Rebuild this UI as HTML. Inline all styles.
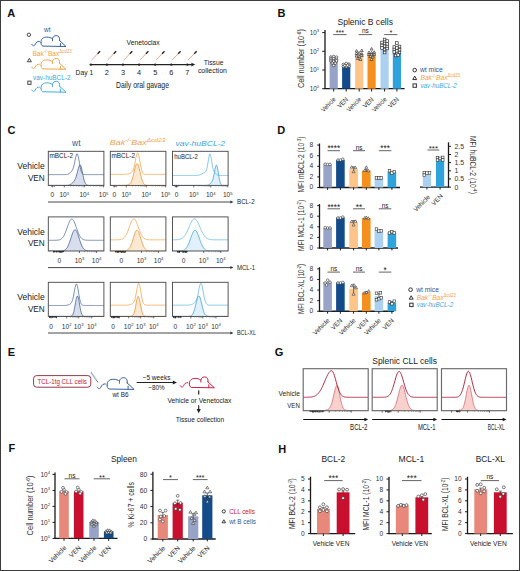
<!DOCTYPE html>
<html><head><meta charset="utf-8"><style>
html,body{margin:0;padding:0;background:#fff;}
svg{display:block;font-family:"Liberation Sans", sans-serif;}
</style></head><body>
<svg width="520" height="571" viewBox="0 0 520 571">
<rect x="0" y="0" width="520" height="571" fill="#fff"/>
<rect x="0.50" y="0.50" width="519.00" height="570.00" fill="none" stroke="#3c3c3c" stroke-width="1" />
<text x="7.20" y="17.20" font-size="11" fill="#111" text-anchor="start" font-weight="bold" >A</text>
<circle cx="28.90" cy="34.80" r="1.70" fill="white" stroke="#333" stroke-width="0.9"/>
<text x="44.00" y="31.80" font-size="6.5" fill="#2a5a9a" text-anchor="start" >wt</text>
<path d="M0,9.6 C0.8,11.2 2.4,11.6 3.4,9.6 C4.3,7.6 5.6,6.2 7.6,6.6 M9.2,7.8 C8.9,4.0 11.5,2.3 15,2.3 C17.6,2.3 19.2,3.0 20.4,3.8 M20.6,6.0 C20.2,2.8 21.8,0.8 24.4,0.8 C27,0.8 28.3,2.8 27.8,5.8 M27.6,5.6 L34.2,11.7 L11,11.3 C9.6,10.8 9.2,9.4 9.2,7.8 M28.6,8.6 L28.6,11.5" transform="translate(31.80,34.80) scale(1.0)" fill="none" stroke="#2a5a9a" stroke-width="0.95" stroke-linecap="round" stroke-linejoin="round"/>
<path d="M29.40,58.35 L31.38,61.77 L27.42,61.77 Z" fill="white" stroke="#333" stroke-width="0.9"/>
<text x="32.50" y="55.60" font-size="6.8" fill="#f0a050" text-anchor="start" textLength="39.2" lengthAdjust="spacingAndGlyphs" >Bak<tspan font-size="4.6" dy="-2.4">-/-</tspan><tspan dy="2.4">Bax</tspan><tspan font-size="4.6" dy="-2.4">Δcd23</tspan></text>
<path d="M0,9.6 C0.8,11.2 2.4,11.6 3.4,9.6 C4.3,7.6 5.6,6.2 7.6,6.6 M9.2,7.8 C8.9,4.0 11.5,2.3 15,2.3 C17.6,2.3 19.2,3.0 20.4,3.8 M20.6,6.0 C20.2,2.8 21.8,0.8 24.4,0.8 C27,0.8 28.3,2.8 27.8,5.8 M27.6,5.6 L34.2,11.7 L11,11.3 C9.6,10.8 9.2,9.4 9.2,7.8 M28.6,8.6 L28.6,11.5" transform="translate(31.80,57.60) scale(1.0)" fill="none" stroke="#f0a040" stroke-width="0.95" stroke-linecap="round" stroke-linejoin="round"/>
<rect x="27.80" y="81.10" width="3.20" height="3.20" fill="white" stroke="#333" stroke-width="0.9"/>
<text x="33.00" y="79.50" font-size="6.5" fill="#40a8dc" text-anchor="start" textLength="37.5" lengthAdjust="spacingAndGlyphs" >vav-huBCL-2</text>
<path d="M0,9.6 C0.8,11.2 2.4,11.6 3.4,9.6 C4.3,7.6 5.6,6.2 7.6,6.6 M9.2,7.8 C8.9,4.0 11.5,2.3 15,2.3 C17.6,2.3 19.2,3.0 20.4,3.8 M20.6,6.0 C20.2,2.8 21.8,0.8 24.4,0.8 C27,0.8 28.3,2.8 27.8,5.8 M27.6,5.6 L34.2,11.7 L11,11.3 C9.6,10.8 9.2,9.4 9.2,7.8 M28.6,8.6 L28.6,11.5" transform="translate(31.80,80.50) scale(1.0)" fill="none" stroke="#3aa6dc" stroke-width="0.95" stroke-linecap="round" stroke-linejoin="round"/>
<line x1="90.50" y1="64.60" x2="191.90" y2="64.60" stroke="#222" stroke-width="1.3" />
<path d="M195.20,64.60 L191.40,62.70 L191.40,66.50 Z" fill="#222"/>
<circle cx="90.80" cy="64.6" r="1.2" fill="#222"/>
<line x1="91.40" y1="60.20" x2="97.70" y2="53.70" stroke="#eaa490" stroke-width="1.0" />
<line x1="97.60" y1="53.80" x2="100.10" y2="51.20" stroke="#1c2430" stroke-width="1.35" />
<text x="75.60" y="75.40" font-size="7.4" fill="#222" text-anchor="start" textLength="17.6" lengthAdjust="spacingAndGlyphs" >Day 1</text>
<circle cx="106.90" cy="64.6" r="1.2" fill="#222"/>
<line x1="107.50" y1="60.20" x2="113.80" y2="53.70" stroke="#eaa490" stroke-width="1.0" />
<line x1="113.70" y1="53.80" x2="116.20" y2="51.20" stroke="#1c2430" stroke-width="1.35" />
<text x="106.90" y="75.40" font-size="7.4" fill="#222" text-anchor="middle" >2</text>
<circle cx="123.00" cy="64.6" r="1.2" fill="#222"/>
<line x1="123.60" y1="60.20" x2="129.90" y2="53.70" stroke="#eaa490" stroke-width="1.0" />
<line x1="129.80" y1="53.80" x2="132.30" y2="51.20" stroke="#1c2430" stroke-width="1.35" />
<text x="123.00" y="75.40" font-size="7.4" fill="#222" text-anchor="middle" >3</text>
<circle cx="139.10" cy="64.6" r="1.2" fill="#222"/>
<line x1="139.70" y1="60.20" x2="146.00" y2="53.70" stroke="#eaa490" stroke-width="1.0" />
<line x1="145.90" y1="53.80" x2="148.40" y2="51.20" stroke="#1c2430" stroke-width="1.35" />
<text x="139.10" y="75.40" font-size="7.4" fill="#222" text-anchor="middle" >4</text>
<circle cx="155.20" cy="64.6" r="1.2" fill="#222"/>
<line x1="155.80" y1="60.20" x2="162.10" y2="53.70" stroke="#eaa490" stroke-width="1.0" />
<line x1="162.00" y1="53.80" x2="164.50" y2="51.20" stroke="#1c2430" stroke-width="1.35" />
<text x="155.20" y="75.40" font-size="7.4" fill="#222" text-anchor="middle" >5</text>
<circle cx="171.30" cy="64.6" r="1.2" fill="#222"/>
<line x1="171.90" y1="60.20" x2="178.20" y2="53.70" stroke="#eaa490" stroke-width="1.0" />
<line x1="178.10" y1="53.80" x2="180.60" y2="51.20" stroke="#1c2430" stroke-width="1.35" />
<text x="171.30" y="75.40" font-size="7.4" fill="#222" text-anchor="middle" >6</text>
<circle cx="187.40" cy="64.6" r="1.2" fill="#222"/>
<line x1="188.00" y1="60.20" x2="194.30" y2="53.70" stroke="#eaa490" stroke-width="1.0" />
<line x1="194.20" y1="53.80" x2="196.70" y2="51.20" stroke="#1c2430" stroke-width="1.35" />
<text x="187.40" y="75.40" font-size="7.4" fill="#222" text-anchor="middle" >7</text>
<text x="126.50" y="45.00" font-size="6.8" fill="#222" text-anchor="start" >Venetoclax</text>
<text x="213.60" y="64.60" font-size="7.3" fill="#222" text-anchor="middle" textLength="19.6" lengthAdjust="spacingAndGlyphs" >Tissue</text>
<text x="212.40" y="73.20" font-size="7.3" fill="#222" text-anchor="middle" textLength="29" lengthAdjust="spacingAndGlyphs" >collection</text>
<text x="116.00" y="87.60" font-size="9.6" fill="#222" text-anchor="start" textLength="53" lengthAdjust="spacingAndGlyphs" >Daily oral gavage</text>
<text x="277.60" y="16.80" font-size="11" fill="#111" text-anchor="start" font-weight="bold" >B</text>
<text x="365.20" y="25.00" font-size="9" fill="#222" text-anchor="middle" textLength="55.5" lengthAdjust="spacingAndGlyphs" >Splenic B cells</text>
<line x1="325.00" y1="30.00" x2="325.00" y2="89.10" stroke="#1a1a1a" stroke-width="1.3" />
<line x1="324.50" y1="88.70" x2="404.60" y2="88.70" stroke="#1a1a1a" stroke-width="1.3" />
<line x1="322.20" y1="32.60" x2="325.00" y2="32.60" stroke="#1a1a1a" stroke-width="1.0" />
<text x="319.20" y="34.80" font-size="6.3" fill="#333" text-anchor="end" >10<tspan font-size="4.2" dy="-2.6">3</tspan></text>
<line x1="322.20" y1="51.30" x2="325.00" y2="51.30" stroke="#1a1a1a" stroke-width="1.0" />
<text x="319.20" y="53.50" font-size="6.3" fill="#333" text-anchor="end" >10<tspan font-size="4.2" dy="-2.6">2</tspan></text>
<line x1="322.20" y1="70.00" x2="325.00" y2="70.00" stroke="#1a1a1a" stroke-width="1.0" />
<text x="319.20" y="72.20" font-size="6.3" fill="#333" text-anchor="end" >10<tspan font-size="4.2" dy="-2.6">1</tspan></text>
<line x1="322.20" y1="88.70" x2="325.00" y2="88.70" stroke="#1a1a1a" stroke-width="1.0" />
<text x="319.20" y="90.90" font-size="6.3" fill="#333" text-anchor="end" >10<tspan font-size="4.2" dy="-2.6">0</tspan></text>
<text x="0" y="0" font-size="8.2" fill="#333" text-anchor="middle" transform="translate(303.80,58.60) rotate(-90)" textLength="59" lengthAdjust="spacingAndGlyphs">Cell number (10<tspan font-size="5.4" dy="-3">-6</tspan><tspan dy="3">)</tspan></text>
<rect x="329.60" y="58.50" width="8.20" height="30.20" fill="#98a3c8" stroke="none" stroke-width="1" />
<circle cx="330.90" cy="57.00" r="1.30" fill="white" stroke="#333" stroke-width="0.7"/>
<circle cx="333.70" cy="56.50" r="1.30" fill="white" stroke="#333" stroke-width="0.7"/>
<circle cx="336.50" cy="57.20" r="1.30" fill="white" stroke="#333" stroke-width="0.7"/>
<circle cx="330.90" cy="59.00" r="1.30" fill="white" stroke="#333" stroke-width="0.7"/>
<circle cx="333.70" cy="58.80" r="1.30" fill="white" stroke="#333" stroke-width="0.7"/>
<circle cx="336.50" cy="59.40" r="1.30" fill="white" stroke="#333" stroke-width="0.7"/>
<circle cx="330.90" cy="61.00" r="1.30" fill="white" stroke="#333" stroke-width="0.7"/>
<circle cx="333.70" cy="61.20" r="1.30" fill="white" stroke="#333" stroke-width="0.7"/>
<circle cx="336.50" cy="60.80" r="1.30" fill="white" stroke="#333" stroke-width="0.7"/>
<circle cx="332.20" cy="63.00" r="1.30" fill="white" stroke="#333" stroke-width="0.7"/>
<circle cx="335.20" cy="63.20" r="1.30" fill="white" stroke="#333" stroke-width="0.7"/>
<circle cx="333.70" cy="65.50" r="1.30" fill="white" stroke="#333" stroke-width="0.7"/>
<rect x="342.10" y="65.20" width="8.20" height="23.50" fill="#124a8a" stroke="none" stroke-width="1" />
<circle cx="343.40" cy="64.50" r="1.30" fill="white" stroke="#333" stroke-width="0.7"/>
<circle cx="346.20" cy="63.50" r="1.30" fill="white" stroke="#333" stroke-width="0.7"/>
<circle cx="349.00" cy="64.20" r="1.30" fill="white" stroke="#333" stroke-width="0.7"/>
<circle cx="343.40" cy="66.50" r="1.30" fill="white" stroke="#333" stroke-width="0.7"/>
<circle cx="346.20" cy="66.80" r="1.30" fill="white" stroke="#333" stroke-width="0.7"/>
<circle cx="349.00" cy="66.20" r="1.30" fill="white" stroke="#333" stroke-width="0.7"/>
<circle cx="344.80" cy="65.50" r="1.30" fill="white" stroke="#333" stroke-width="0.7"/>
<circle cx="347.60" cy="65.30" r="1.30" fill="white" stroke="#333" stroke-width="0.7"/>
<rect x="355.10" y="54.00" width="8.20" height="34.70" fill="#fdc58a" stroke="none" stroke-width="1" />
<path d="M356.60,49.52 L358.03,51.99 L355.17,51.99 Z" fill="white" stroke="#333" stroke-width="0.7"/>
<path d="M361.80,49.02 L363.23,51.49 L360.37,51.49 Z" fill="white" stroke="#333" stroke-width="0.7"/>
<path d="M356.60,52.02 L358.03,54.49 L355.17,54.49 Z" fill="white" stroke="#333" stroke-width="0.7"/>
<path d="M359.20,51.52 L360.63,53.99 L357.77,53.99 Z" fill="white" stroke="#333" stroke-width="0.7"/>
<path d="M361.80,52.52 L363.23,54.99 L360.37,54.99 Z" fill="white" stroke="#333" stroke-width="0.7"/>
<path d="M356.60,54.52 L358.03,56.99 L355.17,56.99 Z" fill="white" stroke="#333" stroke-width="0.7"/>
<path d="M359.20,55.02 L360.63,57.49 L357.77,57.49 Z" fill="white" stroke="#333" stroke-width="0.7"/>
<path d="M361.80,54.02 L363.23,56.49 L360.37,56.49 Z" fill="white" stroke="#333" stroke-width="0.7"/>
<path d="M357.90,57.02 L359.33,59.49 L356.47,59.49 Z" fill="white" stroke="#333" stroke-width="0.7"/>
<path d="M360.50,58.02 L361.93,60.49 L359.07,60.49 Z" fill="white" stroke="#333" stroke-width="0.7"/>
<rect x="367.50" y="53.20" width="8.20" height="35.50" fill="#f5901e" stroke="none" stroke-width="1" />
<path d="M371.60,47.52 L373.03,49.99 L370.17,49.99 Z" fill="white" stroke="#333" stroke-width="0.7"/>
<path d="M369.00,51.02 L370.43,53.49 L367.57,53.49 Z" fill="white" stroke="#333" stroke-width="0.7"/>
<path d="M371.60,51.32 L373.03,53.79 L370.17,53.79 Z" fill="white" stroke="#333" stroke-width="0.7"/>
<path d="M374.20,50.72 L375.63,53.19 L372.77,53.19 Z" fill="white" stroke="#333" stroke-width="0.7"/>
<path d="M369.00,53.02 L370.43,55.49 L367.57,55.49 Z" fill="white" stroke="#333" stroke-width="0.7"/>
<path d="M371.60,53.32 L373.03,55.79 L370.17,55.79 Z" fill="white" stroke="#333" stroke-width="0.7"/>
<path d="M374.20,52.92 L375.63,55.39 L372.77,55.39 Z" fill="white" stroke="#333" stroke-width="0.7"/>
<path d="M370.30,55.02 L371.73,57.49 L368.87,57.49 Z" fill="white" stroke="#333" stroke-width="0.7"/>
<path d="M372.90,55.52 L374.33,57.99 L371.47,57.99 Z" fill="white" stroke="#333" stroke-width="0.7"/>
<path d="M371.60,58.02 L373.03,60.49 L370.17,60.49 Z" fill="white" stroke="#333" stroke-width="0.7"/>
<rect x="380.50" y="47.20" width="8.20" height="41.50" fill="#abd0f0" stroke="none" stroke-width="1" />
<rect x="383.30" y="38.20" width="2.60" height="2.60" fill="white" stroke="#333" stroke-width="0.7"/>
<rect x="385.90" y="39.70" width="2.60" height="2.60" fill="white" stroke="#333" stroke-width="0.7"/>
<rect x="380.70" y="41.20" width="2.60" height="2.60" fill="white" stroke="#333" stroke-width="0.7"/>
<rect x="383.30" y="42.20" width="2.60" height="2.60" fill="white" stroke="#333" stroke-width="0.7"/>
<rect x="385.90" y="42.70" width="2.60" height="2.60" fill="white" stroke="#333" stroke-width="0.7"/>
<rect x="380.70" y="44.20" width="2.60" height="2.60" fill="white" stroke="#333" stroke-width="0.7"/>
<rect x="383.30" y="44.90" width="2.60" height="2.60" fill="white" stroke="#333" stroke-width="0.7"/>
<rect x="385.90" y="45.20" width="2.60" height="2.60" fill="white" stroke="#333" stroke-width="0.7"/>
<rect x="380.70" y="46.70" width="2.60" height="2.60" fill="white" stroke="#333" stroke-width="0.7"/>
<rect x="383.30" y="48.20" width="2.60" height="2.60" fill="white" stroke="#333" stroke-width="0.7"/>
<rect x="383.30" y="51.20" width="2.60" height="2.60" fill="white" stroke="#333" stroke-width="0.7"/>
<rect x="385.90" y="47.20" width="2.60" height="2.60" fill="white" stroke="#333" stroke-width="0.7"/>
<rect x="392.80" y="50.20" width="8.20" height="38.50" fill="#2ea3dc" stroke="none" stroke-width="1" />
<rect x="395.60" y="41.70" width="2.60" height="2.60" fill="white" stroke="#333" stroke-width="0.7"/>
<rect x="393.00" y="45.70" width="2.60" height="2.60" fill="white" stroke="#333" stroke-width="0.7"/>
<rect x="398.20" y="45.20" width="2.60" height="2.60" fill="white" stroke="#333" stroke-width="0.7"/>
<rect x="395.60" y="46.70" width="2.60" height="2.60" fill="white" stroke="#333" stroke-width="0.7"/>
<rect x="393.00" y="48.20" width="2.60" height="2.60" fill="white" stroke="#333" stroke-width="0.7"/>
<rect x="398.20" y="48.50" width="2.60" height="2.60" fill="white" stroke="#333" stroke-width="0.7"/>
<rect x="395.60" y="49.70" width="2.60" height="2.60" fill="white" stroke="#333" stroke-width="0.7"/>
<rect x="393.00" y="50.70" width="2.60" height="2.60" fill="white" stroke="#333" stroke-width="0.7"/>
<rect x="398.20" y="51.20" width="2.60" height="2.60" fill="white" stroke="#333" stroke-width="0.7"/>
<rect x="395.60" y="52.20" width="2.60" height="2.60" fill="white" stroke="#333" stroke-width="0.7"/>
<rect x="394.30" y="54.20" width="2.60" height="2.60" fill="white" stroke="#333" stroke-width="0.7"/>
<rect x="396.90" y="53.70" width="2.60" height="2.60" fill="white" stroke="#333" stroke-width="0.7"/>
<line x1="333.70" y1="88.70" x2="333.70" y2="91.50" stroke="#1a1a1a" stroke-width="1.0" />
<line x1="346.20" y1="88.70" x2="346.20" y2="91.50" stroke="#1a1a1a" stroke-width="1.0" />
<line x1="359.20" y1="88.70" x2="359.20" y2="91.50" stroke="#1a1a1a" stroke-width="1.0" />
<line x1="371.60" y1="88.70" x2="371.60" y2="91.50" stroke="#1a1a1a" stroke-width="1.0" />
<line x1="384.60" y1="88.70" x2="384.60" y2="91.50" stroke="#1a1a1a" stroke-width="1.0" />
<line x1="396.90" y1="88.70" x2="396.90" y2="91.50" stroke="#1a1a1a" stroke-width="1.0" />
<line x1="333.20" y1="34.60" x2="346.60" y2="34.60" stroke="#222" stroke-width="0.7" />
<text x="339.90" y="35.30" font-size="7.3" fill="#222" text-anchor="middle" >***</text>
<line x1="358.60" y1="34.60" x2="372.20" y2="34.60" stroke="#222" stroke-width="0.7" />
<text x="365.40" y="33.40" font-size="6.5" fill="#222" text-anchor="middle" >ns</text>
<line x1="384.20" y1="34.60" x2="397.40" y2="34.60" stroke="#222" stroke-width="0.7" />
<text x="390.80" y="35.30" font-size="7.3" fill="#222" text-anchor="middle" >*</text>
<text x="0" y="0" font-size="6.6" fill="#222" text-anchor="end" transform="translate(336.10,100.00) rotate(-45)" textLength="17.4" lengthAdjust="spacingAndGlyphs">Vehicle</text>
<text x="0" y="0" font-size="6.6" fill="#222" text-anchor="end" transform="translate(348.60,100.00) rotate(-45)" textLength="12.2" lengthAdjust="spacingAndGlyphs">VEN</text>
<text x="0" y="0" font-size="6.6" fill="#222" text-anchor="end" transform="translate(361.60,100.00) rotate(-45)" textLength="17.4" lengthAdjust="spacingAndGlyphs">Vehicle</text>
<text x="0" y="0" font-size="6.6" fill="#222" text-anchor="end" transform="translate(374.00,100.00) rotate(-45)" textLength="12.2" lengthAdjust="spacingAndGlyphs">VEN</text>
<text x="0" y="0" font-size="6.6" fill="#222" text-anchor="end" transform="translate(387.00,100.00) rotate(-45)" textLength="17.4" lengthAdjust="spacingAndGlyphs">Vehicle</text>
<text x="0" y="0" font-size="6.6" fill="#222" text-anchor="end" transform="translate(399.30,100.00) rotate(-45)" textLength="12.2" lengthAdjust="spacingAndGlyphs">VEN</text>
<circle cx="414.70" cy="70.10" r="1.80" fill="white" stroke="#333" stroke-width="1.0"/>
<text x="420.00" y="72.20" font-size="6.8" fill="#2a5a9a" text-anchor="start" textLength="22.7" lengthAdjust="spacingAndGlyphs" >wt mice</text>
<path d="M414.70,76.15 L416.68,79.57 L412.72,79.57 Z" fill="white" stroke="#333" stroke-width="1.0"/>
<text x="420.50" y="80.00" font-size="6.8" fill="#f5a04a" text-anchor="start" textLength="39.6" lengthAdjust="spacingAndGlyphs" ><tspan font-style="italic">Bak</tspan><tspan font-size="4.6" dy="-2.4">-/-</tspan><tspan dy="2.4" font-style="italic">Bax</tspan><tspan font-size="4.6" dy="-2.6">Δcd23</tspan></text>
<rect x="413.00" y="83.90" width="3.40" height="3.40" fill="white" stroke="#333" stroke-width="1.0"/>
<text x="420.50" y="87.70" font-size="6.8" fill="#40a8dc" text-anchor="start" font-style="italic" textLength="36.3" lengthAdjust="spacingAndGlyphs" >vav-huBCL-2</text>
<text x="7.40" y="134.20" font-size="11" fill="#111" text-anchor="start" font-weight="bold" >C</text>
<text x="76.30" y="146.40" font-size="8.4" fill="#2a5a9a" text-anchor="middle" >wt</text>
<text x="109.80" y="144.60" font-size="7.8" fill="#f0a050" text-anchor="start" font-style="italic" textLength="55.6" lengthAdjust="spacingAndGlyphs" >Bak<tspan font-size="5.8" dy="-3">-/-</tspan><tspan dy="3">Bax</tspan><tspan font-size="5.8" dy="-3">Δcd23</tspan></text>
<text x="200.40" y="145.80" font-size="7.8" fill="#3aa6dc" text-anchor="middle" font-style="italic" textLength="49.8" lengthAdjust="spacingAndGlyphs" >vav-huBCL-2</text>
<text x="44.80" y="168.90" font-size="9" fill="#222" text-anchor="end" textLength="27.6" lengthAdjust="spacingAndGlyphs" >Vehicle</text>
<text x="44.80" y="180.50" font-size="9" fill="#222" text-anchor="end" textLength="16.9" lengthAdjust="spacingAndGlyphs" >VEN</text>
<text x="44.80" y="234.50" font-size="9" fill="#222" text-anchor="end" textLength="27.6" lengthAdjust="spacingAndGlyphs" >Vehicle</text>
<text x="44.80" y="246.10" font-size="9" fill="#222" text-anchor="end" textLength="16.9" lengthAdjust="spacingAndGlyphs" >VEN</text>
<text x="44.80" y="299.90" font-size="9" fill="#222" text-anchor="end" textLength="27.6" lengthAdjust="spacingAndGlyphs" >Vehicle</text>
<text x="44.80" y="311.50" font-size="9" fill="#222" text-anchor="end" textLength="16.9" lengthAdjust="spacingAndGlyphs" >VEN</text>
<clipPath id="c162"><rect x="48.30" y="151.30" width="55.60" height="34.10"/></clipPath>
<path d="M48.3,185.40 L48.7,185.40 L49.1,185.40 L49.5,185.40 L49.9,185.40 L50.3,185.40 L50.7,185.40 L51.1,185.40 L51.5,185.40 L51.9,185.40 L52.3,185.40 L52.7,185.40 L53.1,185.40 L53.5,185.40 L53.9,185.40 L54.3,185.40 L54.7,185.40 L55.1,185.40 L55.5,185.40 L55.9,185.40 L56.3,185.40 L56.7,185.40 L57.1,185.40 L57.5,185.40 L57.9,185.40 L58.3,185.40 L58.7,185.40 L59.1,185.40 L59.5,185.40 L59.9,185.40 L60.3,185.40 L60.7,185.40 L61.1,185.40 L61.5,185.40 L61.9,185.40 L62.3,185.40 L62.7,185.40 L63.1,185.40 L63.5,185.40 L63.9,185.40 L64.3,185.40 L64.7,185.39 L65.1,185.39 L65.5,185.39 L65.9,185.38 L66.3,185.36 L66.7,185.35 L67.1,185.32 L67.5,185.29 L67.9,185.24 L68.3,185.18 L68.7,185.10 L69.1,185.00 L69.5,184.88 L69.9,184.72 L70.3,184.53 L70.7,184.31 L71.1,184.06 L71.5,183.78 L71.9,183.46 L72.3,183.10 L72.7,182.72 L73.1,182.30 L73.5,181.85 L73.9,181.34 L74.3,180.77 L74.7,180.11 L75.1,179.35 L75.5,178.47 L75.9,177.43 L76.3,176.23 L76.7,174.87 L77.1,173.37 L77.5,171.78 L77.9,170.15 L78.3,168.59 L78.7,167.19 L79.1,166.05 L79.5,165.26 L79.9,164.90 L80.3,165.02 L80.7,165.61 L81.1,166.66 L81.5,168.09 L81.9,169.81 L82.3,171.72 L82.7,173.70 L83.1,175.65 L83.5,177.49 L83.9,179.14 L84.3,180.58 L84.7,181.79 L85.1,182.76 L85.5,183.52 L85.9,184.10 L86.3,184.52 L86.7,184.82 L87.1,185.03 L87.5,185.17 L87.9,185.26 L88.3,185.32 L88.7,185.35 L89.1,185.37 L89.5,185.39 L89.9,185.39 L90.3,185.40 L90.7,185.40 L91.1,185.40 L91.5,185.40 L91.9,185.40 L92.3,185.40 L92.7,185.40 L93.1,185.40 L93.5,185.40 L93.9,185.40 L94.3,185.40 L94.7,185.40 L95.1,185.40 L95.5,185.40 L95.9,185.40 L96.3,185.40 L96.7,185.40 L97.1,185.40 L97.5,185.40 L97.9,185.40 L98.3,185.40 L98.7,185.40 L99.1,185.40 L99.5,185.40 L99.9,185.40 L100.3,185.40 L100.7,185.40 L101.1,185.40 L101.5,185.40 L101.9,185.40 L102.3,185.40 L102.7,185.40 L103.1,185.40 L103.5,185.40 L103.9,185.40 L103.90,186.40 L48.30,186.40 Z" fill="#d8deed" stroke="none" clip-path="url(#c162)"/>
<path d="M48.3,185.40 L48.7,185.40 L49.1,185.40 L49.5,185.40 L49.9,185.40 L50.3,185.40 L50.7,185.40 L51.1,185.40 L51.5,185.40 L51.9,185.40 L52.3,185.40 L52.7,185.40 L53.1,185.40 L53.5,185.40 L53.9,185.40 L54.3,185.40 L54.7,185.40 L55.1,185.40 L55.5,185.40 L55.9,185.40 L56.3,185.40 L56.7,185.40 L57.1,185.40 L57.5,185.40 L57.9,185.40 L58.3,185.40 L58.7,185.40 L59.1,185.40 L59.5,185.40 L59.9,185.40 L60.3,185.40 L60.7,185.40 L61.1,185.40 L61.5,185.40 L61.9,185.40 L62.3,185.40 L62.7,185.40 L63.1,185.40 L63.5,185.40 L63.9,185.40 L64.3,185.40 L64.7,185.39 L65.1,185.39 L65.5,185.39 L65.9,185.38 L66.3,185.36 L66.7,185.35 L67.1,185.32 L67.5,185.29 L67.9,185.24 L68.3,185.18 L68.7,185.10 L69.1,185.00 L69.5,184.88 L69.9,184.72 L70.3,184.53 L70.7,184.31 L71.1,184.06 L71.5,183.78 L71.9,183.46 L72.3,183.10 L72.7,182.72 L73.1,182.30 L73.5,181.85 L73.9,181.34 L74.3,180.77 L74.7,180.11 L75.1,179.35 L75.5,178.47 L75.9,177.43 L76.3,176.23 L76.7,174.87 L77.1,173.37 L77.5,171.78 L77.9,170.15 L78.3,168.59 L78.7,167.19 L79.1,166.05 L79.5,165.26 L79.9,164.90 L80.3,165.02 L80.7,165.61 L81.1,166.66 L81.5,168.09 L81.9,169.81 L82.3,171.72 L82.7,173.70 L83.1,175.65 L83.5,177.49 L83.9,179.14 L84.3,180.58 L84.7,181.79 L85.1,182.76 L85.5,183.52 L85.9,184.10 L86.3,184.52 L86.7,184.82 L87.1,185.03 L87.5,185.17 L87.9,185.26 L88.3,185.32 L88.7,185.35 L89.1,185.37 L89.5,185.39 L89.9,185.39 L90.3,185.40 L90.7,185.40 L91.1,185.40 L91.5,185.40 L91.9,185.40 L92.3,185.40 L92.7,185.40 L93.1,185.40 L93.5,185.40 L93.9,185.40 L94.3,185.40 L94.7,185.40 L95.1,185.40 L95.5,185.40 L95.9,185.40 L96.3,185.40 L96.7,185.40 L97.1,185.40 L97.5,185.40 L97.9,185.40 L98.3,185.40 L98.7,185.40 L99.1,185.40 L99.5,185.40 L99.9,185.40 L100.3,185.40 L100.7,185.40 L101.1,185.40 L101.5,185.40 L101.9,185.40 L102.3,185.40 L102.7,185.40 L103.1,185.40 L103.5,185.40 L103.9,185.40" fill="none" stroke="#3a5a8c" stroke-width="0.75" clip-path="url(#c162)"/>
<path d="M48.3,174.60 L48.7,174.60 L49.1,174.60 L49.5,174.60 L49.9,174.60 L50.3,174.60 L50.7,174.60 L51.1,174.60 L51.5,174.60 L51.9,174.60 L52.3,174.60 L52.7,174.60 L53.1,174.60 L53.5,174.60 L53.9,174.60 L54.3,174.60 L54.7,174.60 L55.1,174.60 L55.5,174.60 L55.9,174.60 L56.3,174.60 L56.7,174.60 L57.1,174.60 L57.5,174.60 L57.9,174.60 L58.3,174.60 L58.7,174.60 L59.1,174.60 L59.5,174.60 L59.9,174.60 L60.3,174.60 L60.7,174.60 L61.1,174.60 L61.5,174.60 L61.9,174.60 L62.3,174.60 L62.7,174.60 L63.1,174.60 L63.5,174.60 L63.9,174.59 L64.3,174.59 L64.7,174.58 L65.1,174.57 L65.5,174.55 L65.9,174.52 L66.3,174.48 L66.7,174.43 L67.1,174.36 L67.5,174.26 L67.9,174.13 L68.3,173.97 L68.7,173.78 L69.1,173.55 L69.5,173.28 L69.9,172.98 L70.3,172.64 L70.7,172.27 L71.1,171.86 L71.5,171.39 L71.9,170.85 L72.3,170.20 L72.7,169.41 L73.1,168.43 L73.5,167.22 L73.9,165.77 L74.3,164.07 L74.7,162.17 L75.1,160.16 L75.5,158.17 L75.9,156.37 L76.3,154.93 L76.7,154.00 L77.1,153.70 L77.5,154.09 L77.9,155.14 L78.3,156.76 L78.7,158.81 L79.1,161.11 L79.5,163.48 L79.9,165.75 L80.3,167.81 L80.7,169.57 L81.1,171.01 L81.5,172.13 L81.9,172.96 L82.3,173.55 L82.7,173.95 L83.1,174.21 L83.5,174.38 L83.9,174.48 L84.3,174.53 L84.7,174.57 L85.1,174.58 L85.5,174.59 L85.9,174.60 L86.3,174.60 L86.7,174.60 L87.1,174.60 L87.5,174.60 L87.9,174.60 L88.3,174.60 L88.7,174.60 L89.1,174.60 L89.5,174.60 L89.9,174.60 L90.3,174.60 L90.7,174.60 L91.1,174.60 L91.5,174.60 L91.9,174.60 L92.3,174.60 L92.7,174.60 L93.1,174.60 L93.5,174.60 L93.9,174.60 L94.3,174.60 L94.7,174.60 L95.1,174.60 L95.5,174.60 L95.9,174.60 L96.3,174.60 L96.7,174.60 L97.1,174.60 L97.5,174.60 L97.9,174.60 L98.3,174.60 L98.7,174.60 L99.1,174.60 L99.5,174.60 L99.9,174.60 L100.3,174.60 L100.7,174.60 L101.1,174.60 L101.5,174.60 L101.9,174.60 L102.3,174.60 L102.7,174.60 L103.1,174.60 L103.5,174.60 L103.9,174.60" fill="none" stroke="#4a6898" stroke-width="0.75" clip-path="url(#c162)"/>
<rect x="48.30" y="151.30" width="55.60" height="34.10" fill="none" stroke="#444" stroke-width="0.9" />
<rect x="51.30" y="185.40" width="0.8" height="1.53" fill="#777"/>
<rect x="52.37" y="185.40" width="0.8" height="1.31" fill="#777"/>
<rect x="52.92" y="185.40" width="0.8" height="1.04" fill="#777"/>
<rect x="54.11" y="185.40" width="0.8" height="1.61" fill="#777"/>
<line x1="52.30" y1="185.40" x2="52.30" y2="187.40" stroke="#333" stroke-width="0.7" />
<line x1="64.30" y1="185.40" x2="64.30" y2="187.40" stroke="#333" stroke-width="0.7" />
<line x1="84.30" y1="185.40" x2="84.30" y2="187.40" stroke="#333" stroke-width="0.7" />
<line x1="103.60" y1="185.40" x2="103.60" y2="187.40" stroke="#333" stroke-width="0.7" />
<rect x="70.07" y="185.40" width="0.5" height="1.2" fill="#666"/>
<rect x="73.59" y="185.40" width="0.5" height="1.2" fill="#666"/>
<rect x="76.09" y="185.40" width="0.5" height="1.2" fill="#666"/>
<rect x="78.03" y="185.40" width="0.5" height="1.2" fill="#666"/>
<rect x="79.61" y="185.40" width="0.5" height="1.2" fill="#666"/>
<rect x="80.95" y="185.40" width="0.5" height="1.2" fill="#666"/>
<rect x="82.11" y="185.40" width="0.5" height="1.2" fill="#666"/>
<rect x="83.13" y="185.40" width="0.5" height="1.2" fill="#666"/>
<rect x="89.86" y="185.40" width="0.5" height="1.2" fill="#666"/>
<rect x="93.26" y="185.40" width="0.5" height="1.2" fill="#666"/>
<rect x="95.67" y="185.40" width="0.5" height="1.2" fill="#666"/>
<rect x="97.54" y="185.40" width="0.5" height="1.2" fill="#666"/>
<rect x="99.07" y="185.40" width="0.5" height="1.2" fill="#666"/>
<rect x="100.36" y="185.40" width="0.5" height="1.2" fill="#666"/>
<rect x="101.48" y="185.40" width="0.5" height="1.2" fill="#666"/>
<rect x="102.47" y="185.40" width="0.5" height="1.2" fill="#666"/>
<clipPath id="c191"><rect x="110.30" y="151.30" width="55.60" height="34.10"/></clipPath>
<path d="M110.3,185.40 L110.7,185.40 L111.1,185.40 L111.5,185.40 L111.9,185.40 L112.3,185.40 L112.7,185.40 L113.1,185.40 L113.5,185.40 L113.9,185.40 L114.3,185.40 L114.7,185.40 L115.1,185.40 L115.5,185.40 L115.9,185.40 L116.3,185.40 L116.7,185.40 L117.1,185.40 L117.5,185.40 L117.9,185.40 L118.3,185.40 L118.7,185.40 L119.1,185.40 L119.5,185.40 L119.9,185.40 L120.3,185.40 L120.7,185.40 L121.1,185.40 L121.5,185.39 L121.9,185.39 L122.3,185.39 L122.7,185.38 L123.1,185.38 L123.5,185.37 L123.9,185.36 L124.3,185.34 L124.7,185.33 L125.1,185.30 L125.5,185.27 L125.9,185.24 L126.3,185.19 L126.7,185.14 L127.1,185.07 L127.5,184.98 L127.9,184.87 L128.3,184.73 L128.7,184.55 L129.1,184.32 L129.5,184.03 L129.9,183.67 L130.3,183.21 L130.7,182.65 L131.1,181.96 L131.5,181.12 L131.9,180.14 L132.3,178.99 L132.7,177.68 L133.1,176.22 L133.5,174.64 L133.9,172.97 L134.3,171.25 L134.7,169.56 L135.1,167.96 L135.5,166.51 L135.9,165.30 L136.3,164.38 L136.7,163.80 L137.1,163.60 L137.5,163.79 L137.9,164.37 L138.3,165.30 L138.7,166.54 L139.1,168.03 L139.5,169.68 L139.9,171.45 L140.3,173.23 L140.7,174.99 L141.1,176.65 L141.5,178.18 L141.9,179.55 L142.3,180.75 L142.7,181.76 L143.1,182.61 L143.5,183.30 L143.9,183.84 L144.3,184.26 L144.7,184.59 L145.1,184.83 L145.5,185.00 L145.9,185.13 L146.3,185.22 L146.7,185.28 L147.1,185.32 L147.5,185.35 L147.9,185.37 L148.3,185.38 L148.7,185.39 L149.1,185.39 L149.5,185.39 L149.9,185.40 L150.3,185.40 L150.7,185.40 L151.1,185.40 L151.5,185.40 L151.9,185.40 L152.3,185.40 L152.7,185.40 L153.1,185.40 L153.5,185.40 L153.9,185.40 L154.3,185.40 L154.7,185.40 L155.1,185.40 L155.5,185.40 L155.9,185.40 L156.3,185.40 L156.7,185.40 L157.1,185.40 L157.5,185.40 L157.9,185.40 L158.3,185.40 L158.7,185.40 L159.1,185.40 L159.5,185.40 L159.9,185.40 L160.3,185.40 L160.7,185.40 L161.1,185.40 L161.5,185.40 L161.9,185.40 L162.3,185.40 L162.7,185.40 L163.1,185.40 L163.5,185.40 L163.9,185.40 L164.3,185.40 L164.7,185.40 L165.1,185.40 L165.5,185.40 L165.9,185.40 L165.90,186.40 L110.30,186.40 Z" fill="#fde8d2" stroke="none" clip-path="url(#c191)"/>
<path d="M110.3,185.40 L110.7,185.40 L111.1,185.40 L111.5,185.40 L111.9,185.40 L112.3,185.40 L112.7,185.40 L113.1,185.40 L113.5,185.40 L113.9,185.40 L114.3,185.40 L114.7,185.40 L115.1,185.40 L115.5,185.40 L115.9,185.40 L116.3,185.40 L116.7,185.40 L117.1,185.40 L117.5,185.40 L117.9,185.40 L118.3,185.40 L118.7,185.40 L119.1,185.40 L119.5,185.40 L119.9,185.40 L120.3,185.40 L120.7,185.40 L121.1,185.40 L121.5,185.39 L121.9,185.39 L122.3,185.39 L122.7,185.38 L123.1,185.38 L123.5,185.37 L123.9,185.36 L124.3,185.34 L124.7,185.33 L125.1,185.30 L125.5,185.27 L125.9,185.24 L126.3,185.19 L126.7,185.14 L127.1,185.07 L127.5,184.98 L127.9,184.87 L128.3,184.73 L128.7,184.55 L129.1,184.32 L129.5,184.03 L129.9,183.67 L130.3,183.21 L130.7,182.65 L131.1,181.96 L131.5,181.12 L131.9,180.14 L132.3,178.99 L132.7,177.68 L133.1,176.22 L133.5,174.64 L133.9,172.97 L134.3,171.25 L134.7,169.56 L135.1,167.96 L135.5,166.51 L135.9,165.30 L136.3,164.38 L136.7,163.80 L137.1,163.60 L137.5,163.79 L137.9,164.37 L138.3,165.30 L138.7,166.54 L139.1,168.03 L139.5,169.68 L139.9,171.45 L140.3,173.23 L140.7,174.99 L141.1,176.65 L141.5,178.18 L141.9,179.55 L142.3,180.75 L142.7,181.76 L143.1,182.61 L143.5,183.30 L143.9,183.84 L144.3,184.26 L144.7,184.59 L145.1,184.83 L145.5,185.00 L145.9,185.13 L146.3,185.22 L146.7,185.28 L147.1,185.32 L147.5,185.35 L147.9,185.37 L148.3,185.38 L148.7,185.39 L149.1,185.39 L149.5,185.39 L149.9,185.40 L150.3,185.40 L150.7,185.40 L151.1,185.40 L151.5,185.40 L151.9,185.40 L152.3,185.40 L152.7,185.40 L153.1,185.40 L153.5,185.40 L153.9,185.40 L154.3,185.40 L154.7,185.40 L155.1,185.40 L155.5,185.40 L155.9,185.40 L156.3,185.40 L156.7,185.40 L157.1,185.40 L157.5,185.40 L157.9,185.40 L158.3,185.40 L158.7,185.40 L159.1,185.40 L159.5,185.40 L159.9,185.40 L160.3,185.40 L160.7,185.40 L161.1,185.40 L161.5,185.40 L161.9,185.40 L162.3,185.40 L162.7,185.40 L163.1,185.40 L163.5,185.40 L163.9,185.40 L164.3,185.40 L164.7,185.40 L165.1,185.40 L165.5,185.40 L165.9,185.40" fill="none" stroke="#e88e2c" stroke-width="0.75" clip-path="url(#c191)"/>
<path d="M110.3,174.40 L110.7,174.40 L111.1,174.40 L111.5,174.40 L111.9,174.40 L112.3,174.40 L112.7,174.40 L113.1,174.40 L113.5,174.40 L113.9,174.40 L114.3,174.40 L114.7,174.40 L115.1,174.40 L115.5,174.40 L115.9,174.40 L116.3,174.40 L116.7,174.40 L117.1,174.40 L117.5,174.40 L117.9,174.40 L118.3,174.40 L118.7,174.40 L119.1,174.40 L119.5,174.40 L119.9,174.40 L120.3,174.40 L120.7,174.40 L121.1,174.40 L121.5,174.40 L121.9,174.40 L122.3,174.40 L122.7,174.40 L123.1,174.39 L123.5,174.39 L123.9,174.39 L124.3,174.38 L124.7,174.37 L125.1,174.36 L125.5,174.34 L125.9,174.32 L126.3,174.28 L126.7,174.24 L127.1,174.19 L127.5,174.12 L127.9,174.04 L128.3,173.94 L128.7,173.82 L129.1,173.68 L129.5,173.53 L129.9,173.35 L130.3,173.15 L130.7,172.93 L131.1,172.66 L131.5,172.35 L131.9,171.96 L132.3,171.47 L132.7,170.83 L133.1,170.02 L133.5,168.98 L133.9,167.68 L134.3,166.12 L134.7,164.30 L135.1,162.29 L135.5,160.16 L135.9,158.06 L136.3,156.13 L136.7,154.53 L137.1,153.41 L137.5,152.90 L137.9,153.05 L138.3,153.85 L138.7,155.24 L139.1,157.10 L139.5,159.28 L139.9,161.61 L140.3,163.93 L140.7,166.10 L141.1,168.04 L141.5,169.68 L141.9,171.01 L142.3,172.04 L142.7,172.81 L143.1,173.37 L143.5,173.75 L143.9,174.00 L144.3,174.17 L144.7,174.27 L145.1,174.33 L145.5,174.36 L145.9,174.38 L146.3,174.39 L146.7,174.40 L147.1,174.40 L147.5,174.40 L147.9,174.40 L148.3,174.40 L148.7,174.40 L149.1,174.40 L149.5,174.40 L149.9,174.40 L150.3,174.40 L150.7,174.40 L151.1,174.40 L151.5,174.40 L151.9,174.40 L152.3,174.40 L152.7,174.40 L153.1,174.40 L153.5,174.40 L153.9,174.40 L154.3,174.40 L154.7,174.40 L155.1,174.40 L155.5,174.40 L155.9,174.40 L156.3,174.40 L156.7,174.40 L157.1,174.40 L157.5,174.40 L157.9,174.40 L158.3,174.40 L158.7,174.40 L159.1,174.40 L159.5,174.40 L159.9,174.40 L160.3,174.40 L160.7,174.40 L161.1,174.40 L161.5,174.40 L161.9,174.40 L162.3,174.40 L162.7,174.40 L163.1,174.40 L163.5,174.40 L163.9,174.40 L164.3,174.40 L164.7,174.40 L165.1,174.40 L165.5,174.40 L165.9,174.40" fill="none" stroke="#f0a040" stroke-width="0.75" clip-path="url(#c191)"/>
<rect x="110.30" y="151.30" width="55.60" height="34.10" fill="none" stroke="#444" stroke-width="0.9" />
<rect x="113.30" y="185.40" width="0.8" height="1.40" fill="#777"/>
<rect x="114.13" y="185.40" width="0.8" height="1.47" fill="#777"/>
<rect x="115.30" y="185.40" width="0.8" height="1.64" fill="#777"/>
<rect x="115.94" y="185.40" width="0.8" height="1.80" fill="#777"/>
<line x1="114.30" y1="185.40" x2="114.30" y2="187.40" stroke="#333" stroke-width="0.7" />
<line x1="126.30" y1="185.40" x2="126.30" y2="187.40" stroke="#333" stroke-width="0.7" />
<line x1="146.30" y1="185.40" x2="146.30" y2="187.40" stroke="#333" stroke-width="0.7" />
<line x1="165.60" y1="185.40" x2="165.60" y2="187.40" stroke="#333" stroke-width="0.7" />
<rect x="132.07" y="185.40" width="0.5" height="1.2" fill="#666"/>
<rect x="135.59" y="185.40" width="0.5" height="1.2" fill="#666"/>
<rect x="138.09" y="185.40" width="0.5" height="1.2" fill="#666"/>
<rect x="140.03" y="185.40" width="0.5" height="1.2" fill="#666"/>
<rect x="141.61" y="185.40" width="0.5" height="1.2" fill="#666"/>
<rect x="142.95" y="185.40" width="0.5" height="1.2" fill="#666"/>
<rect x="144.11" y="185.40" width="0.5" height="1.2" fill="#666"/>
<rect x="145.13" y="185.40" width="0.5" height="1.2" fill="#666"/>
<rect x="151.86" y="185.40" width="0.5" height="1.2" fill="#666"/>
<rect x="155.26" y="185.40" width="0.5" height="1.2" fill="#666"/>
<rect x="157.67" y="185.40" width="0.5" height="1.2" fill="#666"/>
<rect x="159.54" y="185.40" width="0.5" height="1.2" fill="#666"/>
<rect x="161.07" y="185.40" width="0.5" height="1.2" fill="#666"/>
<rect x="162.36" y="185.40" width="0.5" height="1.2" fill="#666"/>
<rect x="163.48" y="185.40" width="0.5" height="1.2" fill="#666"/>
<rect x="164.47" y="185.40" width="0.5" height="1.2" fill="#666"/>
<clipPath id="c220"><rect x="172.50" y="151.30" width="55.60" height="34.10"/></clipPath>
<path d="M172.5,185.40 L172.9,185.40 L173.3,185.40 L173.7,185.40 L174.1,185.40 L174.5,185.40 L174.9,185.40 L175.3,185.40 L175.7,185.40 L176.1,185.40 L176.5,185.40 L176.9,185.40 L177.3,185.40 L177.7,185.40 L178.1,185.40 L178.5,185.40 L178.9,185.40 L179.3,185.40 L179.7,185.40 L180.1,185.40 L180.5,185.40 L180.9,185.40 L181.3,185.40 L181.7,185.40 L182.1,185.40 L182.5,185.40 L182.9,185.40 L183.3,185.40 L183.7,185.40 L184.1,185.40 L184.5,185.40 L184.9,185.40 L185.3,185.40 L185.7,185.40 L186.1,185.40 L186.5,185.40 L186.9,185.40 L187.3,185.40 L187.7,185.40 L188.1,185.40 L188.5,185.40 L188.9,185.40 L189.3,185.40 L189.7,185.40 L190.1,185.40 L190.5,185.40 L190.9,185.40 L191.3,185.40 L191.7,185.40 L192.1,185.40 L192.5,185.40 L192.9,185.40 L193.3,185.40 L193.7,185.40 L194.1,185.40 L194.5,185.40 L194.9,185.40 L195.3,185.40 L195.7,185.40 L196.1,185.40 L196.5,185.40 L196.9,185.40 L197.3,185.40 L197.7,185.40 L198.1,185.40 L198.5,185.40 L198.9,185.40 L199.3,185.40 L199.7,185.40 L200.1,185.40 L200.5,185.40 L200.9,185.40 L201.3,185.40 L201.7,185.40 L202.1,185.40 L202.5,185.40 L202.9,185.40 L203.3,185.40 L203.7,185.40 L204.1,185.39 L204.5,185.39 L204.9,185.38 L205.3,185.37 L205.7,185.36 L206.1,185.34 L206.5,185.30 L206.9,185.25 L207.3,185.19 L207.7,185.09 L208.1,184.98 L208.5,184.83 L208.9,184.64 L209.3,184.42 L209.7,184.16 L210.1,183.86 L210.5,183.52 L210.9,183.12 L211.3,182.66 L211.7,182.09 L212.1,181.38 L212.5,180.48 L212.9,179.33 L213.3,177.88 L213.7,176.14 L214.1,174.13 L214.5,171.95 L214.9,169.76 L215.3,167.77 L215.7,166.20 L216.1,165.27 L216.5,165.10 L216.9,165.75 L217.3,167.16 L217.7,169.16 L218.1,171.56 L218.5,174.10 L218.9,176.57 L219.3,178.79 L219.7,180.67 L220.1,182.16 L220.5,183.27 L220.9,184.06 L221.3,184.60 L221.7,184.94 L222.1,185.15 L222.5,185.27 L222.9,185.33 L223.3,185.37 L223.7,185.39 L224.1,185.39 L224.5,185.40 L224.9,185.40 L225.3,185.40 L225.7,185.40 L226.1,185.40 L226.5,185.40 L226.9,185.40 L227.3,185.40 L227.7,185.40 L228.1,185.40 L228.10,186.40 L172.50,186.40 Z" fill="#e0f1fb" stroke="none" clip-path="url(#c220)"/>
<path d="M172.5,185.40 L172.9,185.40 L173.3,185.40 L173.7,185.40 L174.1,185.40 L174.5,185.40 L174.9,185.40 L175.3,185.40 L175.7,185.40 L176.1,185.40 L176.5,185.40 L176.9,185.40 L177.3,185.40 L177.7,185.40 L178.1,185.40 L178.5,185.40 L178.9,185.40 L179.3,185.40 L179.7,185.40 L180.1,185.40 L180.5,185.40 L180.9,185.40 L181.3,185.40 L181.7,185.40 L182.1,185.40 L182.5,185.40 L182.9,185.40 L183.3,185.40 L183.7,185.40 L184.1,185.40 L184.5,185.40 L184.9,185.40 L185.3,185.40 L185.7,185.40 L186.1,185.40 L186.5,185.40 L186.9,185.40 L187.3,185.40 L187.7,185.40 L188.1,185.40 L188.5,185.40 L188.9,185.40 L189.3,185.40 L189.7,185.40 L190.1,185.40 L190.5,185.40 L190.9,185.40 L191.3,185.40 L191.7,185.40 L192.1,185.40 L192.5,185.40 L192.9,185.40 L193.3,185.40 L193.7,185.40 L194.1,185.40 L194.5,185.40 L194.9,185.40 L195.3,185.40 L195.7,185.40 L196.1,185.40 L196.5,185.40 L196.9,185.40 L197.3,185.40 L197.7,185.40 L198.1,185.40 L198.5,185.40 L198.9,185.40 L199.3,185.40 L199.7,185.40 L200.1,185.40 L200.5,185.40 L200.9,185.40 L201.3,185.40 L201.7,185.40 L202.1,185.40 L202.5,185.40 L202.9,185.40 L203.3,185.40 L203.7,185.40 L204.1,185.39 L204.5,185.39 L204.9,185.38 L205.3,185.37 L205.7,185.36 L206.1,185.34 L206.5,185.30 L206.9,185.25 L207.3,185.19 L207.7,185.09 L208.1,184.98 L208.5,184.83 L208.9,184.64 L209.3,184.42 L209.7,184.16 L210.1,183.86 L210.5,183.52 L210.9,183.12 L211.3,182.66 L211.7,182.09 L212.1,181.38 L212.5,180.48 L212.9,179.33 L213.3,177.88 L213.7,176.14 L214.1,174.13 L214.5,171.95 L214.9,169.76 L215.3,167.77 L215.7,166.20 L216.1,165.27 L216.5,165.10 L216.9,165.75 L217.3,167.16 L217.7,169.16 L218.1,171.56 L218.5,174.10 L218.9,176.57 L219.3,178.79 L219.7,180.67 L220.1,182.16 L220.5,183.27 L220.9,184.06 L221.3,184.60 L221.7,184.94 L222.1,185.15 L222.5,185.27 L222.9,185.33 L223.3,185.37 L223.7,185.39 L224.1,185.39 L224.5,185.40 L224.9,185.40 L225.3,185.40 L225.7,185.40 L226.1,185.40 L226.5,185.40 L226.9,185.40 L227.3,185.40 L227.7,185.40 L228.1,185.40" fill="none" stroke="#3e9ad6" stroke-width="0.75" clip-path="url(#c220)"/>
<path d="M172.5,175.50 L172.9,175.50 L173.3,175.50 L173.7,175.50 L174.1,175.50 L174.5,175.50 L174.9,175.50 L175.3,175.50 L175.7,175.50 L176.1,175.50 L176.5,175.50 L176.9,175.50 L177.3,175.50 L177.7,175.50 L178.1,175.50 L178.5,175.50 L178.9,175.50 L179.3,175.50 L179.7,175.50 L180.1,175.50 L180.5,175.50 L180.9,175.50 L181.3,175.50 L181.7,175.50 L182.1,175.50 L182.5,175.50 L182.9,175.50 L183.3,175.50 L183.7,175.50 L184.1,175.50 L184.5,175.50 L184.9,175.50 L185.3,175.50 L185.7,175.50 L186.1,175.50 L186.5,175.50 L186.9,175.50 L187.3,175.50 L187.7,175.50 L188.1,175.50 L188.5,175.50 L188.9,175.50 L189.3,175.50 L189.7,175.50 L190.1,175.50 L190.5,175.50 L190.9,175.50 L191.3,175.50 L191.7,175.50 L192.1,175.50 L192.5,175.50 L192.9,175.50 L193.3,175.50 L193.7,175.49 L194.1,175.49 L194.5,175.49 L194.9,175.48 L195.3,175.47 L195.7,175.46 L196.1,175.44 L196.5,175.42 L196.9,175.39 L197.3,175.35 L197.7,175.30 L198.1,175.24 L198.5,175.16 L198.9,175.06 L199.3,174.95 L199.7,174.81 L200.1,174.66 L200.5,174.49 L200.9,174.31 L201.3,174.11 L201.7,173.91 L202.1,173.70 L202.5,173.50 L202.9,173.31 L203.3,173.13 L203.7,172.96 L204.1,172.80 L204.5,172.63 L204.9,172.42 L205.3,172.12 L205.7,171.66 L206.1,170.96 L206.5,169.93 L206.9,168.51 L207.3,166.65 L207.7,164.40 L208.1,161.88 L208.5,159.30 L208.9,156.94 L209.3,155.09 L209.7,154.02 L210.1,153.90 L210.5,154.74 L210.9,156.44 L211.3,158.74 L211.7,161.33 L212.1,163.92 L212.5,166.25 L212.9,168.17 L213.3,169.64 L213.7,170.71 L214.1,171.48 L214.5,172.05 L214.9,172.54 L215.3,173.01 L215.7,173.47 L216.1,173.91 L216.5,174.32 L216.9,174.67 L217.3,174.95 L217.7,175.16 L218.1,175.30 L218.5,175.39 L218.9,175.44 L219.3,175.47 L219.7,175.49 L220.1,175.49 L220.5,175.50 L220.9,175.50 L221.3,175.50 L221.7,175.50 L222.1,175.50 L222.5,175.50 L222.9,175.50 L223.3,175.50 L223.7,175.50 L224.1,175.50 L224.5,175.50 L224.9,175.50 L225.3,175.50 L225.7,175.50 L226.1,175.50 L226.5,175.50 L226.9,175.50 L227.3,175.50 L227.7,175.50 L228.1,175.50" fill="none" stroke="#5cb6e2" stroke-width="0.75" clip-path="url(#c220)"/>
<rect x="172.50" y="151.30" width="55.60" height="34.10" fill="none" stroke="#444" stroke-width="0.9" />
<rect x="174.50" y="185.40" width="0.8" height="1.29" fill="#555"/>
<rect x="175.07" y="185.40" width="0.8" height="1.83" fill="#555"/>
<rect x="176.11" y="185.40" width="0.8" height="1.72" fill="#555"/>
<rect x="176.61" y="185.40" width="0.8" height="1.69" fill="#555"/>
<rect x="177.17" y="185.40" width="0.8" height="1.02" fill="#555"/>
<rect x="178.19" y="185.40" width="0.8" height="1.03" fill="#555"/>
<line x1="176.50" y1="185.40" x2="176.50" y2="187.40" stroke="#333" stroke-width="0.7" />
<line x1="193.80" y1="185.40" x2="193.80" y2="187.40" stroke="#333" stroke-width="0.7" />
<line x1="210.80" y1="185.40" x2="210.80" y2="187.40" stroke="#333" stroke-width="0.7" />
<line x1="227.80" y1="185.40" x2="227.80" y2="187.40" stroke="#333" stroke-width="0.7" />
<rect x="198.67" y="185.40" width="0.5" height="1.2" fill="#666"/>
<rect x="201.66" y="185.40" width="0.5" height="1.2" fill="#666"/>
<rect x="203.79" y="185.40" width="0.5" height="1.2" fill="#666"/>
<rect x="205.43" y="185.40" width="0.5" height="1.2" fill="#666"/>
<rect x="206.78" y="185.40" width="0.5" height="1.2" fill="#666"/>
<rect x="207.92" y="185.40" width="0.5" height="1.2" fill="#666"/>
<rect x="208.90" y="185.40" width="0.5" height="1.2" fill="#666"/>
<rect x="209.77" y="185.40" width="0.5" height="1.2" fill="#666"/>
<rect x="215.67" y="185.40" width="0.5" height="1.2" fill="#666"/>
<rect x="218.66" y="185.40" width="0.5" height="1.2" fill="#666"/>
<rect x="220.79" y="185.40" width="0.5" height="1.2" fill="#666"/>
<rect x="222.43" y="185.40" width="0.5" height="1.2" fill="#666"/>
<rect x="223.78" y="185.40" width="0.5" height="1.2" fill="#666"/>
<rect x="224.92" y="185.40" width="0.5" height="1.2" fill="#666"/>
<rect x="225.90" y="185.40" width="0.5" height="1.2" fill="#666"/>
<rect x="226.77" y="185.40" width="0.5" height="1.2" fill="#666"/>
<text x="49.50" y="158.40" font-size="6.4" fill="#222" text-anchor="start" textLength="23.5" lengthAdjust="spacingAndGlyphs" >mBCL-2</text>
<text x="111.50" y="158.40" font-size="6.4" fill="#222" text-anchor="start" textLength="23.5" lengthAdjust="spacingAndGlyphs" >mBCL-2</text>
<text x="174.20" y="159.20" font-size="6.4" fill="#222" text-anchor="start" textLength="23.8" lengthAdjust="spacingAndGlyphs" >huBCL-2</text>
<text x="52.30" y="197.10" font-size="6.6" fill="#333" text-anchor="middle" >0</text>
<text x="64.30" y="197.10" font-size="6.6" fill="#333" text-anchor="middle" >10<tspan font-size="4.2" dy="-2.6">3</tspan></text>
<text x="84.30" y="197.10" font-size="6.6" fill="#333" text-anchor="middle" >10<tspan font-size="4.2" dy="-2.6">4</tspan></text>
<text x="103.60" y="197.10" font-size="6.6" fill="#333" text-anchor="middle" >10<tspan font-size="4.2" dy="-2.6">5</tspan></text>
<text x="114.30" y="197.10" font-size="6.6" fill="#333" text-anchor="middle" >0</text>
<text x="126.30" y="197.10" font-size="6.6" fill="#333" text-anchor="middle" >10<tspan font-size="4.2" dy="-2.6">3</tspan></text>
<text x="146.30" y="197.10" font-size="6.6" fill="#333" text-anchor="middle" >10<tspan font-size="4.2" dy="-2.6">4</tspan></text>
<text x="165.60" y="197.10" font-size="6.6" fill="#333" text-anchor="middle" >10<tspan font-size="4.2" dy="-2.6">5</tspan></text>
<text x="176.50" y="197.10" font-size="6.6" fill="#333" text-anchor="middle" >0</text>
<text x="193.80" y="197.10" font-size="6.6" fill="#333" text-anchor="middle" >10<tspan font-size="4.2" dy="-2.6">3</tspan></text>
<text x="210.80" y="197.10" font-size="6.6" fill="#333" text-anchor="middle" >10<tspan font-size="4.2" dy="-2.6">4</tspan></text>
<text x="227.80" y="197.10" font-size="6.6" fill="#333" text-anchor="middle" >10<tspan font-size="4.2" dy="-2.6">5</tspan></text>
<line x1="48.00" y1="202.00" x2="230.80" y2="202.00" stroke="#333" stroke-width="0.9" />
<path d="M233.50,202.00 L230.30,200.50 L230.30,203.50 Z" fill="#333"/>
<text x="237.00" y="204.30" font-size="6.4" fill="#222" text-anchor="start" textLength="17.6" lengthAdjust="spacingAndGlyphs" >BCL-2</text>
<clipPath id="c269"><rect x="48.30" y="216.90" width="55.60" height="34.10"/></clipPath>
<path d="M48.3,251.00 L48.7,251.00 L49.1,251.00 L49.5,251.00 L49.9,251.00 L50.3,251.00 L50.7,251.00 L51.1,251.00 L51.5,251.00 L51.9,251.00 L52.3,251.00 L52.7,251.00 L53.1,251.00 L53.5,251.00 L53.9,251.00 L54.3,251.00 L54.7,251.00 L55.1,251.00 L55.5,251.00 L55.9,251.00 L56.3,251.00 L56.7,251.00 L57.1,251.00 L57.5,251.00 L57.9,251.00 L58.3,250.99 L58.7,250.99 L59.1,250.99 L59.5,250.98 L59.9,250.98 L60.3,250.97 L60.7,250.95 L61.1,250.93 L61.5,250.91 L61.9,250.87 L62.3,250.83 L62.7,250.76 L63.1,250.69 L63.5,250.58 L63.9,250.46 L64.3,250.30 L64.7,250.10 L65.1,249.85 L65.5,249.55 L65.9,249.19 L66.3,248.77 L66.7,248.27 L67.1,247.69 L67.5,247.02 L67.9,246.27 L68.3,245.42 L68.7,244.49 L69.1,243.47 L69.5,242.38 L69.9,241.22 L70.3,240.01 L70.7,238.76 L71.1,237.51 L71.5,236.27 L71.9,235.07 L72.3,233.93 L72.7,232.88 L73.1,231.95 L73.5,231.17 L73.9,230.54 L74.3,230.10 L74.7,229.85 L75.1,229.80 L75.5,229.95 L75.9,230.30 L76.3,230.83 L76.7,231.54 L77.1,232.40 L77.5,233.39 L77.9,234.49 L78.3,235.66 L78.7,236.89 L79.1,238.14 L79.5,239.39 L79.9,240.62 L80.3,241.80 L80.7,242.93 L81.1,243.99 L81.5,244.96 L81.9,245.85 L82.3,246.65 L82.7,247.36 L83.1,247.99 L83.5,248.53 L83.9,248.99 L84.3,249.38 L84.7,249.71 L85.1,249.98 L85.5,250.20 L85.9,250.38 L86.3,250.52 L86.7,250.64 L87.1,250.73 L87.5,250.80 L87.9,250.85 L88.3,250.89 L88.7,250.92 L89.1,250.94 L89.5,250.96 L89.9,250.97 L90.3,250.98 L90.7,250.99 L91.1,250.99 L91.5,250.99 L91.9,251.00 L92.3,251.00 L92.7,251.00 L93.1,251.00 L93.5,251.00 L93.9,251.00 L94.3,251.00 L94.7,251.00 L95.1,251.00 L95.5,251.00 L95.9,251.00 L96.3,251.00 L96.7,251.00 L97.1,251.00 L97.5,251.00 L97.9,251.00 L98.3,251.00 L98.7,251.00 L99.1,251.00 L99.5,251.00 L99.9,251.00 L100.3,251.00 L100.7,251.00 L101.1,251.00 L101.5,251.00 L101.9,251.00 L102.3,251.00 L102.7,251.00 L103.1,251.00 L103.5,251.00 L103.9,251.00 L103.90,252.00 L48.30,252.00 Z" fill="#d8deed" stroke="none" clip-path="url(#c269)"/>
<path d="M48.3,251.00 L48.7,251.00 L49.1,251.00 L49.5,251.00 L49.9,251.00 L50.3,251.00 L50.7,251.00 L51.1,251.00 L51.5,251.00 L51.9,251.00 L52.3,251.00 L52.7,251.00 L53.1,251.00 L53.5,251.00 L53.9,251.00 L54.3,251.00 L54.7,251.00 L55.1,251.00 L55.5,251.00 L55.9,251.00 L56.3,251.00 L56.7,251.00 L57.1,251.00 L57.5,251.00 L57.9,251.00 L58.3,250.99 L58.7,250.99 L59.1,250.99 L59.5,250.98 L59.9,250.98 L60.3,250.97 L60.7,250.95 L61.1,250.93 L61.5,250.91 L61.9,250.87 L62.3,250.83 L62.7,250.76 L63.1,250.69 L63.5,250.58 L63.9,250.46 L64.3,250.30 L64.7,250.10 L65.1,249.85 L65.5,249.55 L65.9,249.19 L66.3,248.77 L66.7,248.27 L67.1,247.69 L67.5,247.02 L67.9,246.27 L68.3,245.42 L68.7,244.49 L69.1,243.47 L69.5,242.38 L69.9,241.22 L70.3,240.01 L70.7,238.76 L71.1,237.51 L71.5,236.27 L71.9,235.07 L72.3,233.93 L72.7,232.88 L73.1,231.95 L73.5,231.17 L73.9,230.54 L74.3,230.10 L74.7,229.85 L75.1,229.80 L75.5,229.95 L75.9,230.30 L76.3,230.83 L76.7,231.54 L77.1,232.40 L77.5,233.39 L77.9,234.49 L78.3,235.66 L78.7,236.89 L79.1,238.14 L79.5,239.39 L79.9,240.62 L80.3,241.80 L80.7,242.93 L81.1,243.99 L81.5,244.96 L81.9,245.85 L82.3,246.65 L82.7,247.36 L83.1,247.99 L83.5,248.53 L83.9,248.99 L84.3,249.38 L84.7,249.71 L85.1,249.98 L85.5,250.20 L85.9,250.38 L86.3,250.52 L86.7,250.64 L87.1,250.73 L87.5,250.80 L87.9,250.85 L88.3,250.89 L88.7,250.92 L89.1,250.94 L89.5,250.96 L89.9,250.97 L90.3,250.98 L90.7,250.99 L91.1,250.99 L91.5,250.99 L91.9,251.00 L92.3,251.00 L92.7,251.00 L93.1,251.00 L93.5,251.00 L93.9,251.00 L94.3,251.00 L94.7,251.00 L95.1,251.00 L95.5,251.00 L95.9,251.00 L96.3,251.00 L96.7,251.00 L97.1,251.00 L97.5,251.00 L97.9,251.00 L98.3,251.00 L98.7,251.00 L99.1,251.00 L99.5,251.00 L99.9,251.00 L100.3,251.00 L100.7,251.00 L101.1,251.00 L101.5,251.00 L101.9,251.00 L102.3,251.00 L102.7,251.00 L103.1,251.00 L103.5,251.00 L103.9,251.00" fill="none" stroke="#3a5a8c" stroke-width="0.75" clip-path="url(#c269)"/>
<path d="M48.3,240.30 L48.7,240.30 L49.1,240.30 L49.5,240.30 L49.9,240.30 L50.3,240.30 L50.7,240.30 L51.1,240.30 L51.5,240.30 L51.9,240.30 L52.3,240.30 L52.7,240.30 L53.1,240.30 L53.5,240.29 L53.9,240.29 L54.3,240.29 L54.7,240.28 L55.1,240.28 L55.5,240.27 L55.9,240.26 L56.3,240.24 L56.7,240.22 L57.1,240.20 L57.5,240.16 L57.9,240.12 L58.3,240.06 L58.7,239.99 L59.1,239.90 L59.5,239.79 L59.9,239.65 L60.3,239.49 L60.7,239.28 L61.1,239.04 L61.5,238.75 L61.9,238.41 L62.3,238.01 L62.7,237.54 L63.1,237.01 L63.5,236.41 L63.9,235.74 L64.3,234.99 L64.7,234.16 L65.1,233.27 L65.5,232.30 L65.9,231.28 L66.3,230.20 L66.7,229.09 L67.1,227.95 L67.5,226.80 L67.9,225.67 L68.3,224.56 L68.7,223.50 L69.1,222.50 L69.5,221.60 L69.9,220.81 L70.3,220.15 L70.7,219.62 L71.1,219.25 L71.5,219.04 L71.9,219.00 L72.3,219.13 L72.7,219.42 L73.1,219.87 L73.5,220.46 L73.9,221.19 L74.3,222.04 L74.7,222.99 L75.1,224.02 L75.5,225.11 L75.9,226.23 L76.3,227.38 L76.7,228.52 L77.1,229.65 L77.5,230.75 L77.9,231.80 L78.3,232.79 L78.7,233.72 L79.1,234.58 L79.5,235.37 L79.9,236.08 L80.3,236.72 L80.7,237.29 L81.1,237.78 L81.5,238.21 L81.9,238.58 L82.3,238.90 L82.7,239.17 L83.1,239.39 L83.5,239.57 L83.9,239.73 L84.3,239.85 L84.7,239.95 L85.1,240.03 L85.5,240.09 L85.9,240.14 L86.3,240.18 L86.7,240.21 L87.1,240.23 L87.5,240.25 L87.9,240.26 L88.3,240.27 L88.7,240.28 L89.1,240.29 L89.5,240.29 L89.9,240.29 L90.3,240.30 L90.7,240.30 L91.1,240.30 L91.5,240.30 L91.9,240.30 L92.3,240.30 L92.7,240.30 L93.1,240.30 L93.5,240.30 L93.9,240.30 L94.3,240.30 L94.7,240.30 L95.1,240.30 L95.5,240.30 L95.9,240.30 L96.3,240.30 L96.7,240.30 L97.1,240.30 L97.5,240.30 L97.9,240.30 L98.3,240.30 L98.7,240.30 L99.1,240.30 L99.5,240.30 L99.9,240.30 L100.3,240.30 L100.7,240.30 L101.1,240.30 L101.5,240.30 L101.9,240.30 L102.3,240.30 L102.7,240.30 L103.1,240.30 L103.5,240.30 L103.9,240.30" fill="none" stroke="#4a6898" stroke-width="0.75" clip-path="url(#c269)"/>
<rect x="48.30" y="216.90" width="55.60" height="34.10" fill="none" stroke="#444" stroke-width="0.9" />
<rect x="53.00" y="251.00" width="0.8" height="1.53" fill="#111"/>
<rect x="54.07" y="251.00" width="0.8" height="1.31" fill="#111"/>
<rect x="54.62" y="251.00" width="0.8" height="1.04" fill="#111"/>
<rect x="55.81" y="251.00" width="0.8" height="1.61" fill="#111"/>
<rect x="56.56" y="251.00" width="0.8" height="1.22" fill="#111"/>
<rect x="57.53" y="251.00" width="0.8" height="1.12" fill="#111"/>
<rect x="58.39" y="251.00" width="0.8" height="1.12" fill="#111"/>
<rect x="58.98" y="251.00" width="0.8" height="1.25" fill="#111"/>
<rect x="60.03" y="251.00" width="0.8" height="1.76" fill="#111"/>
<rect x="61.10" y="251.00" width="0.8" height="1.79" fill="#111"/>
<rect x="62.13" y="251.00" width="0.8" height="1.42" fill="#111"/>
<rect x="63.22" y="251.00" width="0.8" height="1.10" fill="#111"/>
<line x1="59.30" y1="251.00" x2="59.30" y2="253.00" stroke="#333" stroke-width="0.7" />
<line x1="79.50" y1="251.00" x2="79.50" y2="253.00" stroke="#333" stroke-width="0.7" />
<line x1="96.60" y1="251.00" x2="96.60" y2="253.00" stroke="#333" stroke-width="0.7" />
<rect x="84.40" y="251.00" width="0.5" height="1.2" fill="#666"/>
<rect x="87.41" y="251.00" width="0.5" height="1.2" fill="#666"/>
<rect x="89.55" y="251.00" width="0.5" height="1.2" fill="#666"/>
<rect x="91.20" y="251.00" width="0.5" height="1.2" fill="#666"/>
<rect x="92.56" y="251.00" width="0.5" height="1.2" fill="#666"/>
<rect x="93.70" y="251.00" width="0.5" height="1.2" fill="#666"/>
<rect x="94.69" y="251.00" width="0.5" height="1.2" fill="#666"/>
<rect x="95.57" y="251.00" width="0.5" height="1.2" fill="#666"/>
<clipPath id="c297"><rect x="110.30" y="216.90" width="55.60" height="34.10"/></clipPath>
<path d="M110.3,251.00 L110.7,251.00 L111.1,251.00 L111.5,251.00 L111.9,251.00 L112.3,251.00 L112.7,251.00 L113.1,251.00 L113.5,251.00 L113.9,251.00 L114.3,251.00 L114.7,251.00 L115.1,251.00 L115.5,251.00 L115.9,251.00 L116.3,251.00 L116.7,251.00 L117.1,251.00 L117.5,251.00 L117.9,251.00 L118.3,251.00 L118.7,251.00 L119.1,251.00 L119.5,251.00 L119.9,251.00 L120.3,251.00 L120.7,251.00 L121.1,251.00 L121.5,250.99 L121.9,250.99 L122.3,250.99 L122.7,250.98 L123.1,250.97 L123.5,250.96 L123.9,250.95 L124.3,250.92 L124.7,250.89 L125.1,250.85 L125.5,250.79 L125.9,250.71 L126.3,250.61 L126.7,250.47 L127.1,250.30 L127.5,250.09 L127.9,249.82 L128.3,249.49 L128.7,249.09 L129.1,248.61 L129.5,248.05 L129.9,247.39 L130.3,246.62 L130.7,245.76 L131.1,244.80 L131.5,243.74 L131.9,242.59 L132.3,241.36 L132.7,240.08 L133.1,238.77 L133.5,237.45 L133.9,236.15 L134.3,234.91 L134.7,233.76 L135.1,232.73 L135.5,231.84 L135.9,231.14 L136.3,230.64 L136.7,230.36 L137.1,230.30 L137.5,230.47 L137.9,230.87 L138.3,231.47 L138.7,232.26 L139.1,233.23 L139.5,234.32 L139.9,235.52 L140.3,236.80 L140.7,238.11 L141.1,239.43 L141.5,240.73 L141.9,241.98 L142.3,243.17 L142.7,244.28 L143.1,245.29 L143.5,246.21 L143.9,247.02 L144.3,247.73 L144.7,248.34 L145.1,248.86 L145.5,249.30 L145.9,249.67 L146.3,249.96 L146.7,250.20 L147.1,250.39 L147.5,250.54 L147.9,250.66 L148.3,250.75 L148.7,250.82 L149.1,250.87 L149.5,250.91 L149.9,250.93 L150.3,250.95 L150.7,250.97 L151.1,250.98 L151.5,250.99 L151.9,250.99 L152.3,250.99 L152.7,251.00 L153.1,251.00 L153.5,251.00 L153.9,251.00 L154.3,251.00 L154.7,251.00 L155.1,251.00 L155.5,251.00 L155.9,251.00 L156.3,251.00 L156.7,251.00 L157.1,251.00 L157.5,251.00 L157.9,251.00 L158.3,251.00 L158.7,251.00 L159.1,251.00 L159.5,251.00 L159.9,251.00 L160.3,251.00 L160.7,251.00 L161.1,251.00 L161.5,251.00 L161.9,251.00 L162.3,251.00 L162.7,251.00 L163.1,251.00 L163.5,251.00 L163.9,251.00 L164.3,251.00 L164.7,251.00 L165.1,251.00 L165.5,251.00 L165.9,251.00 L165.90,252.00 L110.30,252.00 Z" fill="#fde8d2" stroke="none" clip-path="url(#c297)"/>
<path d="M110.3,251.00 L110.7,251.00 L111.1,251.00 L111.5,251.00 L111.9,251.00 L112.3,251.00 L112.7,251.00 L113.1,251.00 L113.5,251.00 L113.9,251.00 L114.3,251.00 L114.7,251.00 L115.1,251.00 L115.5,251.00 L115.9,251.00 L116.3,251.00 L116.7,251.00 L117.1,251.00 L117.5,251.00 L117.9,251.00 L118.3,251.00 L118.7,251.00 L119.1,251.00 L119.5,251.00 L119.9,251.00 L120.3,251.00 L120.7,251.00 L121.1,251.00 L121.5,250.99 L121.9,250.99 L122.3,250.99 L122.7,250.98 L123.1,250.97 L123.5,250.96 L123.9,250.95 L124.3,250.92 L124.7,250.89 L125.1,250.85 L125.5,250.79 L125.9,250.71 L126.3,250.61 L126.7,250.47 L127.1,250.30 L127.5,250.09 L127.9,249.82 L128.3,249.49 L128.7,249.09 L129.1,248.61 L129.5,248.05 L129.9,247.39 L130.3,246.62 L130.7,245.76 L131.1,244.80 L131.5,243.74 L131.9,242.59 L132.3,241.36 L132.7,240.08 L133.1,238.77 L133.5,237.45 L133.9,236.15 L134.3,234.91 L134.7,233.76 L135.1,232.73 L135.5,231.84 L135.9,231.14 L136.3,230.64 L136.7,230.36 L137.1,230.30 L137.5,230.47 L137.9,230.87 L138.3,231.47 L138.7,232.26 L139.1,233.23 L139.5,234.32 L139.9,235.52 L140.3,236.80 L140.7,238.11 L141.1,239.43 L141.5,240.73 L141.9,241.98 L142.3,243.17 L142.7,244.28 L143.1,245.29 L143.5,246.21 L143.9,247.02 L144.3,247.73 L144.7,248.34 L145.1,248.86 L145.5,249.30 L145.9,249.67 L146.3,249.96 L146.7,250.20 L147.1,250.39 L147.5,250.54 L147.9,250.66 L148.3,250.75 L148.7,250.82 L149.1,250.87 L149.5,250.91 L149.9,250.93 L150.3,250.95 L150.7,250.97 L151.1,250.98 L151.5,250.99 L151.9,250.99 L152.3,250.99 L152.7,251.00 L153.1,251.00 L153.5,251.00 L153.9,251.00 L154.3,251.00 L154.7,251.00 L155.1,251.00 L155.5,251.00 L155.9,251.00 L156.3,251.00 L156.7,251.00 L157.1,251.00 L157.5,251.00 L157.9,251.00 L158.3,251.00 L158.7,251.00 L159.1,251.00 L159.5,251.00 L159.9,251.00 L160.3,251.00 L160.7,251.00 L161.1,251.00 L161.5,251.00 L161.9,251.00 L162.3,251.00 L162.7,251.00 L163.1,251.00 L163.5,251.00 L163.9,251.00 L164.3,251.00 L164.7,251.00 L165.1,251.00 L165.5,251.00 L165.9,251.00" fill="none" stroke="#e88e2c" stroke-width="0.75" clip-path="url(#c297)"/>
<path d="M110.3,239.80 L110.7,239.80 L111.1,239.80 L111.5,239.80 L111.9,239.80 L112.3,239.80 L112.7,239.80 L113.1,239.80 L113.5,239.80 L113.9,239.80 L114.3,239.80 L114.7,239.80 L115.1,239.80 L115.5,239.79 L115.9,239.79 L116.3,239.79 L116.7,239.78 L117.1,239.78 L117.5,239.77 L117.9,239.76 L118.3,239.74 L118.7,239.72 L119.1,239.70 L119.5,239.67 L119.9,239.62 L120.3,239.57 L120.7,239.50 L121.1,239.41 L121.5,239.30 L121.9,239.16 L122.3,239.00 L122.7,238.80 L123.1,238.56 L123.5,238.27 L123.9,237.93 L124.3,237.54 L124.7,237.08 L125.1,236.56 L125.5,235.97 L125.9,235.30 L126.3,234.56 L126.7,233.75 L127.1,232.87 L127.5,231.92 L127.9,230.91 L128.3,229.85 L128.7,228.75 L129.1,227.63 L129.5,226.49 L129.9,225.37 L130.3,224.28 L130.7,223.23 L131.1,222.25 L131.5,221.37 L131.9,220.59 L132.3,219.93 L132.7,219.41 L133.1,219.05 L133.5,218.84 L133.9,218.80 L134.3,218.92 L134.7,219.21 L135.1,219.65 L135.5,220.24 L135.9,220.96 L136.3,221.80 L136.7,222.73 L137.1,223.75 L137.5,224.82 L137.9,225.93 L138.3,227.06 L138.7,228.19 L139.1,229.30 L139.5,230.38 L139.9,231.42 L140.3,232.40 L140.7,233.32 L141.1,234.17 L141.5,234.94 L141.9,235.64 L142.3,236.27 L142.7,236.83 L143.1,237.32 L143.5,237.74 L143.9,238.11 L144.3,238.42 L144.7,238.68 L145.1,238.90 L145.5,239.08 L145.9,239.23 L146.3,239.36 L146.7,239.45 L147.1,239.53 L147.5,239.60 L147.9,239.64 L148.3,239.68 L148.7,239.71 L149.1,239.74 L149.5,239.75 L149.9,239.77 L150.3,239.77 L150.7,239.78 L151.1,239.79 L151.5,239.79 L151.9,239.79 L152.3,239.80 L152.7,239.80 L153.1,239.80 L153.5,239.80 L153.9,239.80 L154.3,239.80 L154.7,239.80 L155.1,239.80 L155.5,239.80 L155.9,239.80 L156.3,239.80 L156.7,239.80 L157.1,239.80 L157.5,239.80 L157.9,239.80 L158.3,239.80 L158.7,239.80 L159.1,239.80 L159.5,239.80 L159.9,239.80 L160.3,239.80 L160.7,239.80 L161.1,239.80 L161.5,239.80 L161.9,239.80 L162.3,239.80 L162.7,239.80 L163.1,239.80 L163.5,239.80 L163.9,239.80 L164.3,239.80 L164.7,239.80 L165.1,239.80 L165.5,239.80 L165.9,239.80" fill="none" stroke="#f0a040" stroke-width="0.75" clip-path="url(#c297)"/>
<rect x="110.30" y="216.90" width="55.60" height="34.10" fill="none" stroke="#444" stroke-width="0.9" />
<rect x="115.00" y="251.00" width="0.8" height="1.40" fill="#111"/>
<rect x="115.83" y="251.00" width="0.8" height="1.47" fill="#111"/>
<rect x="117.00" y="251.00" width="0.8" height="1.64" fill="#111"/>
<rect x="117.64" y="251.00" width="0.8" height="1.80" fill="#111"/>
<rect x="118.24" y="251.00" width="0.8" height="1.39" fill="#111"/>
<rect x="119.31" y="251.00" width="0.8" height="1.41" fill="#111"/>
<rect x="120.05" y="251.00" width="0.8" height="1.15" fill="#111"/>
<rect x="120.95" y="251.00" width="0.8" height="1.68" fill="#111"/>
<rect x="122.08" y="251.00" width="0.8" height="1.44" fill="#111"/>
<rect x="122.81" y="251.00" width="0.8" height="1.91" fill="#111"/>
<rect x="123.89" y="251.00" width="0.8" height="1.92" fill="#111"/>
<rect x="124.89" y="251.00" width="0.8" height="1.66" fill="#111"/>
<line x1="121.30" y1="251.00" x2="121.30" y2="253.00" stroke="#333" stroke-width="0.7" />
<line x1="141.50" y1="251.00" x2="141.50" y2="253.00" stroke="#333" stroke-width="0.7" />
<line x1="158.60" y1="251.00" x2="158.60" y2="253.00" stroke="#333" stroke-width="0.7" />
<rect x="146.40" y="251.00" width="0.5" height="1.2" fill="#666"/>
<rect x="149.41" y="251.00" width="0.5" height="1.2" fill="#666"/>
<rect x="151.55" y="251.00" width="0.5" height="1.2" fill="#666"/>
<rect x="153.20" y="251.00" width="0.5" height="1.2" fill="#666"/>
<rect x="154.56" y="251.00" width="0.5" height="1.2" fill="#666"/>
<rect x="155.70" y="251.00" width="0.5" height="1.2" fill="#666"/>
<rect x="156.69" y="251.00" width="0.5" height="1.2" fill="#666"/>
<rect x="157.57" y="251.00" width="0.5" height="1.2" fill="#666"/>
<clipPath id="c325"><rect x="172.50" y="216.90" width="55.60" height="34.10"/></clipPath>
<path d="M172.5,251.00 L172.9,251.00 L173.3,251.00 L173.7,251.00 L174.1,251.00 L174.5,251.00 L174.9,251.00 L175.3,251.00 L175.7,251.00 L176.1,251.00 L176.5,251.00 L176.9,251.00 L177.3,250.99 L177.7,250.99 L178.1,250.99 L178.5,250.98 L178.9,250.97 L179.3,250.96 L179.7,250.95 L180.1,250.93 L180.5,250.91 L180.9,250.88 L181.3,250.84 L181.7,250.79 L182.1,250.72 L182.5,250.63 L182.9,250.53 L183.3,250.40 L183.7,250.23 L184.1,250.04 L184.5,249.80 L184.9,249.51 L185.3,249.18 L185.7,248.78 L186.1,248.32 L186.5,247.80 L186.9,247.20 L187.3,246.52 L187.7,245.77 L188.1,244.95 L188.5,244.05 L188.9,243.08 L189.3,242.05 L189.7,240.98 L190.1,239.86 L190.5,238.73 L190.9,237.59 L191.3,236.46 L191.7,235.37 L192.1,234.34 L192.5,233.38 L192.9,232.52 L193.3,231.78 L193.7,231.18 L194.1,230.72 L194.5,230.43 L194.9,230.30 L195.3,230.34 L195.7,230.56 L196.1,230.93 L196.5,231.46 L196.9,232.14 L197.3,232.94 L197.7,233.85 L198.1,234.85 L198.5,235.91 L198.9,237.02 L199.3,238.16 L199.7,239.30 L200.1,240.42 L200.5,241.52 L200.9,242.57 L201.3,243.57 L201.7,244.50 L202.1,245.37 L202.5,246.16 L202.9,246.87 L203.3,247.51 L203.7,248.07 L204.1,248.56 L204.5,248.99 L204.9,249.35 L205.3,249.66 L205.7,249.92 L206.1,250.14 L206.5,250.32 L206.9,250.47 L207.3,250.58 L207.7,250.68 L208.1,250.75 L208.5,250.81 L208.9,250.86 L209.3,250.89 L209.7,250.92 L210.1,250.94 L210.5,250.96 L210.9,250.97 L211.3,250.98 L211.7,250.98 L212.1,250.99 L212.5,250.99 L212.9,250.99 L213.3,251.00 L213.7,251.00 L214.1,251.00 L214.5,251.00 L214.9,251.00 L215.3,251.00 L215.7,251.00 L216.1,251.00 L216.5,251.00 L216.9,251.00 L217.3,251.00 L217.7,251.00 L218.1,251.00 L218.5,251.00 L218.9,251.00 L219.3,251.00 L219.7,251.00 L220.1,251.00 L220.5,251.00 L220.9,251.00 L221.3,251.00 L221.7,251.00 L222.1,251.00 L222.5,251.00 L222.9,251.00 L223.3,251.00 L223.7,251.00 L224.1,251.00 L224.5,251.00 L224.9,251.00 L225.3,251.00 L225.7,251.00 L226.1,251.00 L226.5,251.00 L226.9,251.00 L227.3,251.00 L227.7,251.00 L228.1,251.00 L228.10,252.00 L172.50,252.00 Z" fill="#e0f1fb" stroke="none" clip-path="url(#c325)"/>
<path d="M172.5,251.00 L172.9,251.00 L173.3,251.00 L173.7,251.00 L174.1,251.00 L174.5,251.00 L174.9,251.00 L175.3,251.00 L175.7,251.00 L176.1,251.00 L176.5,251.00 L176.9,251.00 L177.3,250.99 L177.7,250.99 L178.1,250.99 L178.5,250.98 L178.9,250.97 L179.3,250.96 L179.7,250.95 L180.1,250.93 L180.5,250.91 L180.9,250.88 L181.3,250.84 L181.7,250.79 L182.1,250.72 L182.5,250.63 L182.9,250.53 L183.3,250.40 L183.7,250.23 L184.1,250.04 L184.5,249.80 L184.9,249.51 L185.3,249.18 L185.7,248.78 L186.1,248.32 L186.5,247.80 L186.9,247.20 L187.3,246.52 L187.7,245.77 L188.1,244.95 L188.5,244.05 L188.9,243.08 L189.3,242.05 L189.7,240.98 L190.1,239.86 L190.5,238.73 L190.9,237.59 L191.3,236.46 L191.7,235.37 L192.1,234.34 L192.5,233.38 L192.9,232.52 L193.3,231.78 L193.7,231.18 L194.1,230.72 L194.5,230.43 L194.9,230.30 L195.3,230.34 L195.7,230.56 L196.1,230.93 L196.5,231.46 L196.9,232.14 L197.3,232.94 L197.7,233.85 L198.1,234.85 L198.5,235.91 L198.9,237.02 L199.3,238.16 L199.7,239.30 L200.1,240.42 L200.5,241.52 L200.9,242.57 L201.3,243.57 L201.7,244.50 L202.1,245.37 L202.5,246.16 L202.9,246.87 L203.3,247.51 L203.7,248.07 L204.1,248.56 L204.5,248.99 L204.9,249.35 L205.3,249.66 L205.7,249.92 L206.1,250.14 L206.5,250.32 L206.9,250.47 L207.3,250.58 L207.7,250.68 L208.1,250.75 L208.5,250.81 L208.9,250.86 L209.3,250.89 L209.7,250.92 L210.1,250.94 L210.5,250.96 L210.9,250.97 L211.3,250.98 L211.7,250.98 L212.1,250.99 L212.5,250.99 L212.9,250.99 L213.3,251.00 L213.7,251.00 L214.1,251.00 L214.5,251.00 L214.9,251.00 L215.3,251.00 L215.7,251.00 L216.1,251.00 L216.5,251.00 L216.9,251.00 L217.3,251.00 L217.7,251.00 L218.1,251.00 L218.5,251.00 L218.9,251.00 L219.3,251.00 L219.7,251.00 L220.1,251.00 L220.5,251.00 L220.9,251.00 L221.3,251.00 L221.7,251.00 L222.1,251.00 L222.5,251.00 L222.9,251.00 L223.3,251.00 L223.7,251.00 L224.1,251.00 L224.5,251.00 L224.9,251.00 L225.3,251.00 L225.7,251.00 L226.1,251.00 L226.5,251.00 L226.9,251.00 L227.3,251.00 L227.7,251.00 L228.1,251.00" fill="none" stroke="#3e9ad6" stroke-width="0.75" clip-path="url(#c325)"/>
<path d="M172.5,239.79 L172.9,239.79 L173.3,239.79 L173.7,239.79 L174.1,239.78 L174.5,239.78 L174.9,239.77 L175.3,239.76 L175.7,239.75 L176.1,239.74 L176.5,239.72 L176.9,239.70 L177.3,239.67 L177.7,239.63 L178.1,239.59 L178.5,239.54 L178.9,239.48 L179.3,239.40 L179.7,239.31 L180.1,239.20 L180.5,239.07 L180.9,238.92 L181.3,238.74 L181.7,238.53 L182.1,238.30 L182.5,238.02 L182.9,237.71 L183.3,237.36 L183.7,236.96 L184.1,236.51 L184.5,236.02 L184.9,235.48 L185.3,234.88 L185.7,234.23 L186.1,233.54 L186.5,232.79 L186.9,232.00 L187.3,231.17 L187.7,230.30 L188.1,229.40 L188.5,228.47 L188.9,227.53 L189.3,226.59 L189.7,225.65 L190.1,224.73 L190.5,223.84 L190.9,222.98 L191.3,222.18 L191.7,221.44 L192.1,220.77 L192.5,220.19 L192.9,219.70 L193.3,219.31 L193.7,219.03 L194.1,218.86 L194.5,218.80 L194.9,218.86 L195.3,219.03 L195.7,219.31 L196.1,219.70 L196.5,220.19 L196.9,220.77 L197.3,221.44 L197.7,222.18 L198.1,222.98 L198.5,223.84 L198.9,224.73 L199.3,225.65 L199.7,226.59 L200.1,227.53 L200.5,228.47 L200.9,229.40 L201.3,230.30 L201.7,231.17 L202.1,232.00 L202.5,232.79 L202.9,233.54 L203.3,234.23 L203.7,234.88 L204.1,235.48 L204.5,236.02 L204.9,236.51 L205.3,236.96 L205.7,237.36 L206.1,237.71 L206.5,238.02 L206.9,238.30 L207.3,238.53 L207.7,238.74 L208.1,238.92 L208.5,239.07 L208.9,239.20 L209.3,239.31 L209.7,239.40 L210.1,239.48 L210.5,239.54 L210.9,239.59 L211.3,239.63 L211.7,239.67 L212.1,239.70 L212.5,239.72 L212.9,239.74 L213.3,239.75 L213.7,239.76 L214.1,239.77 L214.5,239.78 L214.9,239.78 L215.3,239.79 L215.7,239.79 L216.1,239.79 L216.5,239.79 L216.9,239.80 L217.3,239.80 L217.7,239.80 L218.1,239.80 L218.5,239.80 L218.9,239.80 L219.3,239.80 L219.7,239.80 L220.1,239.80 L220.5,239.80 L220.9,239.80 L221.3,239.80 L221.7,239.80 L222.1,239.80 L222.5,239.80 L222.9,239.80 L223.3,239.80 L223.7,239.80 L224.1,239.80 L224.5,239.80 L224.9,239.80 L225.3,239.80 L225.7,239.80 L226.1,239.80 L226.5,239.80 L226.9,239.80 L227.3,239.80 L227.7,239.80 L228.1,239.80" fill="none" stroke="#5cb6e2" stroke-width="0.75" clip-path="url(#c325)"/>
<rect x="172.50" y="216.90" width="55.60" height="34.10" fill="none" stroke="#444" stroke-width="0.9" />
<rect x="177.00" y="251.00" width="0.8" height="1.29" fill="#111"/>
<rect x="177.57" y="251.00" width="0.8" height="1.83" fill="#111"/>
<rect x="178.61" y="251.00" width="0.8" height="1.72" fill="#111"/>
<rect x="179.11" y="251.00" width="0.8" height="1.69" fill="#111"/>
<rect x="179.67" y="251.00" width="0.8" height="1.02" fill="#111"/>
<rect x="180.69" y="251.00" width="0.8" height="1.03" fill="#111"/>
<rect x="181.86" y="251.00" width="0.8" height="1.50" fill="#111"/>
<rect x="182.83" y="251.00" width="0.8" height="1.21" fill="#111"/>
<rect x="183.78" y="251.00" width="0.8" height="1.13" fill="#111"/>
<rect x="184.53" y="251.00" width="0.8" height="1.65" fill="#111"/>
<rect x="185.10" y="251.00" width="0.8" height="1.70" fill="#111"/>
<rect x="185.89" y="251.00" width="0.8" height="1.88" fill="#111"/>
<rect x="186.69" y="251.00" width="0.8" height="1.15" fill="#111"/>
<line x1="183.50" y1="251.00" x2="183.50" y2="253.00" stroke="#333" stroke-width="0.7" />
<line x1="203.70" y1="251.00" x2="203.70" y2="253.00" stroke="#333" stroke-width="0.7" />
<line x1="220.80" y1="251.00" x2="220.80" y2="253.00" stroke="#333" stroke-width="0.7" />
<rect x="208.60" y="251.00" width="0.5" height="1.2" fill="#666"/>
<rect x="211.61" y="251.00" width="0.5" height="1.2" fill="#666"/>
<rect x="213.75" y="251.00" width="0.5" height="1.2" fill="#666"/>
<rect x="215.40" y="251.00" width="0.5" height="1.2" fill="#666"/>
<rect x="216.76" y="251.00" width="0.5" height="1.2" fill="#666"/>
<rect x="217.90" y="251.00" width="0.5" height="1.2" fill="#666"/>
<rect x="218.89" y="251.00" width="0.5" height="1.2" fill="#666"/>
<rect x="219.77" y="251.00" width="0.5" height="1.2" fill="#666"/>
<text x="59.30" y="262.50" font-size="6.6" fill="#333" text-anchor="middle" >0</text>
<text x="79.50" y="262.50" font-size="6.6" fill="#333" text-anchor="middle" >10<tspan font-size="4.2" dy="-2.6">3</tspan></text>
<text x="96.60" y="262.50" font-size="6.6" fill="#333" text-anchor="middle" >10<tspan font-size="4.2" dy="-2.6">4</tspan></text>
<text x="121.30" y="262.50" font-size="6.6" fill="#333" text-anchor="middle" >0</text>
<text x="141.50" y="262.50" font-size="6.6" fill="#333" text-anchor="middle" >10<tspan font-size="4.2" dy="-2.6">3</tspan></text>
<text x="158.60" y="262.50" font-size="6.6" fill="#333" text-anchor="middle" >10<tspan font-size="4.2" dy="-2.6">4</tspan></text>
<text x="183.50" y="262.50" font-size="6.6" fill="#333" text-anchor="middle" >0</text>
<text x="203.70" y="262.50" font-size="6.6" fill="#333" text-anchor="middle" >10<tspan font-size="4.2" dy="-2.6">3</tspan></text>
<text x="220.80" y="262.50" font-size="6.6" fill="#333" text-anchor="middle" >10<tspan font-size="4.2" dy="-2.6">4</tspan></text>
<line x1="48.00" y1="267.60" x2="230.80" y2="267.60" stroke="#333" stroke-width="0.9" />
<path d="M233.50,267.60 L230.30,266.10 L230.30,269.10 Z" fill="#333"/>
<text x="237.00" y="270.00" font-size="6.4" fill="#222" text-anchor="start" textLength="18" lengthAdjust="spacingAndGlyphs" >MCL-1</text>
<clipPath id="c366"><rect x="48.30" y="282.30" width="55.60" height="34.10"/></clipPath>
<path d="M48.3,316.40 L48.7,316.40 L49.1,316.40 L49.5,316.40 L49.9,316.40 L50.3,316.40 L50.7,316.40 L51.1,316.40 L51.5,316.40 L51.9,316.40 L52.3,316.40 L52.7,316.40 L53.1,316.40 L53.5,316.40 L53.9,316.40 L54.3,316.40 L54.7,316.40 L55.1,316.40 L55.5,316.40 L55.9,316.40 L56.3,316.40 L56.7,316.40 L57.1,316.40 L57.5,316.40 L57.9,316.40 L58.3,316.40 L58.7,316.40 L59.1,316.40 L59.5,316.40 L59.9,316.40 L60.3,316.40 L60.7,316.40 L61.1,316.40 L61.5,316.40 L61.9,316.40 L62.3,316.40 L62.7,316.40 L63.1,316.40 L63.5,316.40 L63.9,316.40 L64.3,316.40 L64.7,316.40 L65.1,316.40 L65.5,316.40 L65.9,316.40 L66.3,316.40 L66.7,316.40 L67.1,316.40 L67.5,316.40 L67.9,316.40 L68.3,316.40 L68.7,316.40 L69.1,316.39 L69.5,316.38 L69.9,316.37 L70.3,316.33 L70.7,316.27 L71.1,316.17 L71.5,316.01 L71.9,315.74 L72.3,315.33 L72.7,314.73 L73.1,313.89 L73.5,312.76 L73.9,311.31 L74.3,309.53 L74.7,307.46 L75.1,305.19 L75.5,302.84 L75.9,300.58 L76.3,298.59 L76.7,297.08 L77.1,296.18 L77.5,296.00 L77.9,296.55 L78.3,297.77 L78.7,299.54 L79.1,301.68 L79.5,304.01 L79.9,306.35 L80.3,308.53 L80.7,310.46 L81.1,312.07 L81.5,313.36 L81.9,314.34 L82.3,315.06 L82.7,315.55 L83.1,315.89 L83.5,316.10 L83.9,316.23 L84.3,316.31 L84.7,316.35 L85.1,316.38 L85.5,316.39 L85.9,316.39 L86.3,316.40 L86.7,316.40 L87.1,316.40 L87.5,316.40 L87.9,316.40 L88.3,316.40 L88.7,316.40 L89.1,316.40 L89.5,316.40 L89.9,316.40 L90.3,316.40 L90.7,316.40 L91.1,316.40 L91.5,316.40 L91.9,316.40 L92.3,316.40 L92.7,316.40 L93.1,316.40 L93.5,316.40 L93.9,316.40 L94.3,316.40 L94.7,316.40 L95.1,316.40 L95.5,316.40 L95.9,316.40 L96.3,316.40 L96.7,316.40 L97.1,316.40 L97.5,316.40 L97.9,316.40 L98.3,316.40 L98.7,316.40 L99.1,316.40 L99.5,316.40 L99.9,316.40 L100.3,316.40 L100.7,316.40 L101.1,316.40 L101.5,316.40 L101.9,316.40 L102.3,316.40 L102.7,316.40 L103.1,316.40 L103.5,316.40 L103.9,316.40 L103.90,317.40 L48.30,317.40 Z" fill="#d8deed" stroke="none" clip-path="url(#c366)"/>
<path d="M48.3,316.40 L48.7,316.40 L49.1,316.40 L49.5,316.40 L49.9,316.40 L50.3,316.40 L50.7,316.40 L51.1,316.40 L51.5,316.40 L51.9,316.40 L52.3,316.40 L52.7,316.40 L53.1,316.40 L53.5,316.40 L53.9,316.40 L54.3,316.40 L54.7,316.40 L55.1,316.40 L55.5,316.40 L55.9,316.40 L56.3,316.40 L56.7,316.40 L57.1,316.40 L57.5,316.40 L57.9,316.40 L58.3,316.40 L58.7,316.40 L59.1,316.40 L59.5,316.40 L59.9,316.40 L60.3,316.40 L60.7,316.40 L61.1,316.40 L61.5,316.40 L61.9,316.40 L62.3,316.40 L62.7,316.40 L63.1,316.40 L63.5,316.40 L63.9,316.40 L64.3,316.40 L64.7,316.40 L65.1,316.40 L65.5,316.40 L65.9,316.40 L66.3,316.40 L66.7,316.40 L67.1,316.40 L67.5,316.40 L67.9,316.40 L68.3,316.40 L68.7,316.40 L69.1,316.39 L69.5,316.38 L69.9,316.37 L70.3,316.33 L70.7,316.27 L71.1,316.17 L71.5,316.01 L71.9,315.74 L72.3,315.33 L72.7,314.73 L73.1,313.89 L73.5,312.76 L73.9,311.31 L74.3,309.53 L74.7,307.46 L75.1,305.19 L75.5,302.84 L75.9,300.58 L76.3,298.59 L76.7,297.08 L77.1,296.18 L77.5,296.00 L77.9,296.55 L78.3,297.77 L78.7,299.54 L79.1,301.68 L79.5,304.01 L79.9,306.35 L80.3,308.53 L80.7,310.46 L81.1,312.07 L81.5,313.36 L81.9,314.34 L82.3,315.06 L82.7,315.55 L83.1,315.89 L83.5,316.10 L83.9,316.23 L84.3,316.31 L84.7,316.35 L85.1,316.38 L85.5,316.39 L85.9,316.39 L86.3,316.40 L86.7,316.40 L87.1,316.40 L87.5,316.40 L87.9,316.40 L88.3,316.40 L88.7,316.40 L89.1,316.40 L89.5,316.40 L89.9,316.40 L90.3,316.40 L90.7,316.40 L91.1,316.40 L91.5,316.40 L91.9,316.40 L92.3,316.40 L92.7,316.40 L93.1,316.40 L93.5,316.40 L93.9,316.40 L94.3,316.40 L94.7,316.40 L95.1,316.40 L95.5,316.40 L95.9,316.40 L96.3,316.40 L96.7,316.40 L97.1,316.40 L97.5,316.40 L97.9,316.40 L98.3,316.40 L98.7,316.40 L99.1,316.40 L99.5,316.40 L99.9,316.40 L100.3,316.40 L100.7,316.40 L101.1,316.40 L101.5,316.40 L101.9,316.40 L102.3,316.40 L102.7,316.40 L103.1,316.40 L103.5,316.40 L103.9,316.40" fill="none" stroke="#3a5a8c" stroke-width="0.75" clip-path="url(#c366)"/>
<path d="M48.3,305.50 L48.7,305.50 L49.1,305.50 L49.5,305.50 L49.9,305.50 L50.3,305.50 L50.7,305.50 L51.1,305.50 L51.5,305.50 L51.9,305.50 L52.3,305.50 L52.7,305.50 L53.1,305.50 L53.5,305.50 L53.9,305.50 L54.3,305.50 L54.7,305.50 L55.1,305.50 L55.5,305.50 L55.9,305.50 L56.3,305.50 L56.7,305.50 L57.1,305.50 L57.5,305.50 L57.9,305.50 L58.3,305.50 L58.7,305.50 L59.1,305.50 L59.5,305.50 L59.9,305.50 L60.3,305.50 L60.7,305.50 L61.1,305.50 L61.5,305.50 L61.9,305.50 L62.3,305.50 L62.7,305.49 L63.1,305.49 L63.5,305.49 L63.9,305.48 L64.3,305.47 L64.7,305.46 L65.1,305.44 L65.5,305.41 L65.9,305.38 L66.3,305.33 L66.7,305.27 L67.1,305.20 L67.5,305.12 L67.9,305.01 L68.3,304.89 L68.7,304.75 L69.1,304.58 L69.5,304.38 L69.9,304.15 L70.3,303.87 L70.7,303.52 L71.1,303.07 L71.5,302.49 L71.9,301.73 L72.3,300.74 L72.7,299.48 L73.1,297.93 L73.5,296.10 L73.9,294.03 L74.3,291.81 L74.7,289.58 L75.1,287.50 L75.5,285.77 L75.9,284.56 L76.3,284.00 L76.7,284.16 L77.1,285.04 L77.5,286.56 L77.9,288.57 L78.3,290.89 L78.7,293.34 L79.1,295.73 L79.5,297.92 L79.9,299.83 L80.3,301.41 L80.7,302.65 L81.1,303.59 L81.5,304.26 L81.9,304.72 L82.3,305.03 L82.7,305.23 L83.1,305.35 L83.5,305.42 L83.9,305.46 L84.3,305.48 L84.7,305.49 L85.1,305.49 L85.5,305.50 L85.9,305.50 L86.3,305.50 L86.7,305.50 L87.1,305.50 L87.5,305.50 L87.9,305.50 L88.3,305.50 L88.7,305.50 L89.1,305.50 L89.5,305.50 L89.9,305.50 L90.3,305.50 L90.7,305.50 L91.1,305.50 L91.5,305.50 L91.9,305.50 L92.3,305.50 L92.7,305.50 L93.1,305.50 L93.5,305.50 L93.9,305.50 L94.3,305.50 L94.7,305.50 L95.1,305.50 L95.5,305.50 L95.9,305.50 L96.3,305.50 L96.7,305.50 L97.1,305.50 L97.5,305.50 L97.9,305.50 L98.3,305.50 L98.7,305.50 L99.1,305.50 L99.5,305.50 L99.9,305.50 L100.3,305.50 L100.7,305.50 L101.1,305.50 L101.5,305.50 L101.9,305.50 L102.3,305.50 L102.7,305.50 L103.1,305.50 L103.5,305.50 L103.9,305.50" fill="none" stroke="#4a6898" stroke-width="0.75" clip-path="url(#c366)"/>
<rect x="48.30" y="282.30" width="55.60" height="34.10" fill="none" stroke="#444" stroke-width="0.9" />
<rect x="49.00" y="316.40" width="0.8" height="1.53" fill="#111"/>
<rect x="50.07" y="316.40" width="0.8" height="1.31" fill="#111"/>
<rect x="50.62" y="316.40" width="0.8" height="1.04" fill="#111"/>
<rect x="51.81" y="316.40" width="0.8" height="1.61" fill="#111"/>
<rect x="52.56" y="316.40" width="0.8" height="1.22" fill="#111"/>
<rect x="53.53" y="316.40" width="0.8" height="1.12" fill="#111"/>
<rect x="54.39" y="316.40" width="0.8" height="1.12" fill="#111"/>
<rect x="54.98" y="316.40" width="0.8" height="1.25" fill="#111"/>
<rect x="56.03" y="316.40" width="0.8" height="1.76" fill="#111"/>
<line x1="51.20" y1="316.40" x2="51.20" y2="318.40" stroke="#333" stroke-width="0.7" />
<line x1="66.70" y1="316.40" x2="66.70" y2="318.40" stroke="#333" stroke-width="0.7" />
<line x1="78.70" y1="316.40" x2="78.70" y2="318.40" stroke="#333" stroke-width="0.7" />
<line x1="91.80" y1="316.40" x2="91.80" y2="318.40" stroke="#333" stroke-width="0.7" />
<rect x="70.06" y="316.40" width="0.5" height="1.2" fill="#666"/>
<rect x="72.18" y="316.40" width="0.5" height="1.2" fill="#666"/>
<rect x="73.67" y="316.40" width="0.5" height="1.2" fill="#666"/>
<rect x="74.84" y="316.40" width="0.5" height="1.2" fill="#666"/>
<rect x="75.79" y="316.40" width="0.5" height="1.2" fill="#666"/>
<rect x="76.59" y="316.40" width="0.5" height="1.2" fill="#666"/>
<rect x="77.29" y="316.40" width="0.5" height="1.2" fill="#666"/>
<rect x="77.90" y="316.40" width="0.5" height="1.2" fill="#666"/>
<rect x="82.39" y="316.40" width="0.5" height="1.2" fill="#666"/>
<rect x="84.70" y="316.40" width="0.5" height="1.2" fill="#666"/>
<rect x="86.34" y="316.40" width="0.5" height="1.2" fill="#666"/>
<rect x="87.61" y="316.40" width="0.5" height="1.2" fill="#666"/>
<rect x="88.64" y="316.40" width="0.5" height="1.2" fill="#666"/>
<rect x="89.52" y="316.40" width="0.5" height="1.2" fill="#666"/>
<rect x="90.28" y="316.40" width="0.5" height="1.2" fill="#666"/>
<rect x="90.95" y="316.40" width="0.5" height="1.2" fill="#666"/>
<clipPath id="c400"><rect x="110.30" y="282.30" width="55.60" height="34.10"/></clipPath>
<path d="M110.3,316.40 L110.7,316.40 L111.1,316.40 L111.5,316.40 L111.9,316.40 L112.3,316.40 L112.7,316.40 L113.1,316.40 L113.5,316.40 L113.9,316.40 L114.3,316.40 L114.7,316.40 L115.1,316.40 L115.5,316.40 L115.9,316.40 L116.3,316.40 L116.7,316.40 L117.1,316.40 L117.5,316.40 L117.9,316.40 L118.3,316.40 L118.7,316.40 L119.1,316.40 L119.5,316.40 L119.9,316.40 L120.3,316.40 L120.7,316.40 L121.1,316.40 L121.5,316.40 L121.9,316.40 L122.3,316.40 L122.7,316.40 L123.1,316.40 L123.5,316.40 L123.9,316.40 L124.3,316.40 L124.7,316.40 L125.1,316.40 L125.5,316.40 L125.9,316.40 L126.3,316.40 L126.7,316.40 L127.1,316.40 L127.5,316.40 L127.9,316.40 L128.3,316.40 L128.7,316.40 L129.1,316.40 L129.5,316.39 L129.9,316.38 L130.3,316.37 L130.7,316.34 L131.1,316.29 L131.5,316.21 L131.9,316.07 L132.3,315.85 L132.7,315.52 L133.1,315.04 L133.5,314.36 L133.9,313.44 L134.3,312.24 L134.7,310.75 L135.1,308.98 L135.5,306.97 L135.9,304.81 L136.3,302.61 L136.7,300.53 L137.1,298.73 L137.5,297.37 L137.9,296.56 L138.3,296.40 L138.7,296.89 L139.1,297.99 L139.5,299.59 L139.9,301.55 L140.3,303.71 L140.7,305.90 L141.1,308.00 L141.5,309.90 L141.9,311.53 L142.3,312.87 L142.7,313.93 L143.1,314.72 L143.5,315.30 L143.9,315.70 L144.3,315.97 L144.7,316.15 L145.1,316.25 L145.5,316.32 L145.9,316.36 L146.3,316.38 L146.7,316.39 L147.1,316.39 L147.5,316.40 L147.9,316.40 L148.3,316.40 L148.7,316.40 L149.1,316.40 L149.5,316.40 L149.9,316.40 L150.3,316.40 L150.7,316.40 L151.1,316.40 L151.5,316.40 L151.9,316.40 L152.3,316.40 L152.7,316.40 L153.1,316.40 L153.5,316.40 L153.9,316.40 L154.3,316.40 L154.7,316.40 L155.1,316.40 L155.5,316.40 L155.9,316.40 L156.3,316.40 L156.7,316.40 L157.1,316.40 L157.5,316.40 L157.9,316.40 L158.3,316.40 L158.7,316.40 L159.1,316.40 L159.5,316.40 L159.9,316.40 L160.3,316.40 L160.7,316.40 L161.1,316.40 L161.5,316.40 L161.9,316.40 L162.3,316.40 L162.7,316.40 L163.1,316.40 L163.5,316.40 L163.9,316.40 L164.3,316.40 L164.7,316.40 L165.1,316.40 L165.5,316.40 L165.9,316.40 L165.90,317.40 L110.30,317.40 Z" fill="#fde8d2" stroke="none" clip-path="url(#c400)"/>
<path d="M110.3,316.40 L110.7,316.40 L111.1,316.40 L111.5,316.40 L111.9,316.40 L112.3,316.40 L112.7,316.40 L113.1,316.40 L113.5,316.40 L113.9,316.40 L114.3,316.40 L114.7,316.40 L115.1,316.40 L115.5,316.40 L115.9,316.40 L116.3,316.40 L116.7,316.40 L117.1,316.40 L117.5,316.40 L117.9,316.40 L118.3,316.40 L118.7,316.40 L119.1,316.40 L119.5,316.40 L119.9,316.40 L120.3,316.40 L120.7,316.40 L121.1,316.40 L121.5,316.40 L121.9,316.40 L122.3,316.40 L122.7,316.40 L123.1,316.40 L123.5,316.40 L123.9,316.40 L124.3,316.40 L124.7,316.40 L125.1,316.40 L125.5,316.40 L125.9,316.40 L126.3,316.40 L126.7,316.40 L127.1,316.40 L127.5,316.40 L127.9,316.40 L128.3,316.40 L128.7,316.40 L129.1,316.40 L129.5,316.39 L129.9,316.38 L130.3,316.37 L130.7,316.34 L131.1,316.29 L131.5,316.21 L131.9,316.07 L132.3,315.85 L132.7,315.52 L133.1,315.04 L133.5,314.36 L133.9,313.44 L134.3,312.24 L134.7,310.75 L135.1,308.98 L135.5,306.97 L135.9,304.81 L136.3,302.61 L136.7,300.53 L137.1,298.73 L137.5,297.37 L137.9,296.56 L138.3,296.40 L138.7,296.89 L139.1,297.99 L139.5,299.59 L139.9,301.55 L140.3,303.71 L140.7,305.90 L141.1,308.00 L141.5,309.90 L141.9,311.53 L142.3,312.87 L142.7,313.93 L143.1,314.72 L143.5,315.30 L143.9,315.70 L144.3,315.97 L144.7,316.15 L145.1,316.25 L145.5,316.32 L145.9,316.36 L146.3,316.38 L146.7,316.39 L147.1,316.39 L147.5,316.40 L147.9,316.40 L148.3,316.40 L148.7,316.40 L149.1,316.40 L149.5,316.40 L149.9,316.40 L150.3,316.40 L150.7,316.40 L151.1,316.40 L151.5,316.40 L151.9,316.40 L152.3,316.40 L152.7,316.40 L153.1,316.40 L153.5,316.40 L153.9,316.40 L154.3,316.40 L154.7,316.40 L155.1,316.40 L155.5,316.40 L155.9,316.40 L156.3,316.40 L156.7,316.40 L157.1,316.40 L157.5,316.40 L157.9,316.40 L158.3,316.40 L158.7,316.40 L159.1,316.40 L159.5,316.40 L159.9,316.40 L160.3,316.40 L160.7,316.40 L161.1,316.40 L161.5,316.40 L161.9,316.40 L162.3,316.40 L162.7,316.40 L163.1,316.40 L163.5,316.40 L163.9,316.40 L164.3,316.40 L164.7,316.40 L165.1,316.40 L165.5,316.40 L165.9,316.40" fill="none" stroke="#e88e2c" stroke-width="0.75" clip-path="url(#c400)"/>
<path d="M110.3,305.20 L110.7,305.20 L111.1,305.20 L111.5,305.20 L111.9,305.20 L112.3,305.20 L112.7,305.20 L113.1,305.20 L113.5,305.20 L113.9,305.20 L114.3,305.20 L114.7,305.20 L115.1,305.20 L115.5,305.20 L115.9,305.20 L116.3,305.20 L116.7,305.20 L117.1,305.20 L117.5,305.20 L117.9,305.20 L118.3,305.20 L118.7,305.20 L119.1,305.20 L119.5,305.20 L119.9,305.20 L120.3,305.20 L120.7,305.20 L121.1,305.20 L121.5,305.20 L121.9,305.20 L122.3,305.20 L122.7,305.20 L123.1,305.20 L123.5,305.20 L123.9,305.20 L124.3,305.20 L124.7,305.19 L125.1,305.19 L125.5,305.19 L125.9,305.18 L126.3,305.17 L126.7,305.15 L127.1,305.13 L127.5,305.11 L127.9,305.07 L128.3,305.03 L128.7,304.97 L129.1,304.90 L129.5,304.81 L129.9,304.70 L130.3,304.58 L130.7,304.43 L131.1,304.27 L131.5,304.08 L131.9,303.87 L132.3,303.62 L132.7,303.32 L133.1,302.95 L133.5,302.47 L133.9,301.85 L134.3,301.03 L134.7,299.98 L135.1,298.64 L135.5,297.00 L135.9,295.08 L136.3,292.93 L136.7,290.65 L137.1,288.39 L137.5,286.34 L137.9,284.69 L138.3,283.60 L138.7,283.20 L139.1,283.55 L139.5,284.61 L139.9,286.30 L140.3,288.46 L140.7,290.88 L141.1,293.38 L141.5,295.79 L141.9,297.97 L142.3,299.84 L142.7,301.37 L143.1,302.56 L143.5,303.44 L143.9,304.07 L144.3,304.50 L144.7,304.78 L145.1,304.96 L145.5,305.07 L145.9,305.13 L146.3,305.16 L146.7,305.18 L147.1,305.19 L147.5,305.20 L147.9,305.20 L148.3,305.20 L148.7,305.20 L149.1,305.20 L149.5,305.20 L149.9,305.20 L150.3,305.20 L150.7,305.20 L151.1,305.20 L151.5,305.20 L151.9,305.20 L152.3,305.20 L152.7,305.20 L153.1,305.20 L153.5,305.20 L153.9,305.20 L154.3,305.20 L154.7,305.20 L155.1,305.20 L155.5,305.20 L155.9,305.20 L156.3,305.20 L156.7,305.20 L157.1,305.20 L157.5,305.20 L157.9,305.20 L158.3,305.20 L158.7,305.20 L159.1,305.20 L159.5,305.20 L159.9,305.20 L160.3,305.20 L160.7,305.20 L161.1,305.20 L161.5,305.20 L161.9,305.20 L162.3,305.20 L162.7,305.20 L163.1,305.20 L163.5,305.20 L163.9,305.20 L164.3,305.20 L164.7,305.20 L165.1,305.20 L165.5,305.20 L165.9,305.20" fill="none" stroke="#f0a040" stroke-width="0.75" clip-path="url(#c400)"/>
<rect x="110.30" y="282.30" width="55.60" height="34.10" fill="none" stroke="#444" stroke-width="0.9" />
<rect x="111.00" y="316.40" width="0.8" height="1.40" fill="#111"/>
<rect x="111.83" y="316.40" width="0.8" height="1.47" fill="#111"/>
<rect x="113.00" y="316.40" width="0.8" height="1.64" fill="#111"/>
<rect x="113.64" y="316.40" width="0.8" height="1.80" fill="#111"/>
<rect x="114.24" y="316.40" width="0.8" height="1.39" fill="#111"/>
<rect x="115.31" y="316.40" width="0.8" height="1.41" fill="#111"/>
<rect x="116.05" y="316.40" width="0.8" height="1.15" fill="#111"/>
<rect x="116.95" y="316.40" width="0.8" height="1.68" fill="#111"/>
<rect x="118.08" y="316.40" width="0.8" height="1.44" fill="#111"/>
<rect x="118.81" y="316.40" width="0.8" height="1.91" fill="#111"/>
<line x1="113.20" y1="316.40" x2="113.20" y2="318.40" stroke="#333" stroke-width="0.7" />
<line x1="128.70" y1="316.40" x2="128.70" y2="318.40" stroke="#333" stroke-width="0.7" />
<line x1="140.70" y1="316.40" x2="140.70" y2="318.40" stroke="#333" stroke-width="0.7" />
<line x1="153.80" y1="316.40" x2="153.80" y2="318.40" stroke="#333" stroke-width="0.7" />
<rect x="132.06" y="316.40" width="0.5" height="1.2" fill="#666"/>
<rect x="134.18" y="316.40" width="0.5" height="1.2" fill="#666"/>
<rect x="135.67" y="316.40" width="0.5" height="1.2" fill="#666"/>
<rect x="136.84" y="316.40" width="0.5" height="1.2" fill="#666"/>
<rect x="137.79" y="316.40" width="0.5" height="1.2" fill="#666"/>
<rect x="138.59" y="316.40" width="0.5" height="1.2" fill="#666"/>
<rect x="139.29" y="316.40" width="0.5" height="1.2" fill="#666"/>
<rect x="139.90" y="316.40" width="0.5" height="1.2" fill="#666"/>
<rect x="144.39" y="316.40" width="0.5" height="1.2" fill="#666"/>
<rect x="146.70" y="316.40" width="0.5" height="1.2" fill="#666"/>
<rect x="148.34" y="316.40" width="0.5" height="1.2" fill="#666"/>
<rect x="149.61" y="316.40" width="0.5" height="1.2" fill="#666"/>
<rect x="150.64" y="316.40" width="0.5" height="1.2" fill="#666"/>
<rect x="151.52" y="316.40" width="0.5" height="1.2" fill="#666"/>
<rect x="152.28" y="316.40" width="0.5" height="1.2" fill="#666"/>
<rect x="152.95" y="316.40" width="0.5" height="1.2" fill="#666"/>
<clipPath id="c435"><rect x="172.50" y="282.30" width="55.60" height="34.10"/></clipPath>
<path d="M172.5,316.40 L172.9,316.40 L173.3,316.40 L173.7,316.40 L174.1,316.40 L174.5,316.40 L174.9,316.40 L175.3,316.40 L175.7,316.40 L176.1,316.40 L176.5,316.40 L176.9,316.40 L177.3,316.40 L177.7,316.40 L178.1,316.40 L178.5,316.40 L178.9,316.40 L179.3,316.40 L179.7,316.40 L180.1,316.40 L180.5,316.40 L180.9,316.40 L181.3,316.40 L181.7,316.40 L182.1,316.40 L182.5,316.40 L182.9,316.40 L183.3,316.40 L183.7,316.40 L184.1,316.40 L184.5,316.40 L184.9,316.40 L185.3,316.40 L185.7,316.40 L186.1,316.40 L186.5,316.40 L186.9,316.40 L187.3,316.39 L187.7,316.39 L188.1,316.38 L188.5,316.36 L188.9,316.34 L189.3,316.30 L189.7,316.25 L190.1,316.17 L190.5,316.06 L190.9,315.90 L191.3,315.68 L191.7,315.38 L192.1,314.98 L192.5,314.46 L192.9,313.81 L193.3,313.00 L193.7,312.03 L194.1,310.88 L194.5,309.57 L194.9,308.10 L195.3,306.50 L195.7,304.82 L196.1,303.10 L196.5,301.42 L196.9,299.85 L197.3,298.46 L197.7,297.31 L198.1,296.48 L198.5,296.00 L198.9,295.90 L199.3,296.19 L199.7,296.85 L200.1,297.85 L200.5,299.13 L200.9,300.62 L201.3,302.25 L201.7,303.96 L202.1,305.66 L202.5,307.31 L202.9,308.85 L203.3,310.25 L203.7,311.48 L204.1,312.54 L204.5,313.43 L204.9,314.15 L205.3,314.74 L205.7,315.19 L206.1,315.54 L206.5,315.80 L206.9,315.99 L207.3,316.12 L207.7,316.22 L208.1,316.28 L208.5,316.32 L208.9,316.35 L209.3,316.37 L209.7,316.38 L210.1,316.39 L210.5,316.39 L210.9,316.40 L211.3,316.40 L211.7,316.40 L212.1,316.40 L212.5,316.40 L212.9,316.40 L213.3,316.40 L213.7,316.40 L214.1,316.40 L214.5,316.40 L214.9,316.40 L215.3,316.40 L215.7,316.40 L216.1,316.40 L216.5,316.40 L216.9,316.40 L217.3,316.40 L217.7,316.40 L218.1,316.40 L218.5,316.40 L218.9,316.40 L219.3,316.40 L219.7,316.40 L220.1,316.40 L220.5,316.40 L220.9,316.40 L221.3,316.40 L221.7,316.40 L222.1,316.40 L222.5,316.40 L222.9,316.40 L223.3,316.40 L223.7,316.40 L224.1,316.40 L224.5,316.40 L224.9,316.40 L225.3,316.40 L225.7,316.40 L226.1,316.40 L226.5,316.40 L226.9,316.40 L227.3,316.40 L227.7,316.40 L228.1,316.40 L228.10,317.40 L172.50,317.40 Z" fill="#e0f1fb" stroke="none" clip-path="url(#c435)"/>
<path d="M172.5,316.40 L172.9,316.40 L173.3,316.40 L173.7,316.40 L174.1,316.40 L174.5,316.40 L174.9,316.40 L175.3,316.40 L175.7,316.40 L176.1,316.40 L176.5,316.40 L176.9,316.40 L177.3,316.40 L177.7,316.40 L178.1,316.40 L178.5,316.40 L178.9,316.40 L179.3,316.40 L179.7,316.40 L180.1,316.40 L180.5,316.40 L180.9,316.40 L181.3,316.40 L181.7,316.40 L182.1,316.40 L182.5,316.40 L182.9,316.40 L183.3,316.40 L183.7,316.40 L184.1,316.40 L184.5,316.40 L184.9,316.40 L185.3,316.40 L185.7,316.40 L186.1,316.40 L186.5,316.40 L186.9,316.40 L187.3,316.39 L187.7,316.39 L188.1,316.38 L188.5,316.36 L188.9,316.34 L189.3,316.30 L189.7,316.25 L190.1,316.17 L190.5,316.06 L190.9,315.90 L191.3,315.68 L191.7,315.38 L192.1,314.98 L192.5,314.46 L192.9,313.81 L193.3,313.00 L193.7,312.03 L194.1,310.88 L194.5,309.57 L194.9,308.10 L195.3,306.50 L195.7,304.82 L196.1,303.10 L196.5,301.42 L196.9,299.85 L197.3,298.46 L197.7,297.31 L198.1,296.48 L198.5,296.00 L198.9,295.90 L199.3,296.19 L199.7,296.85 L200.1,297.85 L200.5,299.13 L200.9,300.62 L201.3,302.25 L201.7,303.96 L202.1,305.66 L202.5,307.31 L202.9,308.85 L203.3,310.25 L203.7,311.48 L204.1,312.54 L204.5,313.43 L204.9,314.15 L205.3,314.74 L205.7,315.19 L206.1,315.54 L206.5,315.80 L206.9,315.99 L207.3,316.12 L207.7,316.22 L208.1,316.28 L208.5,316.32 L208.9,316.35 L209.3,316.37 L209.7,316.38 L210.1,316.39 L210.5,316.39 L210.9,316.40 L211.3,316.40 L211.7,316.40 L212.1,316.40 L212.5,316.40 L212.9,316.40 L213.3,316.40 L213.7,316.40 L214.1,316.40 L214.5,316.40 L214.9,316.40 L215.3,316.40 L215.7,316.40 L216.1,316.40 L216.5,316.40 L216.9,316.40 L217.3,316.40 L217.7,316.40 L218.1,316.40 L218.5,316.40 L218.9,316.40 L219.3,316.40 L219.7,316.40 L220.1,316.40 L220.5,316.40 L220.9,316.40 L221.3,316.40 L221.7,316.40 L222.1,316.40 L222.5,316.40 L222.9,316.40 L223.3,316.40 L223.7,316.40 L224.1,316.40 L224.5,316.40 L224.9,316.40 L225.3,316.40 L225.7,316.40 L226.1,316.40 L226.5,316.40 L226.9,316.40 L227.3,316.40 L227.7,316.40 L228.1,316.40" fill="none" stroke="#3e9ad6" stroke-width="0.75" clip-path="url(#c435)"/>
<path d="M172.5,305.20 L172.9,305.20 L173.3,305.20 L173.7,305.20 L174.1,305.20 L174.5,305.20 L174.9,305.20 L175.3,305.20 L175.7,305.20 L176.1,305.20 L176.5,305.20 L176.9,305.20 L177.3,305.20 L177.7,305.20 L178.1,305.20 L178.5,305.20 L178.9,305.20 L179.3,305.20 L179.7,305.20 L180.1,305.20 L180.5,305.20 L180.9,305.20 L181.3,305.20 L181.7,305.20 L182.1,305.20 L182.5,305.20 L182.9,305.20 L183.3,305.20 L183.7,305.20 L184.1,305.20 L184.5,305.20 L184.9,305.19 L185.3,305.19 L185.7,305.19 L186.1,305.18 L186.5,305.17 L186.9,305.16 L187.3,305.15 L187.7,305.13 L188.1,305.10 L188.5,305.07 L188.9,305.03 L189.3,304.98 L189.7,304.92 L190.1,304.84 L190.5,304.76 L190.9,304.66 L191.3,304.54 L191.7,304.41 L192.1,304.26 L192.5,304.09 L192.9,303.91 L193.3,303.70 L193.7,303.47 L194.1,303.21 L194.5,302.90 L194.9,302.51 L195.3,302.03 L195.7,301.43 L196.1,300.66 L196.5,299.69 L196.9,298.50 L197.3,297.06 L197.7,295.38 L198.1,293.50 L198.5,291.48 L198.9,289.42 L199.3,287.46 L199.7,285.73 L200.1,284.36 L200.5,283.49 L200.9,283.20 L201.3,283.52 L201.7,284.44 L202.1,285.89 L202.5,287.76 L202.9,289.90 L203.3,292.16 L203.7,294.42 L204.1,296.54 L204.5,298.45 L204.9,300.09 L205.3,301.45 L205.7,302.52 L206.1,303.35 L206.5,303.95 L206.9,304.38 L207.3,304.68 L207.7,304.88 L208.1,305.01 L208.5,305.09 L208.9,305.14 L209.3,305.16 L209.7,305.18 L210.1,305.19 L210.5,305.19 L210.9,305.20 L211.3,305.20 L211.7,305.20 L212.1,305.20 L212.5,305.20 L212.9,305.20 L213.3,305.20 L213.7,305.20 L214.1,305.20 L214.5,305.20 L214.9,305.20 L215.3,305.20 L215.7,305.20 L216.1,305.20 L216.5,305.20 L216.9,305.20 L217.3,305.20 L217.7,305.20 L218.1,305.20 L218.5,305.20 L218.9,305.20 L219.3,305.20 L219.7,305.20 L220.1,305.20 L220.5,305.20 L220.9,305.20 L221.3,305.20 L221.7,305.20 L222.1,305.20 L222.5,305.20 L222.9,305.20 L223.3,305.20 L223.7,305.20 L224.1,305.20 L224.5,305.20 L224.9,305.20 L225.3,305.20 L225.7,305.20 L226.1,305.20 L226.5,305.20 L226.9,305.20 L227.3,305.20 L227.7,305.20 L228.1,305.20" fill="none" stroke="#5cb6e2" stroke-width="0.75" clip-path="url(#c435)"/>
<rect x="172.50" y="282.30" width="55.60" height="34.10" fill="none" stroke="#444" stroke-width="0.9" />
<rect x="173.00" y="316.40" width="0.8" height="1.29" fill="#111"/>
<rect x="173.57" y="316.40" width="0.8" height="1.83" fill="#111"/>
<rect x="174.61" y="316.40" width="0.8" height="1.72" fill="#111"/>
<rect x="175.11" y="316.40" width="0.8" height="1.69" fill="#111"/>
<rect x="175.67" y="316.40" width="0.8" height="1.02" fill="#111"/>
<rect x="176.69" y="316.40" width="0.8" height="1.03" fill="#111"/>
<rect x="177.86" y="316.40" width="0.8" height="1.50" fill="#111"/>
<rect x="178.83" y="316.40" width="0.8" height="1.21" fill="#111"/>
<rect x="179.78" y="316.40" width="0.8" height="1.13" fill="#111"/>
<rect x="180.53" y="316.40" width="0.8" height="1.65" fill="#111"/>
<line x1="175.40" y1="316.40" x2="175.40" y2="318.40" stroke="#333" stroke-width="0.7" />
<line x1="190.90" y1="316.40" x2="190.90" y2="318.40" stroke="#333" stroke-width="0.7" />
<line x1="202.90" y1="316.40" x2="202.90" y2="318.40" stroke="#333" stroke-width="0.7" />
<line x1="216.00" y1="316.40" x2="216.00" y2="318.40" stroke="#333" stroke-width="0.7" />
<rect x="194.26" y="316.40" width="0.5" height="1.2" fill="#666"/>
<rect x="196.38" y="316.40" width="0.5" height="1.2" fill="#666"/>
<rect x="197.87" y="316.40" width="0.5" height="1.2" fill="#666"/>
<rect x="199.04" y="316.40" width="0.5" height="1.2" fill="#666"/>
<rect x="199.99" y="316.40" width="0.5" height="1.2" fill="#666"/>
<rect x="200.79" y="316.40" width="0.5" height="1.2" fill="#666"/>
<rect x="201.49" y="316.40" width="0.5" height="1.2" fill="#666"/>
<rect x="202.10" y="316.40" width="0.5" height="1.2" fill="#666"/>
<rect x="206.59" y="316.40" width="0.5" height="1.2" fill="#666"/>
<rect x="208.90" y="316.40" width="0.5" height="1.2" fill="#666"/>
<rect x="210.54" y="316.40" width="0.5" height="1.2" fill="#666"/>
<rect x="211.81" y="316.40" width="0.5" height="1.2" fill="#666"/>
<rect x="212.84" y="316.40" width="0.5" height="1.2" fill="#666"/>
<rect x="213.72" y="316.40" width="0.5" height="1.2" fill="#666"/>
<rect x="214.48" y="316.40" width="0.5" height="1.2" fill="#666"/>
<rect x="215.15" y="316.40" width="0.5" height="1.2" fill="#666"/>
<text x="51.20" y="328.60" font-size="6.6" fill="#333" text-anchor="middle" >0</text>
<text x="66.70" y="328.60" font-size="6.6" fill="#333" text-anchor="middle" >10<tspan font-size="4.2" dy="-2.6">2</tspan></text>
<text x="78.70" y="328.60" font-size="6.6" fill="#333" text-anchor="middle" >10<tspan font-size="4.2" dy="-2.6">3</tspan></text>
<text x="91.80" y="328.60" font-size="6.6" fill="#333" text-anchor="middle" >10<tspan font-size="4.2" dy="-2.6">4</tspan></text>
<text x="113.20" y="328.60" font-size="6.6" fill="#333" text-anchor="middle" >0</text>
<text x="128.70" y="328.60" font-size="6.6" fill="#333" text-anchor="middle" >10<tspan font-size="4.2" dy="-2.6">2</tspan></text>
<text x="140.70" y="328.60" font-size="6.6" fill="#333" text-anchor="middle" >10<tspan font-size="4.2" dy="-2.6">3</tspan></text>
<text x="153.80" y="328.60" font-size="6.6" fill="#333" text-anchor="middle" >10<tspan font-size="4.2" dy="-2.6">4</tspan></text>
<text x="175.40" y="328.60" font-size="6.6" fill="#333" text-anchor="middle" >0</text>
<text x="190.90" y="328.60" font-size="6.6" fill="#333" text-anchor="middle" >10<tspan font-size="4.2" dy="-2.6">2</tspan></text>
<text x="202.90" y="328.60" font-size="6.6" fill="#333" text-anchor="middle" >10<tspan font-size="4.2" dy="-2.6">3</tspan></text>
<text x="216.00" y="328.60" font-size="6.6" fill="#333" text-anchor="middle" >10<tspan font-size="4.2" dy="-2.6">4</tspan></text>
<line x1="48.00" y1="333.00" x2="230.80" y2="333.00" stroke="#333" stroke-width="0.9" />
<path d="M233.50,333.00 L230.30,331.50 L230.30,334.50 Z" fill="#333"/>
<text x="237.00" y="335.20" font-size="6.4" fill="#222" text-anchor="start" textLength="19" lengthAdjust="spacingAndGlyphs" >BCL-XL</text>
<text x="277.30" y="134.00" font-size="11" fill="#111" text-anchor="start" font-weight="bold" >D</text>
<line x1="319.50" y1="143.50" x2="319.50" y2="187.90" stroke="#1a1a1a" stroke-width="1.3" />
<line x1="319.00" y1="187.50" x2="400.00" y2="187.50" stroke="#1a1a1a" stroke-width="1.3" />
<line x1="317.20" y1="187.50" x2="319.50" y2="187.50" stroke="#1a1a1a" stroke-width="1.0" />
<text x="313.20" y="189.40" font-size="6.7" fill="#333" text-anchor="end" >0</text>
<line x1="317.20" y1="176.90" x2="319.50" y2="176.90" stroke="#1a1a1a" stroke-width="1.0" />
<text x="313.20" y="178.80" font-size="6.7" fill="#333" text-anchor="end" >2</text>
<line x1="317.20" y1="166.30" x2="319.50" y2="166.30" stroke="#1a1a1a" stroke-width="1.0" />
<text x="313.20" y="168.20" font-size="6.7" fill="#333" text-anchor="end" >4</text>
<line x1="317.20" y1="155.70" x2="319.50" y2="155.70" stroke="#1a1a1a" stroke-width="1.0" />
<text x="313.20" y="157.60" font-size="6.7" fill="#333" text-anchor="end" >6</text>
<line x1="317.20" y1="145.10" x2="319.50" y2="145.10" stroke="#1a1a1a" stroke-width="1.0" />
<text x="313.20" y="147.00" font-size="6.7" fill="#333" text-anchor="end" >8</text>
<rect x="323.30" y="164.50" width="8.60" height="23.00" fill="#98a3c8" stroke="none" stroke-width="1" />
<circle cx="325.20" cy="164.15" r="1.30" fill="white" stroke="#333" stroke-width="0.6"/>
<circle cx="327.60" cy="164.44" r="1.30" fill="white" stroke="#333" stroke-width="0.6"/>
<circle cx="330.00" cy="164.41" r="1.30" fill="white" stroke="#333" stroke-width="0.6"/>
<rect x="336.10" y="160.00" width="8.60" height="27.50" fill="#124a8a" stroke="none" stroke-width="1" />
<circle cx="338.00" cy="160.06" r="1.30" fill="white" stroke="#333" stroke-width="0.6"/>
<circle cx="340.40" cy="160.05" r="1.30" fill="white" stroke="#333" stroke-width="0.6"/>
<circle cx="342.80" cy="159.16" r="1.30" fill="white" stroke="#333" stroke-width="0.6"/>
<rect x="349.30" y="169.20" width="8.60" height="18.30" fill="#fdc58a" stroke="none" stroke-width="1" />
<line x1="353.60" y1="166.80" x2="353.60" y2="171.60" stroke="#222" stroke-width="0.6" />
<line x1="352.10" y1="166.80" x2="355.10" y2="166.80" stroke="#222" stroke-width="0.6" />
<path d="M351.60,165.72 L353.03,168.19 L350.17,168.19 Z" fill="white" stroke="#333" stroke-width="0.6"/>
<path d="M353.60,170.22 L355.03,172.69 L352.17,172.69 Z" fill="white" stroke="#333" stroke-width="0.6"/>
<path d="M355.40,166.22 L356.83,168.69 L353.97,168.69 Z" fill="white" stroke="#333" stroke-width="0.6"/>
<rect x="362.00" y="170.50" width="8.60" height="17.00" fill="#f5901e" stroke="none" stroke-width="1" />
<line x1="366.30" y1="169.30" x2="366.30" y2="171.70" stroke="#222" stroke-width="0.6" />
<line x1="364.80" y1="169.30" x2="367.80" y2="169.30" stroke="#222" stroke-width="0.6" />
<path d="M364.80,169.02 L366.23,171.49 L363.37,171.49 Z" fill="white" stroke="#333" stroke-width="0.6"/>
<path d="M366.30,165.82 L367.73,168.29 L364.87,168.29 Z" fill="white" stroke="#333" stroke-width="0.6"/>
<path d="M368.30,169.32 L369.73,171.79 L366.87,171.79 Z" fill="white" stroke="#333" stroke-width="0.6"/>
<rect x="374.60" y="177.50" width="8.60" height="10.00" fill="#abd0f0" stroke="none" stroke-width="1" />
<rect x="375.20" y="176.57" width="2.60" height="2.60" fill="white" stroke="#333" stroke-width="0.6"/>
<rect x="377.60" y="176.65" width="2.60" height="2.60" fill="white" stroke="#333" stroke-width="0.6"/>
<rect x="380.00" y="176.68" width="2.60" height="2.60" fill="white" stroke="#333" stroke-width="0.6"/>
<rect x="387.60" y="172.00" width="8.60" height="15.50" fill="#2ea3dc" stroke="none" stroke-width="1" />
<rect x="388.20" y="169.40" width="2.60" height="2.60" fill="white" stroke="#333" stroke-width="0.6"/>
<rect x="390.60" y="171.70" width="2.60" height="2.60" fill="white" stroke="#333" stroke-width="0.6"/>
<rect x="393.00" y="170.40" width="2.60" height="2.60" fill="white" stroke="#333" stroke-width="0.6"/>
<line x1="327.60" y1="187.50" x2="327.60" y2="189.90" stroke="#1a1a1a" stroke-width="1.0" />
<line x1="340.40" y1="187.50" x2="340.40" y2="189.90" stroke="#1a1a1a" stroke-width="1.0" />
<line x1="353.60" y1="187.50" x2="353.60" y2="189.90" stroke="#1a1a1a" stroke-width="1.0" />
<line x1="366.30" y1="187.50" x2="366.30" y2="189.90" stroke="#1a1a1a" stroke-width="1.0" />
<line x1="378.90" y1="187.50" x2="378.90" y2="189.90" stroke="#1a1a1a" stroke-width="1.0" />
<line x1="391.90" y1="187.50" x2="391.90" y2="189.90" stroke="#1a1a1a" stroke-width="1.0" />
<line x1="327.50" y1="150.70" x2="340.00" y2="150.70" stroke="#222" stroke-width="0.7" />
<text x="333.75" y="151.40" font-size="8.200000000000001" fill="#222" text-anchor="middle" >****</text>
<line x1="353.00" y1="150.70" x2="365.00" y2="150.70" stroke="#222" stroke-width="0.7" />
<text x="359.00" y="149.50" font-size="6.4" fill="#222" text-anchor="middle" >ns</text>
<line x1="378.80" y1="150.70" x2="391.30" y2="150.70" stroke="#222" stroke-width="0.7" />
<text x="385.05" y="151.40" font-size="8.200000000000001" fill="#222" text-anchor="middle" >***</text>
<text x="0" y="0" font-size="8.6" fill="#333" text-anchor="middle" transform="translate(303.60,164.50) rotate(-90)" textLength="56" lengthAdjust="spacingAndGlyphs">MFI mBCL-2 (10<tspan font-size="5.6" dy="-3">-3</tspan><tspan dy="3">)</tspan></text>
<line x1="319.50" y1="204.00" x2="319.50" y2="248.40" stroke="#1a1a1a" stroke-width="1.3" />
<line x1="319.00" y1="248.00" x2="398.00" y2="248.00" stroke="#1a1a1a" stroke-width="1.3" />
<line x1="317.20" y1="248.00" x2="319.50" y2="248.00" stroke="#1a1a1a" stroke-width="1.0" />
<text x="313.20" y="249.90" font-size="6.7" fill="#333" text-anchor="end" >0</text>
<line x1="317.20" y1="237.40" x2="319.50" y2="237.40" stroke="#1a1a1a" stroke-width="1.0" />
<text x="313.20" y="239.30" font-size="6.7" fill="#333" text-anchor="end" >2</text>
<line x1="317.20" y1="226.80" x2="319.50" y2="226.80" stroke="#1a1a1a" stroke-width="1.0" />
<text x="313.20" y="228.70" font-size="6.7" fill="#333" text-anchor="end" >4</text>
<line x1="317.20" y1="216.20" x2="319.50" y2="216.20" stroke="#1a1a1a" stroke-width="1.0" />
<text x="313.20" y="218.10" font-size="6.7" fill="#333" text-anchor="end" >6</text>
<line x1="317.20" y1="205.60" x2="319.50" y2="205.60" stroke="#1a1a1a" stroke-width="1.0" />
<text x="313.20" y="207.50" font-size="6.7" fill="#333" text-anchor="end" >8</text>
<rect x="323.30" y="228.00" width="8.60" height="20.00" fill="#98a3c8" stroke="none" stroke-width="1" />
<circle cx="325.20" cy="227.58" r="1.30" fill="white" stroke="#333" stroke-width="0.6"/>
<circle cx="327.60" cy="228.01" r="1.30" fill="white" stroke="#333" stroke-width="0.6"/>
<circle cx="330.00" cy="227.96" r="1.30" fill="white" stroke="#333" stroke-width="0.6"/>
<rect x="336.10" y="217.50" width="8.60" height="30.50" fill="#124a8a" stroke="none" stroke-width="1" />
<circle cx="338.00" cy="217.96" r="1.30" fill="white" stroke="#333" stroke-width="0.6"/>
<circle cx="340.40" cy="217.95" r="1.30" fill="white" stroke="#333" stroke-width="0.6"/>
<circle cx="342.80" cy="217.06" r="1.30" fill="white" stroke="#333" stroke-width="0.6"/>
<rect x="349.30" y="222.50" width="8.60" height="25.50" fill="#fdc58a" stroke="none" stroke-width="1" />
<line x1="353.60" y1="220.50" x2="353.60" y2="224.50" stroke="#222" stroke-width="0.6" />
<line x1="352.10" y1="220.50" x2="355.10" y2="220.50" stroke="#222" stroke-width="0.6" />
<path d="M351.60,220.02 L353.03,222.49 L350.17,222.49 Z" fill="white" stroke="#333" stroke-width="0.6"/>
<path d="M353.60,223.52 L355.03,225.99 L352.17,225.99 Z" fill="white" stroke="#333" stroke-width="0.6"/>
<path d="M355.60,219.82 L357.03,222.29 L354.17,222.29 Z" fill="white" stroke="#333" stroke-width="0.6"/>
<rect x="362.00" y="218.00" width="8.60" height="30.00" fill="#f5901e" stroke="none" stroke-width="1" />
<path d="M364.80,216.52 L366.23,218.99 L363.37,218.99 Z" fill="white" stroke="#333" stroke-width="0.6"/>
<path d="M366.30,216.02 L367.73,218.49 L364.87,218.49 Z" fill="white" stroke="#333" stroke-width="0.6"/>
<path d="M368.30,216.72 L369.73,219.19 L366.87,219.19 Z" fill="white" stroke="#333" stroke-width="0.6"/>
<rect x="374.60" y="230.50" width="8.60" height="17.50" fill="#abd0f0" stroke="none" stroke-width="1" />
<rect x="375.20" y="227.80" width="2.60" height="2.60" fill="white" stroke="#333" stroke-width="0.6"/>
<rect x="377.60" y="229.80" width="2.60" height="2.60" fill="white" stroke="#333" stroke-width="0.6"/>
<rect x="380.00" y="229.50" width="2.60" height="2.60" fill="white" stroke="#333" stroke-width="0.6"/>
<rect x="387.60" y="232.50" width="8.60" height="15.50" fill="#2ea3dc" stroke="none" stroke-width="1" />
<rect x="388.20" y="231.80" width="2.60" height="2.60" fill="white" stroke="#333" stroke-width="0.6"/>
<rect x="390.60" y="230.40" width="2.60" height="2.60" fill="white" stroke="#333" stroke-width="0.6"/>
<rect x="393.00" y="231.60" width="2.60" height="2.60" fill="white" stroke="#333" stroke-width="0.6"/>
<line x1="327.60" y1="248.00" x2="327.60" y2="250.40" stroke="#1a1a1a" stroke-width="1.0" />
<line x1="340.40" y1="248.00" x2="340.40" y2="250.40" stroke="#1a1a1a" stroke-width="1.0" />
<line x1="353.60" y1="248.00" x2="353.60" y2="250.40" stroke="#1a1a1a" stroke-width="1.0" />
<line x1="366.30" y1="248.00" x2="366.30" y2="250.40" stroke="#1a1a1a" stroke-width="1.0" />
<line x1="378.90" y1="248.00" x2="378.90" y2="250.40" stroke="#1a1a1a" stroke-width="1.0" />
<line x1="391.90" y1="248.00" x2="391.90" y2="250.40" stroke="#1a1a1a" stroke-width="1.0" />
<line x1="327.50" y1="208.80" x2="340.00" y2="208.80" stroke="#222" stroke-width="0.7" />
<text x="333.75" y="209.50" font-size="8.200000000000001" fill="#222" text-anchor="middle" >****</text>
<line x1="353.00" y1="208.80" x2="365.00" y2="208.80" stroke="#222" stroke-width="0.7" />
<text x="359.00" y="209.50" font-size="8.200000000000001" fill="#222" text-anchor="middle" >**</text>
<line x1="378.80" y1="208.80" x2="391.30" y2="208.80" stroke="#222" stroke-width="0.7" />
<text x="385.05" y="207.60" font-size="6.4" fill="#222" text-anchor="middle" >ns</text>
<text x="0" y="0" font-size="8.6" fill="#333" text-anchor="middle" transform="translate(303.60,225.30) rotate(-90)" textLength="51.2" lengthAdjust="spacingAndGlyphs">MFI MCL-1 (10<tspan font-size="5.6" dy="-3">-2</tspan><tspan dy="3">)</tspan></text>
<line x1="319.50" y1="267.20" x2="319.50" y2="311.65" stroke="#1a1a1a" stroke-width="1.3" />
<line x1="319.00" y1="311.25" x2="394.00" y2="311.25" stroke="#1a1a1a" stroke-width="1.3" />
<line x1="317.20" y1="311.25" x2="319.50" y2="311.25" stroke="#1a1a1a" stroke-width="1.0" />
<text x="313.20" y="313.15" font-size="6.7" fill="#333" text-anchor="end" >0</text>
<line x1="317.20" y1="300.65" x2="319.50" y2="300.65" stroke="#1a1a1a" stroke-width="1.0" />
<text x="313.20" y="302.55" font-size="6.7" fill="#333" text-anchor="end" >2</text>
<line x1="317.20" y1="290.05" x2="319.50" y2="290.05" stroke="#1a1a1a" stroke-width="1.0" />
<text x="313.20" y="291.95" font-size="6.7" fill="#333" text-anchor="end" >4</text>
<line x1="317.20" y1="279.45" x2="319.50" y2="279.45" stroke="#1a1a1a" stroke-width="1.0" />
<text x="313.20" y="281.35" font-size="6.7" fill="#333" text-anchor="end" >6</text>
<line x1="317.20" y1="268.85" x2="319.50" y2="268.85" stroke="#1a1a1a" stroke-width="1.0" />
<text x="313.20" y="270.75" font-size="6.7" fill="#333" text-anchor="end" >8</text>
<rect x="323.30" y="282.00" width="8.60" height="29.25" fill="#98a3c8" stroke="none" stroke-width="1" />
<circle cx="325.20" cy="283.00" r="1.30" fill="white" stroke="#333" stroke-width="0.6"/>
<circle cx="327.60" cy="280.20" r="1.30" fill="white" stroke="#333" stroke-width="0.6"/>
<circle cx="330.00" cy="282.20" r="1.30" fill="white" stroke="#333" stroke-width="0.6"/>
<circle cx="326.60" cy="285.00" r="1.30" fill="white" stroke="#333" stroke-width="0.6"/>
<rect x="336.10" y="282.50" width="8.60" height="28.75" fill="#124a8a" stroke="none" stroke-width="1" />
<circle cx="338.00" cy="282.97" r="1.30" fill="white" stroke="#333" stroke-width="0.6"/>
<circle cx="340.40" cy="282.97" r="1.30" fill="white" stroke="#333" stroke-width="0.6"/>
<circle cx="342.80" cy="282.43" r="1.30" fill="white" stroke="#333" stroke-width="0.6"/>
<rect x="349.30" y="288.75" width="8.60" height="22.50" fill="#fdc58a" stroke="none" stroke-width="1" />
<line x1="353.60" y1="284.25" x2="353.60" y2="293.25" stroke="#222" stroke-width="0.6" />
<line x1="352.10" y1="284.25" x2="355.10" y2="284.25" stroke="#222" stroke-width="0.6" />
<path d="M351.60,284.27 L353.03,286.74 L350.17,286.74 Z" fill="white" stroke="#333" stroke-width="0.6"/>
<path d="M355.10,285.27 L356.53,287.74 L353.67,287.74 Z" fill="white" stroke="#333" stroke-width="0.6"/>
<path d="M353.60,292.77 L355.03,295.24 L352.17,295.24 Z" fill="white" stroke="#333" stroke-width="0.6"/>
<path d="M356.10,286.27 L357.53,288.74 L354.67,288.74 Z" fill="white" stroke="#333" stroke-width="0.6"/>
<rect x="362.00" y="292.50" width="8.60" height="18.75" fill="#f5901e" stroke="none" stroke-width="1" />
<line x1="366.30" y1="291.70" x2="366.30" y2="293.30" stroke="#222" stroke-width="0.6" />
<line x1="364.80" y1="291.70" x2="367.80" y2="291.70" stroke="#222" stroke-width="0.6" />
<path d="M364.30,291.52 L365.73,293.99 L362.87,293.99 Z" fill="white" stroke="#333" stroke-width="0.6"/>
<path d="M366.30,291.02 L367.73,293.49 L364.87,293.49 Z" fill="white" stroke="#333" stroke-width="0.6"/>
<path d="M368.70,289.62 L370.13,292.09 L367.27,292.09 Z" fill="white" stroke="#333" stroke-width="0.6"/>
<rect x="374.60" y="296.25" width="8.60" height="15.00" fill="#abd0f0" stroke="none" stroke-width="1" />
<line x1="378.90" y1="293.75" x2="378.90" y2="298.75" stroke="#222" stroke-width="0.6" />
<line x1="377.40" y1="293.75" x2="380.40" y2="293.75" stroke="#222" stroke-width="0.6" />
<rect x="375.20" y="291.95" width="2.60" height="2.60" fill="white" stroke="#333" stroke-width="0.6"/>
<rect x="377.60" y="297.45" width="2.60" height="2.60" fill="white" stroke="#333" stroke-width="0.6"/>
<rect x="380.00" y="296.45" width="2.60" height="2.60" fill="white" stroke="#333" stroke-width="0.6"/>
<rect x="375.20" y="298.45" width="2.60" height="2.60" fill="white" stroke="#333" stroke-width="0.6"/>
<rect x="379.10" y="291.45" width="2.60" height="2.60" fill="white" stroke="#333" stroke-width="0.6"/>
<rect x="387.60" y="302.50" width="8.60" height="8.75" fill="#2ea3dc" stroke="none" stroke-width="1" />
<line x1="391.90" y1="301.50" x2="391.90" y2="303.50" stroke="#222" stroke-width="0.6" />
<line x1="390.40" y1="301.50" x2="393.40" y2="301.50" stroke="#222" stroke-width="0.6" />
<rect x="388.20" y="300.70" width="2.60" height="2.60" fill="white" stroke="#333" stroke-width="0.6"/>
<rect x="390.60" y="302.40" width="2.60" height="2.60" fill="white" stroke="#333" stroke-width="0.6"/>
<rect x="393.00" y="299.90" width="2.60" height="2.60" fill="white" stroke="#333" stroke-width="0.6"/>
<line x1="327.60" y1="311.25" x2="327.60" y2="313.65" stroke="#1a1a1a" stroke-width="1.0" />
<line x1="340.40" y1="311.25" x2="340.40" y2="313.65" stroke="#1a1a1a" stroke-width="1.0" />
<line x1="353.60" y1="311.25" x2="353.60" y2="313.65" stroke="#1a1a1a" stroke-width="1.0" />
<line x1="366.30" y1="311.25" x2="366.30" y2="313.65" stroke="#1a1a1a" stroke-width="1.0" />
<line x1="378.90" y1="311.25" x2="378.90" y2="313.65" stroke="#1a1a1a" stroke-width="1.0" />
<line x1="391.90" y1="311.25" x2="391.90" y2="313.65" stroke="#1a1a1a" stroke-width="1.0" />
<line x1="327.50" y1="272.10" x2="340.00" y2="272.10" stroke="#222" stroke-width="0.7" />
<text x="333.75" y="270.90" font-size="6.4" fill="#222" text-anchor="middle" >ns</text>
<line x1="353.00" y1="272.10" x2="365.00" y2="272.10" stroke="#222" stroke-width="0.7" />
<text x="359.00" y="270.90" font-size="6.4" fill="#222" text-anchor="middle" >ns</text>
<line x1="378.80" y1="272.10" x2="391.30" y2="272.10" stroke="#222" stroke-width="0.7" />
<text x="385.05" y="272.80" font-size="8.200000000000001" fill="#222" text-anchor="middle" >*</text>
<text x="0" y="0" font-size="8.6" fill="#333" text-anchor="middle" transform="translate(303.60,288.90) rotate(-90)" textLength="50.2" lengthAdjust="spacingAndGlyphs">MFI BCL-XL (10<tspan font-size="5.6" dy="-3">-2</tspan><tspan dy="3">)</tspan></text>
<text x="0" y="0" font-size="6.4" fill="#222" text-anchor="end" transform="translate(330.00,321.00) rotate(-45)">Vehicle</text>
<text x="0" y="0" font-size="6.4" fill="#222" text-anchor="end" transform="translate(342.80,321.00) rotate(-45)">VEN</text>
<text x="0" y="0" font-size="6.4" fill="#222" text-anchor="end" transform="translate(356.00,321.00) rotate(-45)">Vehicle</text>
<text x="0" y="0" font-size="6.4" fill="#222" text-anchor="end" transform="translate(368.70,321.00) rotate(-45)">VEN</text>
<text x="0" y="0" font-size="6.4" fill="#222" text-anchor="end" transform="translate(381.30,321.00) rotate(-45)">Vehicle</text>
<text x="0" y="0" font-size="6.4" fill="#222" text-anchor="end" transform="translate(394.30,321.00) rotate(-45)">VEN</text>
<line x1="448.50" y1="142.30" x2="448.50" y2="187.50" stroke="#1a1a1a" stroke-width="1.3" />
<line x1="420.00" y1="187.10" x2="449.00" y2="187.10" stroke="#1a1a1a" stroke-width="1.3" />
<line x1="448.50" y1="187.10" x2="451.00" y2="187.10" stroke="#1a1a1a" stroke-width="1.0" />
<text x="454.50" y="189.50" font-size="6.9" fill="#333" text-anchor="start" >0</text>
<line x1="448.50" y1="178.95" x2="451.00" y2="178.95" stroke="#1a1a1a" stroke-width="1.0" />
<text x="454.50" y="181.35" font-size="6.9" fill="#333" text-anchor="start" >0.5</text>
<line x1="448.50" y1="170.80" x2="451.00" y2="170.80" stroke="#1a1a1a" stroke-width="1.0" />
<text x="454.50" y="173.20" font-size="6.9" fill="#333" text-anchor="start" >1</text>
<line x1="448.50" y1="162.65" x2="451.00" y2="162.65" stroke="#1a1a1a" stroke-width="1.0" />
<text x="454.50" y="165.05" font-size="6.9" fill="#333" text-anchor="start" >1.5</text>
<line x1="448.50" y1="154.50" x2="451.00" y2="154.50" stroke="#1a1a1a" stroke-width="1.0" />
<text x="454.50" y="156.90" font-size="6.9" fill="#333" text-anchor="start" >2</text>
<line x1="448.50" y1="146.35" x2="451.00" y2="146.35" stroke="#1a1a1a" stroke-width="1.0" />
<text x="454.50" y="148.75" font-size="6.9" fill="#333" text-anchor="start" >2.5</text>
<rect x="422.80" y="173.40" width="8.20" height="13.70" fill="#abd0f0" stroke="none" stroke-width="1" />
<rect x="423.00" y="171.30" width="2.60" height="2.60" fill="white" stroke="#333" stroke-width="0.6"/>
<rect x="425.60" y="171.80" width="2.60" height="2.60" fill="white" stroke="#333" stroke-width="0.6"/>
<rect x="428.20" y="171.60" width="2.60" height="2.60" fill="white" stroke="#333" stroke-width="0.6"/>
<rect x="423.00" y="173.90" width="2.60" height="2.60" fill="white" stroke="#333" stroke-width="0.6"/>
<rect x="436.00" y="159.60" width="8.20" height="27.50" fill="#2ea3dc" stroke="none" stroke-width="1" />
<rect x="436.20" y="156.30" width="2.60" height="2.60" fill="white" stroke="#333" stroke-width="0.6"/>
<rect x="438.80" y="157.10" width="2.60" height="2.60" fill="white" stroke="#333" stroke-width="0.6"/>
<rect x="441.40" y="156.10" width="2.60" height="2.60" fill="white" stroke="#333" stroke-width="0.6"/>
<rect x="436.20" y="158.90" width="2.60" height="2.60" fill="white" stroke="#333" stroke-width="0.6"/>
<rect x="441.40" y="158.70" width="2.60" height="2.60" fill="white" stroke="#333" stroke-width="0.6"/>
<line x1="426.90" y1="187.10" x2="426.90" y2="189.50" stroke="#1a1a1a" stroke-width="1.0" />
<line x1="440.10" y1="187.10" x2="440.10" y2="189.50" stroke="#1a1a1a" stroke-width="1.0" />
<line x1="427.40" y1="150.00" x2="439.30" y2="150.00" stroke="#222" stroke-width="0.7" />
<text x="433.35" y="150.70" font-size="8.0" fill="#222" text-anchor="middle" >***</text>
<text x="0" y="0" font-size="6.4" fill="#222" text-anchor="end" transform="translate(430.50,197.40) rotate(-45)">Vehicle</text>
<text x="0" y="0" font-size="6.4" fill="#222" text-anchor="end" transform="translate(443.20,196.60) rotate(-45)">VEN</text>
<text x="0" y="0" font-size="8.4" fill="#333" text-anchor="middle" transform="translate(469.80,164.90) rotate(90)" textLength="58" lengthAdjust="spacingAndGlyphs">MFI huBCL-2 (10<tspan font-size="5.6" dy="-3">-4</tspan><tspan dy="3">)</tspan></text>
<circle cx="410.60" cy="289.70" r="1.85" fill="white" stroke="#333" stroke-width="1.0"/>
<text x="416.20" y="291.80" font-size="6.8" fill="#2a5a9a" text-anchor="start" textLength="22.7" lengthAdjust="spacingAndGlyphs" >wt mice</text>
<path d="M411.20,295.75 L413.18,299.17 L409.22,299.17 Z" fill="white" stroke="#333" stroke-width="1.0"/>
<text x="416.80" y="299.60" font-size="6.8" fill="#f5a04a" text-anchor="start" textLength="39.1" lengthAdjust="spacingAndGlyphs" ><tspan font-style="italic">Bak</tspan><tspan font-size="4.6" dy="-2.4">-/-</tspan><tspan dy="2.4" font-style="italic">Bax</tspan><tspan font-size="4.6" dy="-2.6">Δcd23</tspan></text>
<rect x="409.70" y="303.20" width="3.40" height="3.40" fill="white" stroke="#333" stroke-width="1.0"/>
<text x="416.80" y="307.00" font-size="6.8" fill="#40a8dc" text-anchor="start" font-style="italic" textLength="36.3" lengthAdjust="spacingAndGlyphs" >vav-huBCL-2</text>
<text x="7.80" y="356.40" font-size="11" fill="#111" text-anchor="start" font-weight="bold" >E</text>
<rect x="33.6" y="375.6" width="57.2" height="11.6" rx="3" ry="3" fill="white" stroke="#8a2233" stroke-width="0.9"/>
<text x="62.20" y="384.20" font-size="7.6" fill="#c8143c" text-anchor="middle" textLength="49.6" lengthAdjust="spacingAndGlyphs" >TCL-1tg CLL cells</text>
<line x1="90.80" y1="372.00" x2="96.60" y2="380.40" stroke="#a4b8cc" stroke-width="1.4" />
<line x1="96.50" y1="380.30" x2="98.00" y2="382.40" stroke="#4a5a6a" stroke-width="1.0" />
<path d="M0,9.6 C0.8,11.2 2.4,11.6 3.4,9.6 C4.3,7.6 5.6,6.2 7.6,6.6 M9.2,7.8 C8.9,4.0 11.5,2.3 15,2.3 C17.6,2.3 19.2,3.0 20.4,3.8 M20.6,6.0 C20.2,2.8 21.8,0.8 24.4,0.8 C27,0.8 28.3,2.8 27.8,5.8 M27.6,5.6 L34.2,11.7 L11,11.3 C9.6,10.8 9.2,9.4 9.2,7.8 M28.6,8.6 L28.6,11.5" transform="translate(97.20,376.80) scale(1.08)" fill="none" stroke="#2a5a9a" stroke-width="0.88" stroke-linecap="round" stroke-linejoin="round"/>
<text x="120.50" y="397.20" font-size="6.5" fill="#222" text-anchor="middle" textLength="16" lengthAdjust="spacingAndGlyphs" >wt B6</text>
<line x1="136.70" y1="382.50" x2="173.30" y2="382.50" stroke="#222" stroke-width="1.2" />
<path d="M177.00,382.50 L172.80,380.40 L172.80,384.60 Z" fill="#222"/>
<text x="156.50" y="379.60" font-size="6.8" fill="#222" text-anchor="middle" textLength="27.9" lengthAdjust="spacingAndGlyphs" >~5 weeks</text>
<text x="156.50" y="390.00" font-size="6.8" fill="#222" text-anchor="middle" textLength="16.3" lengthAdjust="spacingAndGlyphs" >~80%</text>
<path d="M0,9.6 C0.8,11.2 2.4,11.6 3.4,9.6 C4.3,7.6 5.6,6.2 7.6,6.6 M9.2,7.8 C8.9,4.0 11.5,2.3 15,2.3 C17.6,2.3 19.2,3.0 20.4,3.8 M20.6,6.0 C20.2,2.8 21.8,0.8 24.4,0.8 C27,0.8 28.3,2.8 27.8,5.8 M27.6,5.6 L34.2,11.7 L11,11.3 C9.6,10.8 9.2,9.4 9.2,7.8 M28.6,8.6 L28.6,11.5" transform="translate(180.20,376.10) scale(1.0)" fill="none" stroke="#c8143c" stroke-width="0.95" stroke-linecap="round" stroke-linejoin="round"/>
<line x1="198.70" y1="390.60" x2="198.70" y2="394.40" stroke="#222" stroke-width="1.2" />
<text x="199.40" y="402.80" font-size="6.8" fill="#222" text-anchor="middle" textLength="64" lengthAdjust="spacingAndGlyphs" >Vehicle or Venetoclax</text>
<line x1="198.70" y1="405.20" x2="198.70" y2="409.50" stroke="#222" stroke-width="1.1" />
<path d="M198.70,413.20 L196.60,409.00 L200.80,409.00 Z" fill="#222"/>
<text x="200.00" y="422.20" font-size="6.8" fill="#222" text-anchor="middle" textLength="48.4" lengthAdjust="spacingAndGlyphs" >Tissue collection</text>
<text x="274.80" y="356.40" font-size="11" fill="#111" text-anchor="start" font-weight="bold" >G</text>
<text x="404.60" y="363.80" font-size="8.4" fill="#222" text-anchor="middle" textLength="64.7" lengthAdjust="spacingAndGlyphs" >Splenic CLL cells</text>
<clipPath id="c714"><rect x="303.20" y="368.70" width="65.00" height="42.00"/></clipPath>
<path d="M303.2,410.70 L303.6,410.70 L304.0,410.70 L304.4,410.70 L304.8,410.70 L305.2,410.70 L305.6,410.70 L306.0,410.70 L306.4,410.70 L306.8,410.70 L307.2,410.70 L307.6,410.70 L308.0,410.70 L308.4,410.70 L308.8,410.70 L309.2,410.70 L309.6,410.70 L310.0,410.70 L310.4,410.70 L310.8,410.70 L311.2,410.70 L311.6,410.70 L312.0,410.70 L312.4,410.70 L312.8,410.70 L313.2,410.70 L313.6,410.70 L314.0,410.70 L314.4,410.70 L314.8,410.70 L315.2,410.70 L315.6,410.70 L316.0,410.70 L316.4,410.69 L316.8,410.69 L317.2,410.69 L317.6,410.69 L318.0,410.69 L318.4,410.68 L318.8,410.68 L319.2,410.67 L319.6,410.66 L320.0,410.66 L320.4,410.65 L320.8,410.63 L321.2,410.62 L321.6,410.60 L322.0,410.59 L322.4,410.56 L322.8,410.54 L323.2,410.51 L323.6,410.47 L324.0,410.43 L324.4,410.39 L324.8,410.34 L325.2,410.28 L325.6,410.20 L326.0,410.12 L326.4,410.02 L326.8,409.91 L327.2,409.76 L327.6,409.59 L328.0,409.38 L328.4,409.12 L328.8,408.79 L329.2,408.39 L329.6,407.91 L330.0,407.31 L330.4,406.60 L330.8,405.75 L331.2,404.75 L331.6,403.60 L332.0,402.29 L332.4,400.83 L332.8,399.24 L333.2,397.53 L333.6,395.76 L334.0,393.95 L334.4,392.17 L334.8,390.48 L335.2,388.93 L335.6,387.59 L336.0,386.52 L336.4,385.76 L336.8,385.34 L337.2,385.30 L337.6,385.73 L338.0,386.66 L338.4,388.02 L338.8,389.73 L339.2,391.70 L339.6,393.83 L340.0,396.01 L340.4,398.15 L340.8,400.17 L341.2,402.02 L341.6,403.66 L342.0,405.08 L342.4,406.26 L342.8,407.24 L343.2,408.02 L343.6,408.64 L344.0,409.11 L344.4,409.47 L344.8,409.75 L345.2,409.95 L345.6,410.11 L346.0,410.22 L346.4,410.31 L346.8,410.38 L347.2,410.44 L347.6,410.48 L348.0,410.52 L348.4,410.55 L348.8,410.57 L349.2,410.59 L349.6,410.61 L350.0,410.63 L350.4,410.64 L350.8,410.65 L351.2,410.66 L351.6,410.67 L352.0,410.67 L352.4,410.68 L352.8,410.68 L353.2,410.69 L353.6,410.69 L354.0,410.69 L354.4,410.69 L354.8,410.70 L355.2,410.70 L355.6,410.70 L356.0,410.70 L356.4,410.70 L356.8,410.70 L357.2,410.70 L357.6,410.70 L358.0,410.70 L358.4,410.70 L358.8,410.70 L359.2,410.70 L359.6,410.70 L360.0,410.70 L360.4,410.70 L360.8,410.70 L361.2,410.70 L361.6,410.70 L362.0,410.70 L362.4,410.70 L362.8,410.70 L363.2,410.70 L363.6,410.70 L364.0,410.70 L364.4,410.70 L364.8,410.70 L365.2,410.70 L365.6,410.70 L366.0,410.70 L366.4,410.70 L366.8,410.70 L367.2,410.70 L367.6,410.70 L368.0,410.70 L368.20,411.70 L303.20,411.70 Z" fill="#f8d0cc" stroke="none" clip-path="url(#c714)"/>
<path d="M303.2,410.70 L303.6,410.70 L304.0,410.70 L304.4,410.70 L304.8,410.70 L305.2,410.70 L305.6,410.70 L306.0,410.70 L306.4,410.70 L306.8,410.70 L307.2,410.70 L307.6,410.70 L308.0,410.70 L308.4,410.70 L308.8,410.70 L309.2,410.70 L309.6,410.70 L310.0,410.70 L310.4,410.70 L310.8,410.70 L311.2,410.70 L311.6,410.70 L312.0,410.70 L312.4,410.70 L312.8,410.70 L313.2,410.70 L313.6,410.70 L314.0,410.70 L314.4,410.70 L314.8,410.70 L315.2,410.70 L315.6,410.70 L316.0,410.70 L316.4,410.69 L316.8,410.69 L317.2,410.69 L317.6,410.69 L318.0,410.69 L318.4,410.68 L318.8,410.68 L319.2,410.67 L319.6,410.66 L320.0,410.66 L320.4,410.65 L320.8,410.63 L321.2,410.62 L321.6,410.60 L322.0,410.59 L322.4,410.56 L322.8,410.54 L323.2,410.51 L323.6,410.47 L324.0,410.43 L324.4,410.39 L324.8,410.34 L325.2,410.28 L325.6,410.20 L326.0,410.12 L326.4,410.02 L326.8,409.91 L327.2,409.76 L327.6,409.59 L328.0,409.38 L328.4,409.12 L328.8,408.79 L329.2,408.39 L329.6,407.91 L330.0,407.31 L330.4,406.60 L330.8,405.75 L331.2,404.75 L331.6,403.60 L332.0,402.29 L332.4,400.83 L332.8,399.24 L333.2,397.53 L333.6,395.76 L334.0,393.95 L334.4,392.17 L334.8,390.48 L335.2,388.93 L335.6,387.59 L336.0,386.52 L336.4,385.76 L336.8,385.34 L337.2,385.30 L337.6,385.73 L338.0,386.66 L338.4,388.02 L338.8,389.73 L339.2,391.70 L339.6,393.83 L340.0,396.01 L340.4,398.15 L340.8,400.17 L341.2,402.02 L341.6,403.66 L342.0,405.08 L342.4,406.26 L342.8,407.24 L343.2,408.02 L343.6,408.64 L344.0,409.11 L344.4,409.47 L344.8,409.75 L345.2,409.95 L345.6,410.11 L346.0,410.22 L346.4,410.31 L346.8,410.38 L347.2,410.44 L347.6,410.48 L348.0,410.52 L348.4,410.55 L348.8,410.57 L349.2,410.59 L349.6,410.61 L350.0,410.63 L350.4,410.64 L350.8,410.65 L351.2,410.66 L351.6,410.67 L352.0,410.67 L352.4,410.68 L352.8,410.68 L353.2,410.69 L353.6,410.69 L354.0,410.69 L354.4,410.69 L354.8,410.70 L355.2,410.70 L355.6,410.70 L356.0,410.70 L356.4,410.70 L356.8,410.70 L357.2,410.70 L357.6,410.70 L358.0,410.70 L358.4,410.70 L358.8,410.70 L359.2,410.70 L359.6,410.70 L360.0,410.70 L360.4,410.70 L360.8,410.70 L361.2,410.70 L361.6,410.70 L362.0,410.70 L362.4,410.70 L362.8,410.70 L363.2,410.70 L363.6,410.70 L364.0,410.70 L364.4,410.70 L364.8,410.70 L365.2,410.70 L365.6,410.70 L366.0,410.70 L366.4,410.70 L366.8,410.70 L367.2,410.70 L367.6,410.70 L368.0,410.70" fill="none" stroke="#d66a78" stroke-width="0.8" clip-path="url(#c714)"/>
<path d="M303.2,397.30 L303.6,397.29 L304.0,397.29 L304.4,397.29 L304.8,397.29 L305.2,397.29 L305.6,397.28 L306.0,397.28 L306.4,397.27 L306.8,397.27 L307.2,397.26 L307.6,397.25 L308.0,397.24 L308.4,397.22 L308.8,397.20 L309.2,397.18 L309.6,397.16 L310.0,397.13 L310.4,397.09 L310.8,397.05 L311.2,397.00 L311.6,396.95 L312.0,396.88 L312.4,396.81 L312.8,396.72 L313.2,396.62 L313.6,396.50 L314.0,396.37 L314.4,396.21 L314.8,396.04 L315.2,395.85 L315.6,395.63 L316.0,395.39 L316.4,395.11 L316.8,394.81 L317.2,394.47 L317.6,394.11 L318.0,393.70 L318.4,393.26 L318.8,392.78 L319.2,392.26 L319.6,391.69 L320.0,391.09 L320.4,390.45 L320.8,389.76 L321.2,389.04 L321.6,388.28 L322.0,387.48 L322.4,386.65 L322.8,385.79 L323.2,384.90 L323.6,383.99 L324.0,383.06 L324.4,382.11 L324.8,381.17 L325.2,380.22 L325.6,379.28 L326.0,378.35 L326.4,377.44 L326.8,376.57 L327.2,375.72 L327.6,374.93 L328.0,374.18 L328.4,373.49 L328.8,372.86 L329.2,372.31 L329.6,371.83 L330.0,371.43 L330.4,371.11 L330.8,370.88 L331.2,370.75 L331.6,370.70 L332.0,370.81 L332.4,371.14 L332.8,371.67 L333.2,372.40 L333.6,373.31 L334.0,374.38 L334.4,375.58 L334.8,376.88 L335.2,378.27 L335.6,379.70 L336.0,381.17 L336.4,382.63 L336.8,384.07 L337.2,385.47 L337.6,386.80 L338.0,388.06 L338.4,389.24 L338.8,390.33 L339.2,391.32 L339.6,392.21 L340.0,393.00 L340.4,393.70 L340.8,394.31 L341.2,394.84 L341.6,395.29 L342.0,395.67 L342.4,395.99 L342.8,396.26 L343.2,396.48 L343.6,396.65 L344.0,396.80 L344.4,396.91 L344.8,397.00 L345.2,397.08 L345.6,397.13 L346.0,397.17 L346.4,397.21 L346.8,397.23 L347.2,397.25 L347.6,397.26 L348.0,397.27 L348.4,397.28 L348.8,397.29 L349.2,397.29 L349.6,397.29 L350.0,397.30 L350.4,397.30 L350.8,397.30 L351.2,397.30 L351.6,397.30 L352.0,397.30 L352.4,397.30 L352.8,397.30 L353.2,397.30 L353.6,397.30 L354.0,397.30 L354.4,397.30 L354.8,397.30 L355.2,397.30 L355.6,397.30 L356.0,397.30 L356.4,397.30 L356.8,397.30 L357.2,397.30 L357.6,397.30 L358.0,397.30 L358.4,397.30 L358.8,397.30 L359.2,397.30 L359.6,397.30 L360.0,397.30 L360.4,397.30 L360.8,397.30 L361.2,397.30 L361.6,397.30 L362.0,397.30 L362.4,397.30 L362.8,397.30 L363.2,397.30 L363.6,397.30 L364.0,397.30 L364.4,397.30 L364.8,397.30 L365.2,397.30 L365.6,397.30 L366.0,397.30 L366.4,397.30 L366.8,397.30 L367.2,397.30 L367.6,397.30 L368.0,397.30" fill="none" stroke="#a82842" stroke-width="1.0" clip-path="url(#c714)"/>
<rect x="303.20" y="368.70" width="65.00" height="42.00" fill="none" stroke="#6a6a6a" stroke-width="1.15" />
<rect x="309.70" y="410.70" width="0.8" height="1.19" fill="#222"/>
<rect x="310.44" y="410.70" width="0.8" height="1.07" fill="#222"/>
<rect x="311.45" y="410.70" width="0.8" height="1.21" fill="#222"/>
<rect x="312.16" y="410.70" width="0.8" height="1.74" fill="#222"/>
<rect x="312.84" y="410.70" width="0.8" height="1.70" fill="#222"/>
<rect x="313.87" y="410.70" width="0.8" height="1.21" fill="#222"/>
<rect x="314.62" y="410.70" width="0.8" height="1.77" fill="#222"/>
<rect x="315.38" y="410.70" width="0.8" height="1.55" fill="#222"/>
<rect x="315.94" y="410.70" width="0.8" height="1.32" fill="#222"/>
<rect x="317.13" y="410.70" width="0.8" height="1.41" fill="#222"/>
<rect x="317.69" y="410.70" width="0.8" height="1.89" fill="#222"/>
<rect x="318.87" y="410.70" width="0.8" height="1.69" fill="#222"/>
<rect x="319.71" y="410.70" width="0.8" height="1.62" fill="#222"/>
<rect x="320.65" y="410.70" width="0.8" height="1.57" fill="#222"/>
<rect x="321.74" y="410.70" width="0.8" height="1.37" fill="#222"/>
<rect x="322.38" y="410.70" width="0.8" height="1.52" fill="#222"/>
<rect x="323.40" y="410.70" width="0.8" height="1.20" fill="#222"/>
<line x1="313.20" y1="410.70" x2="313.20" y2="412.70" stroke="#333" stroke-width="0.7" />
<line x1="329.20" y1="410.70" x2="329.20" y2="412.70" stroke="#333" stroke-width="0.7" />
<line x1="351.20" y1="410.70" x2="351.20" y2="412.70" stroke="#333" stroke-width="0.7" />
<rect x="335.57" y="410.70" width="0.5" height="1.2" fill="#666"/>
<rect x="339.45" y="410.70" width="0.5" height="1.2" fill="#666"/>
<rect x="342.20" y="410.70" width="0.5" height="1.2" fill="#666"/>
<rect x="344.33" y="410.70" width="0.5" height="1.2" fill="#666"/>
<rect x="346.07" y="410.70" width="0.5" height="1.2" fill="#666"/>
<rect x="347.54" y="410.70" width="0.5" height="1.2" fill="#666"/>
<rect x="348.82" y="410.70" width="0.5" height="1.2" fill="#666"/>
<rect x="349.94" y="410.70" width="0.5" height="1.2" fill="#666"/>
<clipPath id="c747"><rect x="372.20" y="368.70" width="65.00" height="42.00"/></clipPath>
<path d="M372.2,410.70 L372.6,410.70 L373.0,410.70 L373.4,410.70 L373.8,410.70 L374.2,410.70 L374.6,410.70 L375.0,410.70 L375.4,410.70 L375.8,410.70 L376.2,410.70 L376.6,410.70 L377.0,410.70 L377.4,410.70 L377.8,410.70 L378.2,410.70 L378.6,410.70 L379.0,410.70 L379.4,410.70 L379.8,410.70 L380.2,410.70 L380.6,410.70 L381.0,410.70 L381.4,410.70 L381.8,410.70 L382.2,410.69 L382.6,410.69 L383.0,410.69 L383.4,410.69 L383.8,410.69 L384.2,410.68 L384.6,410.68 L385.0,410.67 L385.4,410.67 L385.8,410.66 L386.2,410.65 L386.6,410.64 L387.0,410.63 L387.4,410.62 L387.8,410.60 L388.2,410.58 L388.6,410.56 L389.0,410.53 L389.4,410.49 L389.8,410.44 L390.2,410.38 L390.6,410.30 L391.0,410.21 L391.4,410.08 L391.8,409.93 L392.2,409.73 L392.6,409.48 L393.0,409.18 L393.4,408.80 L393.8,408.34 L394.2,407.79 L394.6,407.13 L395.0,406.35 L395.4,405.44 L395.8,404.41 L396.2,403.24 L396.6,401.95 L397.0,400.54 L397.4,399.02 L397.8,397.42 L398.2,395.77 L398.6,394.11 L399.0,392.47 L399.4,390.90 L399.8,389.44 L400.2,388.15 L400.6,387.05 L401.0,386.19 L401.4,385.60 L401.8,385.30 L402.2,385.30 L402.6,385.60 L403.0,386.19 L403.4,387.05 L403.8,388.15 L404.2,389.44 L404.6,390.90 L405.0,392.47 L405.4,394.11 L405.8,395.77 L406.2,397.42 L406.6,399.02 L407.0,400.54 L407.4,401.95 L407.8,403.24 L408.2,404.41 L408.6,405.44 L409.0,406.35 L409.4,407.13 L409.8,407.79 L410.2,408.34 L410.6,408.80 L411.0,409.18 L411.4,409.48 L411.8,409.73 L412.2,409.93 L412.6,410.08 L413.0,410.21 L413.4,410.30 L413.8,410.38 L414.2,410.44 L414.6,410.49 L415.0,410.53 L415.4,410.56 L415.8,410.58 L416.2,410.60 L416.6,410.62 L417.0,410.63 L417.4,410.64 L417.8,410.65 L418.2,410.66 L418.6,410.67 L419.0,410.67 L419.4,410.68 L419.8,410.68 L420.2,410.69 L420.6,410.69 L421.0,410.69 L421.4,410.69 L421.8,410.69 L422.2,410.70 L422.6,410.70 L423.0,410.70 L423.4,410.70 L423.8,410.70 L424.2,410.70 L424.6,410.70 L425.0,410.70 L425.4,410.70 L425.8,410.70 L426.2,410.70 L426.6,410.70 L427.0,410.70 L427.4,410.70 L427.8,410.70 L428.2,410.70 L428.6,410.70 L429.0,410.70 L429.4,410.70 L429.8,410.70 L430.2,410.70 L430.6,410.70 L431.0,410.70 L431.4,410.70 L431.8,410.70 L432.2,410.70 L432.6,410.70 L433.0,410.70 L433.4,410.70 L433.8,410.70 L434.2,410.70 L434.6,410.70 L435.0,410.70 L435.4,410.70 L435.8,410.70 L436.2,410.70 L436.6,410.70 L437.0,410.70 L437.20,411.70 L372.20,411.70 Z" fill="#f8d0cc" stroke="none" clip-path="url(#c747)"/>
<path d="M372.2,410.70 L372.6,410.70 L373.0,410.70 L373.4,410.70 L373.8,410.70 L374.2,410.70 L374.6,410.70 L375.0,410.70 L375.4,410.70 L375.8,410.70 L376.2,410.70 L376.6,410.70 L377.0,410.70 L377.4,410.70 L377.8,410.70 L378.2,410.70 L378.6,410.70 L379.0,410.70 L379.4,410.70 L379.8,410.70 L380.2,410.70 L380.6,410.70 L381.0,410.70 L381.4,410.70 L381.8,410.70 L382.2,410.69 L382.6,410.69 L383.0,410.69 L383.4,410.69 L383.8,410.69 L384.2,410.68 L384.6,410.68 L385.0,410.67 L385.4,410.67 L385.8,410.66 L386.2,410.65 L386.6,410.64 L387.0,410.63 L387.4,410.62 L387.8,410.60 L388.2,410.58 L388.6,410.56 L389.0,410.53 L389.4,410.49 L389.8,410.44 L390.2,410.38 L390.6,410.30 L391.0,410.21 L391.4,410.08 L391.8,409.93 L392.2,409.73 L392.6,409.48 L393.0,409.18 L393.4,408.80 L393.8,408.34 L394.2,407.79 L394.6,407.13 L395.0,406.35 L395.4,405.44 L395.8,404.41 L396.2,403.24 L396.6,401.95 L397.0,400.54 L397.4,399.02 L397.8,397.42 L398.2,395.77 L398.6,394.11 L399.0,392.47 L399.4,390.90 L399.8,389.44 L400.2,388.15 L400.6,387.05 L401.0,386.19 L401.4,385.60 L401.8,385.30 L402.2,385.30 L402.6,385.60 L403.0,386.19 L403.4,387.05 L403.8,388.15 L404.2,389.44 L404.6,390.90 L405.0,392.47 L405.4,394.11 L405.8,395.77 L406.2,397.42 L406.6,399.02 L407.0,400.54 L407.4,401.95 L407.8,403.24 L408.2,404.41 L408.6,405.44 L409.0,406.35 L409.4,407.13 L409.8,407.79 L410.2,408.34 L410.6,408.80 L411.0,409.18 L411.4,409.48 L411.8,409.73 L412.2,409.93 L412.6,410.08 L413.0,410.21 L413.4,410.30 L413.8,410.38 L414.2,410.44 L414.6,410.49 L415.0,410.53 L415.4,410.56 L415.8,410.58 L416.2,410.60 L416.6,410.62 L417.0,410.63 L417.4,410.64 L417.8,410.65 L418.2,410.66 L418.6,410.67 L419.0,410.67 L419.4,410.68 L419.8,410.68 L420.2,410.69 L420.6,410.69 L421.0,410.69 L421.4,410.69 L421.8,410.69 L422.2,410.70 L422.6,410.70 L423.0,410.70 L423.4,410.70 L423.8,410.70 L424.2,410.70 L424.6,410.70 L425.0,410.70 L425.4,410.70 L425.8,410.70 L426.2,410.70 L426.6,410.70 L427.0,410.70 L427.4,410.70 L427.8,410.70 L428.2,410.70 L428.6,410.70 L429.0,410.70 L429.4,410.70 L429.8,410.70 L430.2,410.70 L430.6,410.70 L431.0,410.70 L431.4,410.70 L431.8,410.70 L432.2,410.70 L432.6,410.70 L433.0,410.70 L433.4,410.70 L433.8,410.70 L434.2,410.70 L434.6,410.70 L435.0,410.70 L435.4,410.70 L435.8,410.70 L436.2,410.70 L436.6,410.70 L437.0,410.70" fill="none" stroke="#d66a78" stroke-width="0.8" clip-path="url(#c747)"/>
<path d="M372.2,397.30 L372.6,397.30 L373.0,397.30 L373.4,397.30 L373.8,397.30 L374.2,397.30 L374.6,397.30 L375.0,397.30 L375.4,397.30 L375.8,397.30 L376.2,397.30 L376.6,397.30 L377.0,397.30 L377.4,397.30 L377.8,397.30 L378.2,397.30 L378.6,397.30 L379.0,397.30 L379.4,397.30 L379.8,397.30 L380.2,397.30 L380.6,397.30 L381.0,397.29 L381.4,397.29 L381.8,397.29 L382.2,397.28 L382.6,397.28 L383.0,397.27 L383.4,397.26 L383.8,397.24 L384.2,397.22 L384.6,397.19 L385.0,397.15 L385.4,397.10 L385.8,397.03 L386.2,396.95 L386.6,396.84 L387.0,396.71 L387.4,396.54 L387.8,396.34 L388.2,396.10 L388.6,395.80 L389.0,395.44 L389.4,395.02 L389.8,394.52 L390.2,393.95 L390.6,393.29 L391.0,392.54 L391.4,391.70 L391.8,390.76 L392.2,389.72 L392.6,388.60 L393.0,387.39 L393.4,386.11 L393.8,384.76 L394.2,383.36 L394.6,381.94 L395.0,380.52 L395.4,379.11 L395.8,377.74 L396.2,376.45 L396.6,375.25 L397.0,374.18 L397.4,373.26 L397.8,372.50 L398.2,371.93 L398.6,371.56 L399.0,371.40 L399.4,371.45 L399.8,371.72 L400.2,372.19 L400.6,372.86 L401.0,373.70 L401.4,374.70 L401.8,375.84 L402.2,377.09 L402.6,378.42 L403.0,379.81 L403.4,381.23 L403.8,382.66 L404.2,384.07 L404.6,385.44 L405.0,386.76 L405.4,388.01 L405.8,389.17 L406.2,390.25 L406.6,391.24 L407.0,392.13 L407.4,392.93 L407.8,393.63 L408.2,394.25 L408.6,394.78 L409.0,395.24 L409.4,395.63 L409.8,395.95 L410.2,396.22 L410.6,396.45 L411.0,396.63 L411.4,396.78 L411.8,396.90 L412.2,396.99 L412.6,397.07 L413.0,397.12 L413.4,397.17 L413.8,397.20 L414.2,397.23 L414.6,397.25 L415.0,397.26 L415.4,397.27 L415.8,397.28 L416.2,397.29 L416.6,397.29 L417.0,397.29 L417.4,397.30 L417.8,397.30 L418.2,397.30 L418.6,397.30 L419.0,397.30 L419.4,397.30 L419.8,397.30 L420.2,397.30 L420.6,397.30 L421.0,397.30 L421.4,397.30 L421.8,397.30 L422.2,397.30 L422.6,397.30 L423.0,397.30 L423.4,397.30 L423.8,397.30 L424.2,397.30 L424.6,397.30 L425.0,397.30 L425.4,397.30 L425.8,397.30 L426.2,397.30 L426.6,397.30 L427.0,397.30 L427.4,397.30 L427.8,397.30 L428.2,397.30 L428.6,397.30 L429.0,397.30 L429.4,397.30 L429.8,397.30 L430.2,397.30 L430.6,397.30 L431.0,397.30 L431.4,397.30 L431.8,397.30 L432.2,397.30 L432.6,397.30 L433.0,397.30 L433.4,397.30 L433.8,397.30 L434.2,397.30 L434.6,397.30 L435.0,397.30 L435.4,397.30 L435.8,397.30 L436.2,397.30 L436.6,397.30 L437.0,397.30" fill="none" stroke="#a82842" stroke-width="1.0" clip-path="url(#c747)"/>
<rect x="372.20" y="368.70" width="65.00" height="42.00" fill="none" stroke="#6a6a6a" stroke-width="1.15" />
<rect x="385.00" y="410.70" width="0.8" height="1.59" fill="#222"/>
<rect x="385.68" y="410.70" width="0.8" height="1.21" fill="#222"/>
<rect x="386.50" y="410.70" width="0.8" height="1.04" fill="#222"/>
<rect x="387.30" y="410.70" width="0.8" height="1.85" fill="#222"/>
<rect x="388.08" y="410.70" width="0.8" height="1.75" fill="#222"/>
<rect x="388.68" y="410.70" width="0.8" height="1.98" fill="#222"/>
<rect x="389.49" y="410.70" width="0.8" height="1.29" fill="#222"/>
<rect x="390.52" y="410.70" width="0.8" height="1.58" fill="#222"/>
<line x1="382.20" y1="410.70" x2="382.20" y2="412.70" stroke="#333" stroke-width="0.7" />
<line x1="398.20" y1="410.70" x2="398.20" y2="412.70" stroke="#333" stroke-width="0.7" />
<line x1="420.20" y1="410.70" x2="420.20" y2="412.70" stroke="#333" stroke-width="0.7" />
<rect x="404.57" y="410.70" width="0.5" height="1.2" fill="#666"/>
<rect x="408.45" y="410.70" width="0.5" height="1.2" fill="#666"/>
<rect x="411.20" y="410.70" width="0.5" height="1.2" fill="#666"/>
<rect x="413.33" y="410.70" width="0.5" height="1.2" fill="#666"/>
<rect x="415.07" y="410.70" width="0.5" height="1.2" fill="#666"/>
<rect x="416.54" y="410.70" width="0.5" height="1.2" fill="#666"/>
<rect x="417.82" y="410.70" width="0.5" height="1.2" fill="#666"/>
<rect x="418.94" y="410.70" width="0.5" height="1.2" fill="#666"/>
<clipPath id="c771"><rect x="441.50" y="368.70" width="65.00" height="42.00"/></clipPath>
<path d="M441.5,410.70 L441.9,410.70 L442.3,410.70 L442.7,410.70 L443.1,410.70 L443.5,410.70 L443.9,410.70 L444.3,410.70 L444.7,410.70 L445.1,410.70 L445.5,410.70 L445.9,410.70 L446.3,410.70 L446.7,410.70 L447.1,410.70 L447.5,410.70 L447.9,410.70 L448.3,410.70 L448.7,410.70 L449.1,410.70 L449.5,410.70 L449.9,410.70 L450.3,410.70 L450.7,410.70 L451.1,410.69 L451.5,410.69 L451.9,410.69 L452.3,410.69 L452.7,410.68 L453.1,410.68 L453.5,410.67 L453.9,410.66 L454.3,410.66 L454.7,410.65 L455.1,410.63 L455.5,410.62 L455.9,410.60 L456.3,410.58 L456.7,410.55 L457.1,410.52 L457.5,410.49 L457.9,410.45 L458.3,410.40 L458.7,410.35 L459.1,410.28 L459.5,410.21 L459.9,410.11 L460.3,409.99 L460.7,409.84 L461.1,409.65 L461.5,409.39 L461.9,409.06 L462.3,408.63 L462.7,408.08 L463.1,407.37 L463.5,406.48 L463.9,405.39 L464.3,404.08 L464.7,402.55 L465.1,400.80 L465.5,398.86 L465.9,396.78 L466.3,394.62 L466.7,392.48 L467.1,390.44 L467.5,388.62 L467.9,387.12 L468.3,386.02 L468.7,385.40 L469.1,385.30 L469.5,385.72 L469.9,386.64 L470.3,388.01 L470.7,389.73 L471.1,391.72 L471.5,393.87 L471.9,396.07 L472.3,398.23 L472.7,400.27 L473.1,402.14 L473.5,403.79 L473.9,405.22 L474.3,406.41 L474.7,407.39 L475.1,408.17 L475.5,408.79 L475.9,409.26 L476.3,409.61 L476.7,409.88 L477.1,410.08 L477.5,410.22 L477.9,410.33 L478.3,410.41 L478.7,410.47 L479.1,410.52 L479.5,410.55 L479.9,410.58 L480.3,410.60 L480.7,410.62 L481.1,410.64 L481.5,410.65 L481.9,410.66 L482.3,410.67 L482.7,410.67 L483.1,410.68 L483.5,410.68 L483.9,410.69 L484.3,410.69 L484.7,410.69 L485.1,410.69 L485.5,410.70 L485.9,410.70 L486.3,410.70 L486.7,410.70 L487.1,410.70 L487.5,410.70 L487.9,410.70 L488.3,410.70 L488.7,410.70 L489.1,410.70 L489.5,410.70 L489.9,410.70 L490.3,410.70 L490.7,410.70 L491.1,410.70 L491.5,410.70 L491.9,410.70 L492.3,410.70 L492.7,410.70 L493.1,410.70 L493.5,410.70 L493.9,410.70 L494.3,410.70 L494.7,410.70 L495.1,410.70 L495.5,410.70 L495.9,410.70 L496.3,410.70 L496.7,410.70 L497.1,410.70 L497.5,410.70 L497.9,410.70 L498.3,410.70 L498.7,410.70 L499.1,410.70 L499.5,410.70 L499.9,410.70 L500.3,410.70 L500.7,410.70 L501.1,410.70 L501.5,410.70 L501.9,410.70 L502.3,410.70 L502.7,410.70 L503.1,410.70 L503.5,410.70 L503.9,410.70 L504.3,410.70 L504.7,410.70 L505.1,410.70 L505.5,410.70 L505.9,410.70 L506.3,410.70 L506.50,411.70 L441.50,411.70 Z" fill="#f8d0cc" stroke="none" clip-path="url(#c771)"/>
<path d="M441.5,410.70 L441.9,410.70 L442.3,410.70 L442.7,410.70 L443.1,410.70 L443.5,410.70 L443.9,410.70 L444.3,410.70 L444.7,410.70 L445.1,410.70 L445.5,410.70 L445.9,410.70 L446.3,410.70 L446.7,410.70 L447.1,410.70 L447.5,410.70 L447.9,410.70 L448.3,410.70 L448.7,410.70 L449.1,410.70 L449.5,410.70 L449.9,410.70 L450.3,410.70 L450.7,410.70 L451.1,410.69 L451.5,410.69 L451.9,410.69 L452.3,410.69 L452.7,410.68 L453.1,410.68 L453.5,410.67 L453.9,410.66 L454.3,410.66 L454.7,410.65 L455.1,410.63 L455.5,410.62 L455.9,410.60 L456.3,410.58 L456.7,410.55 L457.1,410.52 L457.5,410.49 L457.9,410.45 L458.3,410.40 L458.7,410.35 L459.1,410.28 L459.5,410.21 L459.9,410.11 L460.3,409.99 L460.7,409.84 L461.1,409.65 L461.5,409.39 L461.9,409.06 L462.3,408.63 L462.7,408.08 L463.1,407.37 L463.5,406.48 L463.9,405.39 L464.3,404.08 L464.7,402.55 L465.1,400.80 L465.5,398.86 L465.9,396.78 L466.3,394.62 L466.7,392.48 L467.1,390.44 L467.5,388.62 L467.9,387.12 L468.3,386.02 L468.7,385.40 L469.1,385.30 L469.5,385.72 L469.9,386.64 L470.3,388.01 L470.7,389.73 L471.1,391.72 L471.5,393.87 L471.9,396.07 L472.3,398.23 L472.7,400.27 L473.1,402.14 L473.5,403.79 L473.9,405.22 L474.3,406.41 L474.7,407.39 L475.1,408.17 L475.5,408.79 L475.9,409.26 L476.3,409.61 L476.7,409.88 L477.1,410.08 L477.5,410.22 L477.9,410.33 L478.3,410.41 L478.7,410.47 L479.1,410.52 L479.5,410.55 L479.9,410.58 L480.3,410.60 L480.7,410.62 L481.1,410.64 L481.5,410.65 L481.9,410.66 L482.3,410.67 L482.7,410.67 L483.1,410.68 L483.5,410.68 L483.9,410.69 L484.3,410.69 L484.7,410.69 L485.1,410.69 L485.5,410.70 L485.9,410.70 L486.3,410.70 L486.7,410.70 L487.1,410.70 L487.5,410.70 L487.9,410.70 L488.3,410.70 L488.7,410.70 L489.1,410.70 L489.5,410.70 L489.9,410.70 L490.3,410.70 L490.7,410.70 L491.1,410.70 L491.5,410.70 L491.9,410.70 L492.3,410.70 L492.7,410.70 L493.1,410.70 L493.5,410.70 L493.9,410.70 L494.3,410.70 L494.7,410.70 L495.1,410.70 L495.5,410.70 L495.9,410.70 L496.3,410.70 L496.7,410.70 L497.1,410.70 L497.5,410.70 L497.9,410.70 L498.3,410.70 L498.7,410.70 L499.1,410.70 L499.5,410.70 L499.9,410.70 L500.3,410.70 L500.7,410.70 L501.1,410.70 L501.5,410.70 L501.9,410.70 L502.3,410.70 L502.7,410.70 L503.1,410.70 L503.5,410.70 L503.9,410.70 L504.3,410.70 L504.7,410.70 L505.1,410.70 L505.5,410.70 L505.9,410.70 L506.3,410.70" fill="none" stroke="#d66a78" stroke-width="0.8" clip-path="url(#c771)"/>
<path d="M441.5,397.30 L441.9,397.30 L442.3,397.30 L442.7,397.30 L443.1,397.30 L443.5,397.30 L443.9,397.30 L444.3,397.30 L444.7,397.30 L445.1,397.30 L445.5,397.30 L445.9,397.30 L446.3,397.30 L446.7,397.30 L447.1,397.30 L447.5,397.30 L447.9,397.30 L448.3,397.30 L448.7,397.30 L449.1,397.30 L449.5,397.30 L449.9,397.30 L450.3,397.30 L450.7,397.30 L451.1,397.30 L451.5,397.30 L451.9,397.30 L452.3,397.30 L452.7,397.30 L453.1,397.29 L453.5,397.29 L453.9,397.29 L454.3,397.28 L454.7,397.27 L455.1,397.26 L455.5,397.24 L455.9,397.21 L456.3,397.18 L456.7,397.12 L457.1,397.05 L457.5,396.96 L457.9,396.84 L458.3,396.67 L458.7,396.46 L459.1,396.20 L459.5,395.86 L459.9,395.44 L460.3,394.93 L460.7,394.32 L461.1,393.59 L461.5,392.73 L461.9,391.74 L462.3,390.62 L462.7,389.36 L463.1,387.98 L463.5,386.48 L463.9,384.89 L464.3,383.22 L464.7,381.52 L465.1,379.83 L465.5,378.17 L465.9,376.60 L466.3,375.16 L466.7,373.90 L467.1,372.85 L467.5,372.05 L467.9,371.53 L468.3,371.30 L468.7,371.38 L469.1,371.75 L469.5,372.41 L469.9,373.34 L470.3,374.50 L470.7,375.86 L471.1,377.37 L471.5,378.99 L471.9,380.67 L472.3,382.38 L472.7,384.06 L473.1,385.69 L473.5,387.24 L473.9,388.68 L474.3,390.01 L474.7,391.20 L475.1,392.25 L475.5,393.17 L475.9,393.97 L476.3,394.64 L476.7,395.20 L477.1,395.66 L477.5,396.04 L477.9,396.34 L478.3,396.57 L478.7,396.76 L479.1,396.90 L479.5,397.01 L479.9,397.09 L480.3,397.15 L480.7,397.20 L481.1,397.23 L481.5,397.25 L481.9,397.27 L482.3,397.28 L482.7,397.29 L483.1,397.29 L483.5,397.29 L483.9,397.30 L484.3,397.30 L484.7,397.30 L485.1,397.30 L485.5,397.30 L485.9,397.30 L486.3,397.30 L486.7,397.30 L487.1,397.30 L487.5,397.30 L487.9,397.30 L488.3,397.30 L488.7,397.30 L489.1,397.30 L489.5,397.30 L489.9,397.30 L490.3,397.30 L490.7,397.30 L491.1,397.30 L491.5,397.30 L491.9,397.30 L492.3,397.30 L492.7,397.30 L493.1,397.30 L493.5,397.30 L493.9,397.30 L494.3,397.30 L494.7,397.30 L495.1,397.30 L495.5,397.30 L495.9,397.30 L496.3,397.30 L496.7,397.30 L497.1,397.30 L497.5,397.30 L497.9,397.30 L498.3,397.30 L498.7,397.30 L499.1,397.30 L499.5,397.30 L499.9,397.30 L500.3,397.30 L500.7,397.30 L501.1,397.30 L501.5,397.30 L501.9,397.30 L502.3,397.30 L502.7,397.30 L503.1,397.30 L503.5,397.30 L503.9,397.30 L504.3,397.30 L504.7,397.30 L505.1,397.30 L505.5,397.30 L505.9,397.30 L506.3,397.30" fill="none" stroke="#a82842" stroke-width="1.0" clip-path="url(#c771)"/>
<rect x="441.50" y="368.70" width="65.00" height="42.00" fill="none" stroke="#6a6a6a" stroke-width="1.15" />
<rect x="456.00" y="410.70" width="0.8" height="1.40" fill="#222"/>
<rect x="456.58" y="410.70" width="0.8" height="1.08" fill="#222"/>
<rect x="457.22" y="410.70" width="0.8" height="1.66" fill="#222"/>
<rect x="457.88" y="410.70" width="0.8" height="1.29" fill="#222"/>
<rect x="458.86" y="410.70" width="0.8" height="1.70" fill="#222"/>
<rect x="459.66" y="410.70" width="0.8" height="1.14" fill="#222"/>
<line x1="451.50" y1="410.70" x2="451.50" y2="412.70" stroke="#333" stroke-width="0.7" />
<line x1="467.50" y1="410.70" x2="467.50" y2="412.70" stroke="#333" stroke-width="0.7" />
<line x1="489.50" y1="410.70" x2="489.50" y2="412.70" stroke="#333" stroke-width="0.7" />
<rect x="473.87" y="410.70" width="0.5" height="1.2" fill="#666"/>
<rect x="477.75" y="410.70" width="0.5" height="1.2" fill="#666"/>
<rect x="480.50" y="410.70" width="0.5" height="1.2" fill="#666"/>
<rect x="482.63" y="410.70" width="0.5" height="1.2" fill="#666"/>
<rect x="484.37" y="410.70" width="0.5" height="1.2" fill="#666"/>
<rect x="485.84" y="410.70" width="0.5" height="1.2" fill="#666"/>
<rect x="487.12" y="410.70" width="0.5" height="1.2" fill="#666"/>
<rect x="488.24" y="410.70" width="0.5" height="1.2" fill="#666"/>
<text x="299.80" y="396.00" font-size="6.9" fill="#222" text-anchor="end" textLength="21.2" lengthAdjust="spacingAndGlyphs" >Vehicle</text>
<text x="299.80" y="407.50" font-size="6.9" fill="#222" text-anchor="end" textLength="12.5" lengthAdjust="spacingAndGlyphs" >VEN</text>
<line x1="303.20" y1="419.50" x2="364.90" y2="419.50" stroke="#111" stroke-width="1.1" />
<path d="M368.20,419.50 L364.40,417.70 L364.40,421.30 Z" fill="#111"/>
<text x="367.50" y="430.40" font-size="8.4" fill="#222" text-anchor="end" textLength="17.4" lengthAdjust="spacingAndGlyphs" >BCL-2</text>
<line x1="372.20" y1="419.50" x2="433.90" y2="419.50" stroke="#111" stroke-width="1.1" />
<path d="M437.20,419.50 L433.40,417.70 L433.40,421.30 Z" fill="#111"/>
<text x="435.50" y="430.40" font-size="8.4" fill="#222" text-anchor="end" textLength="17.6" lengthAdjust="spacingAndGlyphs" >MCL-1</text>
<line x1="441.50" y1="419.50" x2="503.20" y2="419.50" stroke="#111" stroke-width="1.1" />
<path d="M506.50,419.50 L502.70,417.70 L502.70,421.30 Z" fill="#111"/>
<text x="504.70" y="430.40" font-size="8.4" fill="#222" text-anchor="end" textLength="17" lengthAdjust="spacingAndGlyphs" >BCL-XL</text>
<text x="8.60" y="452.20" font-size="11" fill="#111" text-anchor="start" font-weight="bold" >F</text>
<text x="123.90" y="462.00" font-size="9.0" fill="#222" text-anchor="middle" textLength="26" lengthAdjust="spacingAndGlyphs" >Spleen</text>
<line x1="55.00" y1="472.50" x2="55.00" y2="538.80" stroke="#1a1a1a" stroke-width="1.3" />
<line x1="54.50" y1="538.40" x2="117.50" y2="538.40" stroke="#1a1a1a" stroke-width="1.3" />
<line x1="52.50" y1="538.40" x2="55.00" y2="538.40" stroke="#1a1a1a" stroke-width="1.0" />
<text x="50.00" y="540.60" font-size="6.5" fill="#333" text-anchor="end" >10<tspan font-size="4.2" dy="-2.6">0</tspan></text>
<line x1="52.50" y1="522.40" x2="55.00" y2="522.40" stroke="#1a1a1a" stroke-width="1.0" />
<text x="50.00" y="524.60" font-size="6.5" fill="#333" text-anchor="end" >10<tspan font-size="4.2" dy="-2.6">1</tspan></text>
<line x1="52.50" y1="506.40" x2="55.00" y2="506.40" stroke="#1a1a1a" stroke-width="1.0" />
<text x="50.00" y="508.60" font-size="6.5" fill="#333" text-anchor="end" >10<tspan font-size="4.2" dy="-2.6">2</tspan></text>
<line x1="52.50" y1="490.40" x2="55.00" y2="490.40" stroke="#1a1a1a" stroke-width="1.0" />
<text x="50.00" y="492.60" font-size="6.5" fill="#333" text-anchor="end" >10<tspan font-size="4.2" dy="-2.6">3</tspan></text>
<line x1="52.50" y1="474.40" x2="55.00" y2="474.40" stroke="#1a1a1a" stroke-width="1.0" />
<text x="50.00" y="476.60" font-size="6.5" fill="#333" text-anchor="end" >10<tspan font-size="4.2" dy="-2.6">4</tspan></text>
<text x="0" y="0" font-size="8.2" fill="#333" text-anchor="middle" transform="translate(33.20,505.40) rotate(-90)" textLength="60" lengthAdjust="spacingAndGlyphs">Cell number (10<tspan font-size="5.4" dy="-3">-6</tspan><tspan dy="3">)</tspan></text>
<rect x="59.20" y="491.30" width="9.60" height="47.10" fill="#e8887a" stroke="none" stroke-width="1" />
<circle cx="61.40" cy="491.80" r="1.40" fill="white" stroke="#333" stroke-width="0.6"/>
<circle cx="64.00" cy="489.80" r="1.40" fill="white" stroke="#333" stroke-width="0.6"/>
<circle cx="66.60" cy="492.10" r="1.40" fill="white" stroke="#333" stroke-width="0.6"/>
<circle cx="63.00" cy="487.80" r="1.40" fill="white" stroke="#333" stroke-width="0.6"/>
<circle cx="65.50" cy="493.80" r="1.40" fill="white" stroke="#333" stroke-width="0.6"/>
<rect x="73.90" y="491.30" width="9.60" height="47.10" fill="#c8102e" stroke="none" stroke-width="1" />
<circle cx="76.10" cy="491.50" r="1.40" fill="white" stroke="#333" stroke-width="0.6"/>
<circle cx="78.70" cy="489.50" r="1.40" fill="white" stroke="#333" stroke-width="0.6"/>
<circle cx="81.30" cy="491.80" r="1.40" fill="white" stroke="#333" stroke-width="0.6"/>
<circle cx="77.70" cy="487.50" r="1.40" fill="white" stroke="#333" stroke-width="0.6"/>
<circle cx="80.20" cy="493.50" r="1.40" fill="white" stroke="#333" stroke-width="0.6"/>
<rect x="89.20" y="522.00" width="9.60" height="16.40" fill="#98a3c8" stroke="none" stroke-width="1" />
<path d="M91.40,520.40 L92.94,523.06 L89.86,523.06 Z" fill="white" stroke="#333" stroke-width="0.6"/>
<path d="M93.00,518.90 L94.54,521.56 L91.46,521.56 Z" fill="white" stroke="#333" stroke-width="0.6"/>
<path d="M95.00,519.40 L96.54,522.06 L93.46,522.06 Z" fill="white" stroke="#333" stroke-width="0.6"/>
<path d="M96.60,520.90 L98.14,523.56 L95.06,523.56 Z" fill="white" stroke="#333" stroke-width="0.6"/>
<path d="M94.00,521.90 L95.54,524.56 L92.46,524.56 Z" fill="white" stroke="#333" stroke-width="0.6"/>
<path d="M92.00,522.40 L93.54,525.06 L90.46,525.06 Z" fill="white" stroke="#333" stroke-width="0.6"/>
<path d="M96.00,522.60 L97.54,525.26 L94.46,525.26 Z" fill="white" stroke="#333" stroke-width="0.6"/>
<path d="M94.00,524.40 L95.54,527.06 L92.46,527.06 Z" fill="white" stroke="#333" stroke-width="0.6"/>
<rect x="103.90" y="531.30" width="9.60" height="7.10" fill="#124a8a" stroke="none" stroke-width="1" />
<path d="M106.10,529.70 L107.64,532.36 L104.56,532.36 Z" fill="white" stroke="#333" stroke-width="0.6"/>
<path d="M107.70,528.70 L109.24,531.36 L106.16,531.36 Z" fill="white" stroke="#333" stroke-width="0.6"/>
<path d="M109.70,528.90 L111.24,531.56 L108.16,531.56 Z" fill="white" stroke="#333" stroke-width="0.6"/>
<path d="M111.30,530.20 L112.84,532.86 L109.76,532.86 Z" fill="white" stroke="#333" stroke-width="0.6"/>
<path d="M108.70,530.90 L110.24,533.56 L107.16,533.56 Z" fill="white" stroke="#333" stroke-width="0.6"/>
<path d="M106.70,531.20 L108.24,533.86 L105.16,533.86 Z" fill="white" stroke="#333" stroke-width="0.6"/>
<path d="M110.70,531.20 L112.24,533.86 L109.16,533.86 Z" fill="white" stroke="#333" stroke-width="0.6"/>
<line x1="64.00" y1="538.40" x2="64.00" y2="540.80" stroke="#1a1a1a" stroke-width="1.0" />
<line x1="78.70" y1="538.40" x2="78.70" y2="540.80" stroke="#1a1a1a" stroke-width="1.0" />
<line x1="94.00" y1="538.40" x2="94.00" y2="540.80" stroke="#1a1a1a" stroke-width="1.0" />
<line x1="108.70" y1="538.40" x2="108.70" y2="540.80" stroke="#1a1a1a" stroke-width="1.0" />
<line x1="64.50" y1="478.80" x2="79.50" y2="478.80" stroke="#222" stroke-width="0.7" />
<text x="72.00" y="477.60" font-size="6.6" fill="#222" text-anchor="middle" >ns</text>
<line x1="93.80" y1="478.80" x2="110.00" y2="478.80" stroke="#222" stroke-width="0.7" />
<text x="101.90" y="479.50" font-size="7.3" fill="#222" text-anchor="middle" >**</text>
<text x="0" y="0" font-size="6.7" fill="#222" text-anchor="end" transform="translate(66.80,548.20) rotate(-45)">Vehicle</text>
<text x="0" y="0" font-size="6.7" fill="#222" text-anchor="end" transform="translate(81.50,548.20) rotate(-45)">VEN</text>
<text x="0" y="0" font-size="6.7" fill="#222" text-anchor="end" transform="translate(96.80,548.20) rotate(-45)">Vehicle</text>
<text x="0" y="0" font-size="6.7" fill="#222" text-anchor="end" transform="translate(111.50,548.20) rotate(-45)">VEN</text>
<line x1="152.90" y1="471.80" x2="152.90" y2="539.40" stroke="#1a1a1a" stroke-width="1.3" />
<line x1="152.40" y1="539.00" x2="215.70" y2="539.00" stroke="#1a1a1a" stroke-width="1.3" />
<line x1="150.40" y1="539.00" x2="152.90" y2="539.00" stroke="#1a1a1a" stroke-width="1.0" />
<text x="147.20" y="541.40" font-size="6.7" fill="#333" text-anchor="end" >0</text>
<line x1="150.40" y1="522.80" x2="152.90" y2="522.80" stroke="#1a1a1a" stroke-width="1.0" />
<text x="147.20" y="525.20" font-size="6.7" fill="#333" text-anchor="end" >20</text>
<line x1="150.40" y1="506.60" x2="152.90" y2="506.60" stroke="#1a1a1a" stroke-width="1.0" />
<text x="147.20" y="509.00" font-size="6.7" fill="#333" text-anchor="end" >40</text>
<line x1="150.40" y1="490.40" x2="152.90" y2="490.40" stroke="#1a1a1a" stroke-width="1.0" />
<text x="147.20" y="492.80" font-size="6.7" fill="#333" text-anchor="end" >60</text>
<line x1="150.40" y1="474.20" x2="152.90" y2="474.20" stroke="#1a1a1a" stroke-width="1.0" />
<text x="147.20" y="476.60" font-size="6.7" fill="#333" text-anchor="end" >80</text>
<text x="0" y="0" font-size="8.4" fill="#333" text-anchor="middle" transform="translate(133.90,504.80) rotate(-90)" textLength="45.2" lengthAdjust="spacingAndGlyphs">% Ki-67 + cells</text>
<rect x="157.70" y="515.00" width="10.20" height="24.00" fill="#e8887a" stroke="none" stroke-width="1" />
<line x1="162.80" y1="512.40" x2="162.80" y2="517.60" stroke="#222" stroke-width="0.6" />
<line x1="161.30" y1="512.40" x2="164.30" y2="512.40" stroke="#222" stroke-width="0.6" />
<circle cx="160.00" cy="510.60" r="1.40" fill="white" stroke="#333" stroke-width="0.6"/>
<circle cx="165.60" cy="510.60" r="1.40" fill="white" stroke="#333" stroke-width="0.6"/>
<circle cx="160.80" cy="516.50" r="1.40" fill="white" stroke="#333" stroke-width="0.6"/>
<circle cx="164.30" cy="516.00" r="1.40" fill="white" stroke="#333" stroke-width="0.6"/>
<circle cx="162.80" cy="521.50" r="1.40" fill="white" stroke="#333" stroke-width="0.6"/>
<circle cx="159.80" cy="519.50" r="1.40" fill="white" stroke="#333" stroke-width="0.6"/>
<rect x="172.60" y="502.80" width="10.20" height="36.20" fill="#c8102e" stroke="none" stroke-width="1" />
<line x1="177.70" y1="500.20" x2="177.70" y2="505.40" stroke="#222" stroke-width="0.6" />
<line x1="176.20" y1="500.20" x2="179.20" y2="500.20" stroke="#222" stroke-width="0.6" />
<circle cx="177.70" cy="495.80" r="1.40" fill="white" stroke="#333" stroke-width="0.6"/>
<circle cx="174.90" cy="503.30" r="1.40" fill="white" stroke="#333" stroke-width="0.6"/>
<circle cx="180.50" cy="503.00" r="1.40" fill="white" stroke="#333" stroke-width="0.6"/>
<circle cx="175.70" cy="508.80" r="1.40" fill="white" stroke="#333" stroke-width="0.6"/>
<circle cx="179.90" cy="509.80" r="1.40" fill="white" stroke="#333" stroke-width="0.6"/>
<rect x="188.10" y="516.30" width="10.20" height="22.70" fill="#98a3c8" stroke="none" stroke-width="1" />
<line x1="193.20" y1="513.70" x2="193.20" y2="518.90" stroke="#222" stroke-width="0.6" />
<line x1="191.70" y1="513.70" x2="194.70" y2="513.70" stroke="#222" stroke-width="0.6" />
<path d="M190.40,510.50 L191.94,513.16 L188.86,513.16 Z" fill="white" stroke="#333" stroke-width="0.6"/>
<path d="M194.20,512.70 L195.74,515.36 L192.66,515.36 Z" fill="white" stroke="#333" stroke-width="0.6"/>
<path d="M196.00,511.10 L197.54,513.76 L194.46,513.76 Z" fill="white" stroke="#333" stroke-width="0.6"/>
<path d="M191.70,516.70 L193.24,519.36 L190.16,519.36 Z" fill="white" stroke="#333" stroke-width="0.6"/>
<path d="M194.70,518.70 L196.24,521.36 L193.16,521.36 Z" fill="white" stroke="#333" stroke-width="0.6"/>
<path d="M193.20,521.70 L194.74,524.36 L191.66,524.36 Z" fill="white" stroke="#333" stroke-width="0.6"/>
<rect x="202.20" y="495.30" width="10.20" height="43.70" fill="#124a8a" stroke="none" stroke-width="1" />
<line x1="207.30" y1="493.10" x2="207.30" y2="497.50" stroke="#222" stroke-width="0.6" />
<line x1="205.80" y1="493.10" x2="208.80" y2="493.10" stroke="#222" stroke-width="0.6" />
<path d="M207.30,486.20 L208.84,488.86 L205.76,488.86 Z" fill="white" stroke="#333" stroke-width="0.6"/>
<path d="M204.50,490.10 L206.04,492.76 L202.96,492.76 Z" fill="white" stroke="#333" stroke-width="0.6"/>
<path d="M210.10,490.10 L211.64,492.76 L208.56,492.76 Z" fill="white" stroke="#333" stroke-width="0.6"/>
<path d="M204.90,494.70 L206.44,497.36 L203.36,497.36 Z" fill="white" stroke="#333" stroke-width="0.6"/>
<path d="M209.70,495.20 L211.24,497.86 L208.16,497.86 Z" fill="white" stroke="#333" stroke-width="0.6"/>
<path d="M207.30,500.20 L208.84,502.86 L205.76,502.86 Z" fill="white" stroke="#333" stroke-width="0.6"/>
<line x1="162.80" y1="539.00" x2="162.80" y2="541.40" stroke="#1a1a1a" stroke-width="1.0" />
<line x1="177.70" y1="539.00" x2="177.70" y2="541.40" stroke="#1a1a1a" stroke-width="1.0" />
<line x1="193.20" y1="539.00" x2="193.20" y2="541.40" stroke="#1a1a1a" stroke-width="1.0" />
<line x1="207.30" y1="539.00" x2="207.30" y2="541.40" stroke="#1a1a1a" stroke-width="1.0" />
<line x1="163.00" y1="479.60" x2="178.00" y2="479.60" stroke="#222" stroke-width="0.7" />
<text x="170.50" y="480.30" font-size="7.3" fill="#222" text-anchor="middle" >*</text>
<line x1="192.80" y1="479.60" x2="207.60" y2="479.60" stroke="#222" stroke-width="0.7" />
<text x="200.20" y="480.30" font-size="7.3" fill="#222" text-anchor="middle" >***</text>
<text x="0" y="0" font-size="6.7" fill="#222" text-anchor="end" transform="translate(165.60,548.60) rotate(-45)">Vehicle</text>
<text x="0" y="0" font-size="6.7" fill="#222" text-anchor="end" transform="translate(180.50,548.60) rotate(-45)">VEN</text>
<text x="0" y="0" font-size="6.7" fill="#222" text-anchor="end" transform="translate(196.00,548.60) rotate(-45)">Vehicle</text>
<text x="0" y="0" font-size="6.7" fill="#222" text-anchor="end" transform="translate(210.10,548.60) rotate(-45)">VEN</text>
<circle cx="223.80" cy="511.40" r="1.60" fill="white" stroke="#333" stroke-width="0.95"/>
<text x="229.20" y="513.60" font-size="7.0" fill="#c8143c" text-anchor="start" textLength="25.6" lengthAdjust="spacingAndGlyphs" >CLL cells</text>
<path d="M223.80,519.78 L225.56,522.82 L222.04,522.82 Z" fill="white" stroke="#333" stroke-width="0.95"/>
<text x="229.20" y="523.60" font-size="7.0" fill="#2a5a9a" text-anchor="start" textLength="26.8" lengthAdjust="spacingAndGlyphs" >wt B cells</text>
<text x="278.20" y="452.80" font-size="11" fill="#111" text-anchor="start" font-weight="bold" >H</text>
<text x="333.40" y="462.00" font-size="9.6" fill="#222" text-anchor="middle" textLength="23.8" lengthAdjust="spacingAndGlyphs" >BCL-2</text>
<line x1="310.50" y1="476.70" x2="310.50" y2="534.00" stroke="#1a1a1a" stroke-width="1.3" />
<line x1="310.00" y1="533.60" x2="355.20" y2="533.60" stroke="#1a1a1a" stroke-width="1.3" />
<line x1="308.00" y1="533.60" x2="310.50" y2="533.60" stroke="#1a1a1a" stroke-width="1.0" />
<text x="304.70" y="535.90" font-size="6.6" fill="#333" text-anchor="end" >0</text>
<line x1="308.00" y1="522.68" x2="310.50" y2="522.68" stroke="#1a1a1a" stroke-width="1.0" />
<text x="304.70" y="524.98" font-size="6.6" fill="#333" text-anchor="end" >1</text>
<line x1="308.00" y1="511.76" x2="310.50" y2="511.76" stroke="#1a1a1a" stroke-width="1.0" />
<text x="304.70" y="514.06" font-size="6.6" fill="#333" text-anchor="end" >2</text>
<line x1="308.00" y1="500.84" x2="310.50" y2="500.84" stroke="#1a1a1a" stroke-width="1.0" />
<text x="304.70" y="503.14" font-size="6.6" fill="#333" text-anchor="end" >3</text>
<line x1="308.00" y1="489.92" x2="310.50" y2="489.92" stroke="#1a1a1a" stroke-width="1.0" />
<text x="304.70" y="492.22" font-size="6.6" fill="#333" text-anchor="end" >4</text>
<line x1="308.00" y1="479.00" x2="310.50" y2="479.00" stroke="#1a1a1a" stroke-width="1.0" />
<text x="304.70" y="481.30" font-size="6.6" fill="#333" text-anchor="end" >5</text>
<rect x="317.00" y="508.80" width="12.80" height="24.80" fill="#e8887a" stroke="none" stroke-width="1" />
<line x1="323.40" y1="507.60" x2="323.40" y2="510.00" stroke="#222" stroke-width="0.6" />
<line x1="321.90" y1="507.60" x2="324.90" y2="507.60" stroke="#222" stroke-width="0.6" />
<circle cx="319.90" cy="507.30" r="1.45" fill="white" stroke="#333" stroke-width="0.65"/>
<circle cx="323.40" cy="504.30" r="1.45" fill="white" stroke="#333" stroke-width="0.65"/>
<circle cx="326.90" cy="507.30" r="1.45" fill="white" stroke="#333" stroke-width="0.65"/>
<circle cx="319.90" cy="511.30" r="1.45" fill="white" stroke="#333" stroke-width="0.65"/>
<circle cx="326.90" cy="511.30" r="1.45" fill="white" stroke="#333" stroke-width="0.65"/>
<circle cx="323.40" cy="509.80" r="1.45" fill="white" stroke="#333" stroke-width="0.65"/>
<rect x="336.70" y="492.30" width="12.80" height="41.30" fill="#c8102e" stroke="none" stroke-width="1" />
<line x1="343.10" y1="491.10" x2="343.10" y2="493.50" stroke="#222" stroke-width="0.6" />
<line x1="341.60" y1="491.10" x2="344.60" y2="491.10" stroke="#222" stroke-width="0.6" />
<circle cx="339.10" cy="489.50" r="1.45" fill="white" stroke="#333" stroke-width="0.65"/>
<circle cx="343.10" cy="489.10" r="1.45" fill="white" stroke="#333" stroke-width="0.65"/>
<circle cx="347.10" cy="489.70" r="1.45" fill="white" stroke="#333" stroke-width="0.65"/>
<circle cx="343.10" cy="498.10" r="1.45" fill="white" stroke="#333" stroke-width="0.65"/>
<line x1="323.40" y1="533.60" x2="323.40" y2="536.00" stroke="#1a1a1a" stroke-width="1.0" />
<line x1="343.10" y1="533.60" x2="343.10" y2="536.00" stroke="#1a1a1a" stroke-width="1.0" />
<line x1="324.20" y1="480.60" x2="342.60" y2="480.60" stroke="#222" stroke-width="0.7" />
<text x="333.40" y="481.30" font-size="8.4" fill="#222" text-anchor="middle" >***</text>
<text x="0" y="0" font-size="8.4" fill="#333" text-anchor="middle" transform="translate(294.60,503.60) rotate(-90)" textLength="51" lengthAdjust="spacingAndGlyphs">MFI BCL-2 (10<tspan font-size="5.5" dy="-3">-2</tspan><tspan dy="3">)</tspan></text>
<text x="312.80" y="546.00" font-size="6.8" fill="#222" text-anchor="start" textLength="36.6" lengthAdjust="spacingAndGlyphs" >Vehicle VEN</text>
<text x="411.40" y="462.00" font-size="9.6" fill="#222" text-anchor="middle" textLength="25.7" lengthAdjust="spacingAndGlyphs" >MCL-1</text>
<line x1="389.00" y1="476.70" x2="389.00" y2="534.00" stroke="#1a1a1a" stroke-width="1.3" />
<line x1="388.50" y1="533.60" x2="431.80" y2="533.60" stroke="#1a1a1a" stroke-width="1.3" />
<line x1="386.50" y1="533.60" x2="389.00" y2="533.60" stroke="#1a1a1a" stroke-width="1.0" />
<text x="383.20" y="535.90" font-size="6.6" fill="#333" text-anchor="end" >0</text>
<line x1="386.50" y1="522.68" x2="389.00" y2="522.68" stroke="#1a1a1a" stroke-width="1.0" />
<text x="383.20" y="524.98" font-size="6.6" fill="#333" text-anchor="end" >2</text>
<line x1="386.50" y1="511.76" x2="389.00" y2="511.76" stroke="#1a1a1a" stroke-width="1.0" />
<text x="383.20" y="514.06" font-size="6.6" fill="#333" text-anchor="end" >4</text>
<line x1="386.50" y1="500.84" x2="389.00" y2="500.84" stroke="#1a1a1a" stroke-width="1.0" />
<text x="383.20" y="503.14" font-size="6.6" fill="#333" text-anchor="end" >6</text>
<line x1="386.50" y1="489.92" x2="389.00" y2="489.92" stroke="#1a1a1a" stroke-width="1.0" />
<text x="383.20" y="492.22" font-size="6.6" fill="#333" text-anchor="end" >8</text>
<line x1="386.50" y1="479.00" x2="389.00" y2="479.00" stroke="#1a1a1a" stroke-width="1.0" />
<text x="383.20" y="481.30" font-size="6.6" fill="#333" text-anchor="end" >10</text>
<rect x="395.90" y="505.40" width="12.80" height="28.20" fill="#e8887a" stroke="none" stroke-width="1" />
<line x1="402.30" y1="504.20" x2="402.30" y2="506.60" stroke="#222" stroke-width="0.6" />
<line x1="400.80" y1="504.20" x2="403.80" y2="504.20" stroke="#222" stroke-width="0.6" />
<circle cx="398.10" cy="505.90" r="1.45" fill="white" stroke="#333" stroke-width="0.65"/>
<circle cx="400.80" cy="504.90" r="1.45" fill="white" stroke="#333" stroke-width="0.65"/>
<circle cx="403.80" cy="505.90" r="1.45" fill="white" stroke="#333" stroke-width="0.65"/>
<circle cx="406.50" cy="505.10" r="1.45" fill="white" stroke="#333" stroke-width="0.65"/>
<rect x="415.40" y="497.30" width="12.80" height="36.30" fill="#c8102e" stroke="none" stroke-width="1" />
<line x1="421.80" y1="496.10" x2="421.80" y2="498.50" stroke="#222" stroke-width="0.6" />
<line x1="420.30" y1="496.10" x2="423.30" y2="496.10" stroke="#222" stroke-width="0.6" />
<circle cx="418.30" cy="496.50" r="1.45" fill="white" stroke="#333" stroke-width="0.65"/>
<circle cx="421.80" cy="495.30" r="1.45" fill="white" stroke="#333" stroke-width="0.65"/>
<circle cx="425.30" cy="494.10" r="1.45" fill="white" stroke="#333" stroke-width="0.65"/>
<circle cx="423.30" cy="499.70" r="1.45" fill="white" stroke="#333" stroke-width="0.65"/>
<line x1="402.30" y1="533.60" x2="402.30" y2="536.00" stroke="#1a1a1a" stroke-width="1.0" />
<line x1="421.80" y1="533.60" x2="421.80" y2="536.00" stroke="#1a1a1a" stroke-width="1.0" />
<line x1="402.00" y1="480.60" x2="421.50" y2="480.60" stroke="#222" stroke-width="0.7" />
<text x="411.75" y="481.30" font-size="8.4" fill="#222" text-anchor="middle" >***</text>
<text x="0" y="0" font-size="8.4" fill="#333" text-anchor="middle" transform="translate(368.80,504.60) rotate(-90)" textLength="52" lengthAdjust="spacingAndGlyphs">MFI MCL-1 (10<tspan font-size="5.5" dy="-3">-2</tspan><tspan dy="3">)</tspan></text>
<text x="391.70" y="546.00" font-size="6.8" fill="#222" text-anchor="start" textLength="36.3" lengthAdjust="spacingAndGlyphs" >Vehicle VEN</text>
<text x="490.30" y="462.00" font-size="9.6" fill="#222" text-anchor="middle" textLength="29.2" lengthAdjust="spacingAndGlyphs" >BCL-XL</text>
<line x1="467.50" y1="476.70" x2="467.50" y2="534.00" stroke="#1a1a1a" stroke-width="1.3" />
<line x1="467.00" y1="533.60" x2="512.90" y2="533.60" stroke="#1a1a1a" stroke-width="1.3" />
<line x1="465.00" y1="533.60" x2="467.50" y2="533.60" stroke="#1a1a1a" stroke-width="1.0" />
<text x="461.70" y="535.90" font-size="6.6" fill="#333" text-anchor="end" >0</text>
<line x1="465.00" y1="522.68" x2="467.50" y2="522.68" stroke="#1a1a1a" stroke-width="1.0" />
<text x="461.70" y="524.98" font-size="6.6" fill="#333" text-anchor="end" >2</text>
<line x1="465.00" y1="511.76" x2="467.50" y2="511.76" stroke="#1a1a1a" stroke-width="1.0" />
<text x="461.70" y="514.06" font-size="6.6" fill="#333" text-anchor="end" >4</text>
<line x1="465.00" y1="500.84" x2="467.50" y2="500.84" stroke="#1a1a1a" stroke-width="1.0" />
<text x="461.70" y="503.14" font-size="6.6" fill="#333" text-anchor="end" >6</text>
<line x1="465.00" y1="489.92" x2="467.50" y2="489.92" stroke="#1a1a1a" stroke-width="1.0" />
<text x="461.70" y="492.22" font-size="6.6" fill="#333" text-anchor="end" >8</text>
<line x1="465.00" y1="479.00" x2="467.50" y2="479.00" stroke="#1a1a1a" stroke-width="1.0" />
<text x="461.70" y="481.30" font-size="6.6" fill="#333" text-anchor="end" >10</text>
<rect x="474.30" y="489.30" width="12.80" height="44.30" fill="#e8887a" stroke="none" stroke-width="1" />
<line x1="480.70" y1="488.10" x2="480.70" y2="490.50" stroke="#222" stroke-width="0.6" />
<line x1="479.20" y1="488.10" x2="482.20" y2="488.10" stroke="#222" stroke-width="0.6" />
<circle cx="477.20" cy="484.80" r="1.45" fill="white" stroke="#333" stroke-width="0.65"/>
<circle cx="480.70" cy="484.30" r="1.45" fill="white" stroke="#333" stroke-width="0.65"/>
<circle cx="484.20" cy="487.80" r="1.45" fill="white" stroke="#333" stroke-width="0.65"/>
<circle cx="477.20" cy="490.80" r="1.45" fill="white" stroke="#333" stroke-width="0.65"/>
<circle cx="484.20" cy="491.30" r="1.45" fill="white" stroke="#333" stroke-width="0.65"/>
<circle cx="480.70" cy="493.30" r="1.45" fill="white" stroke="#333" stroke-width="0.65"/>
<rect x="493.90" y="492.30" width="12.80" height="41.30" fill="#c8102e" stroke="none" stroke-width="1" />
<line x1="500.30" y1="491.10" x2="500.30" y2="493.50" stroke="#222" stroke-width="0.6" />
<line x1="498.80" y1="491.10" x2="501.80" y2="491.10" stroke="#222" stroke-width="0.6" />
<circle cx="496.80" cy="489.30" r="1.45" fill="white" stroke="#333" stroke-width="0.65"/>
<circle cx="503.80" cy="487.30" r="1.45" fill="white" stroke="#333" stroke-width="0.65"/>
<circle cx="500.30" cy="496.80" r="1.45" fill="white" stroke="#333" stroke-width="0.65"/>
<circle cx="503.30" cy="493.80" r="1.45" fill="white" stroke="#333" stroke-width="0.65"/>
<line x1="480.70" y1="533.60" x2="480.70" y2="536.00" stroke="#1a1a1a" stroke-width="1.0" />
<line x1="500.30" y1="533.60" x2="500.30" y2="536.00" stroke="#1a1a1a" stroke-width="1.0" />
<line x1="480.80" y1="480.60" x2="499.10" y2="480.60" stroke="#222" stroke-width="0.7" />
<text x="489.95" y="479.40" font-size="6.6" fill="#222" text-anchor="middle" >ns</text>
<text x="0" y="0" font-size="8.4" fill="#333" text-anchor="middle" transform="translate(448.30,504.30) rotate(-90)" textLength="53.4" lengthAdjust="spacingAndGlyphs">MFI BCL-XL (10<tspan font-size="5.5" dy="-3">-2</tspan><tspan dy="3">)</tspan></text>
<text x="470.00" y="546.00" font-size="6.8" fill="#222" text-anchor="start" textLength="36.7" lengthAdjust="spacingAndGlyphs" >Vehicle VEN</text>
</svg>
</body></html>
